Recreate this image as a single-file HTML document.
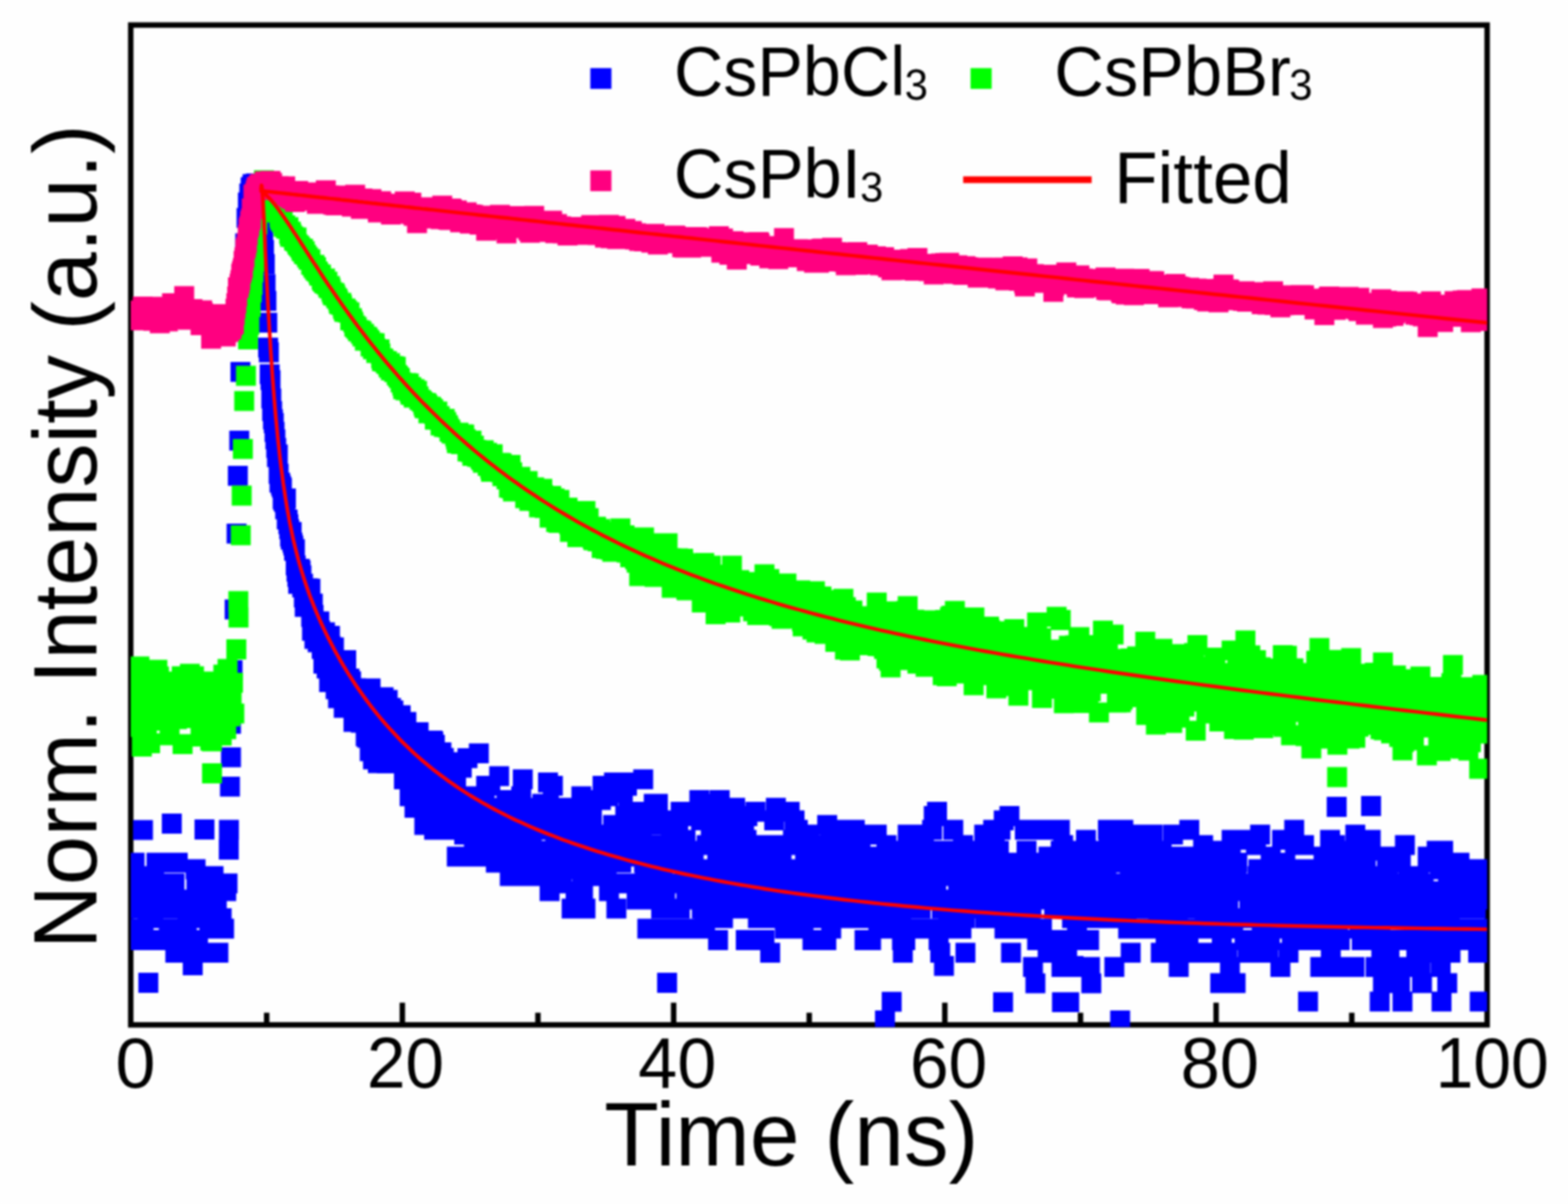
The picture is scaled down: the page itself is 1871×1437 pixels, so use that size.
<!DOCTYPE html>
<html lang="en"><head><meta charset="utf-8"><title>Time-resolved PL decay</title>
<style>html,body{margin:0;padding:0;background:#fefefe}body{width:1871px;height:1437px;overflow:hidden}svg{display:block;filter:blur(1.25px)}</style></head>
<body>
<svg width="1871" height="1437" viewBox="0 0 1871 1437">
<rect width="1871" height="1437" fill="#fefefe"/>
<defs><clipPath id="pc"><rect x="156.0" y="29.9" width="1618.5" height="1195.9"/></clipPath></defs>
<g stroke="#000" stroke-width="6.5" fill="none">
<rect x="156.0" y="29.9" width="1618.5" height="1193.3"/>
<line x1="318.2" y1="1223.2" x2="318.2" y2="1208.7"/>
<line x1="480.1" y1="1223.2" x2="480.1" y2="1196.7"/>
<line x1="641.9" y1="1223.2" x2="641.9" y2="1208.7"/>
<line x1="803.8" y1="1223.2" x2="803.8" y2="1196.7"/>
<line x1="965.6" y1="1223.2" x2="965.6" y2="1208.7"/>
<line x1="1127.4" y1="1223.2" x2="1127.4" y2="1196.7"/>
<line x1="1289.3" y1="1223.2" x2="1289.3" y2="1208.7"/>
<line x1="1451.1" y1="1223.2" x2="1451.1" y2="1196.7"/>
<line x1="1613.0" y1="1223.2" x2="1613.0" y2="1208.7"/>
</g>
<g clip-path="url(#pc)">
<path fill="#0000ff" d="M144.8,1033.8h23.8v23.8h-23.8zM145.8,1042.5h23.8v23.8h-23.8zM146.8,1042.5h23.8v23.8h-23.8zM147.7,1072.4h23.8v23.8h-23.8zM148.7,1017.8h23.8v23.8h-23.8zM149.7,1072.4h23.8v23.8h-23.8zM150.6,1051.8h23.8v23.8h-23.8zM151.6,1096.4h23.8v23.8h-23.8zM152.6,1096.4h23.8v23.8h-23.8zM153.6,1110.1h23.8v23.8h-23.8zM154.5,1096.4h23.8v23.8h-23.8zM155.5,1072.4h23.8v23.8h-23.8zM156.5,1096.4h23.8v23.8h-23.8zM157.4,1110.1h23.8v23.8h-23.8zM158.4,1061.7h23.8v23.8h-23.8zM159.4,1096.4h23.8v23.8h-23.8zM160.4,1072.4h23.8v23.8h-23.8zM161.3,1110.1h23.8v23.8h-23.8zM162.3,1051.8h23.8v23.8h-23.8zM163.3,1072.4h23.8v23.8h-23.8zM164.2,1083.9h23.8v23.8h-23.8zM165.2,1083.9h23.8v23.8h-23.8zM166.2,1033.8h23.8v23.8h-23.8zM167.2,1083.9h23.8v23.8h-23.8zM168.1,1072.4h23.8v23.8h-23.8zM169.1,1072.4h23.8v23.8h-23.8zM170.1,1072.4h23.8v23.8h-23.8zM171.0,1083.9h23.8v23.8h-23.8zM172.0,1033.8h23.8v23.8h-23.8zM173.0,1110.1h23.8v23.8h-23.8zM174.0,1051.8h23.8v23.8h-23.8zM174.9,1017.8h23.8v23.8h-23.8zM175.9,1072.4h23.8v23.8h-23.8zM176.9,1110.1h23.8v23.8h-23.8zM177.8,1061.7h23.8v23.8h-23.8zM178.8,1110.1h23.8v23.8h-23.8zM179.8,1110.1h23.8v23.8h-23.8zM180.8,1051.8h23.8v23.8h-23.8zM181.7,1017.8h23.8v23.8h-23.8zM182.7,1042.5h23.8v23.8h-23.8zM183.7,1110.1h23.8v23.8h-23.8zM184.6,1051.8h23.8v23.8h-23.8zM185.6,1042.5h23.8v23.8h-23.8zM186.6,1042.5h23.8v23.8h-23.8zM187.5,1072.4h23.8v23.8h-23.8zM188.5,1072.4h23.8v23.8h-23.8zM189.5,1096.4h23.8v23.8h-23.8zM190.5,1096.4h23.8v23.8h-23.8zM191.4,1051.8h23.8v23.8h-23.8zM192.4,1072.4h23.8v23.8h-23.8zM193.4,1051.8h23.8v23.8h-23.8zM194.3,1072.4h23.8v23.8h-23.8zM195.3,1051.8h23.8v23.8h-23.8zM196.3,1042.5h23.8v23.8h-23.8zM197.3,1125.2h23.8v23.8h-23.8zM198.2,1072.4h23.8v23.8h-23.8zM199.2,1096.4h23.8v23.8h-23.8zM200.2,1017.8h23.8v23.8h-23.8zM201.1,1096.4h23.8v23.8h-23.8zM202.1,1072.4h23.8v23.8h-23.8zM203.1,1072.4h23.8v23.8h-23.8zM204.1,1061.7h23.8v23.8h-23.8zM205.0,1110.1h23.8v23.8h-23.8zM206.0,1072.4h23.8v23.8h-23.8zM207.0,1125.2h23.8v23.8h-23.8zM207.9,1072.4h23.8v23.8h-23.8zM208.9,1072.4h23.8v23.8h-23.8zM209.9,1061.7h23.8v23.8h-23.8zM210.9,1096.4h23.8v23.8h-23.8zM211.8,1083.9h23.8v23.8h-23.8zM212.8,1110.1h23.8v23.8h-23.8zM213.8,1061.7h23.8v23.8h-23.8zM214.7,1083.9h23.8v23.8h-23.8zM215.7,1125.2h23.8v23.8h-23.8zM216.7,1072.4h23.8v23.8h-23.8zM217.7,1083.9h23.8v23.8h-23.8zM218.6,1110.1h23.8v23.8h-23.8zM219.6,1083.9h23.8v23.8h-23.8zM220.6,1061.7h23.8v23.8h-23.8zM221.5,1025.6h23.8v23.8h-23.8zM222.5,1042.5h23.8v23.8h-23.8zM223.5,1083.9h23.8v23.8h-23.8zM224.4,1110.1h23.8v23.8h-23.8zM225.4,1061.7h23.8v23.8h-23.8zM226.4,1125.2h23.8v23.8h-23.8zM227.4,1083.9h23.8v23.8h-23.8zM228.3,1072.4h23.8v23.8h-23.8zM229.3,1051.8h23.8v23.8h-23.8zM230.3,1083.9h23.8v23.8h-23.8zM231.2,1061.7h23.8v23.8h-23.8zM232.2,1072.4h23.8v23.8h-23.8zM233.2,1033.8h23.8v23.8h-23.8zM234.2,1061.7h23.8v23.8h-23.8zM235.1,1083.9h23.8v23.8h-23.8zM236.1,1042.5h23.8v23.8h-23.8zM237.1,1072.4h23.8v23.8h-23.8zM238.0,1096.4h23.8v23.8h-23.8zM239.0,1072.4h23.8v23.8h-23.8zM240.0,1061.7h23.8v23.8h-23.8zM241.0,1061.7h23.8v23.8h-23.8zM241.9,1096.4h23.8v23.8h-23.8zM242.9,1033.8h23.8v23.8h-23.8zM243.9,1072.4h23.8v23.8h-23.8zM244.8,1061.7h23.8v23.8h-23.8zM245.8,1083.9h23.8v23.8h-23.8zM246.8,1072.4h23.8v23.8h-23.8zM247.8,1051.8h23.8v23.8h-23.8zM248.7,1125.2h23.8v23.8h-23.8zM249.7,1083.9h23.8v23.8h-23.8zM250.7,1042.5h23.8v23.8h-23.8zM251.6,1051.8h23.8v23.8h-23.8zM252.6,1083.9h23.8v23.8h-23.8zM253.6,1096.4h23.8v23.8h-23.8zM254.6,1042.5h23.8v23.8h-23.8zM255.5,1096.4h23.8v23.8h-23.8zM256.4,1042.5h23.8v23.8h-23.8zM258.0,1051.8h23.8v23.8h-23.8zM259.6,1042.5h23.8v23.8h-23.8zM261.3,978.4h23.8v23.8h-23.8zM277.5,361.8h23.8v23.8h-23.8zM279.1,309.0h23.8v23.8h-23.8zM280.7,278.6h23.8v23.8h-23.8zM282.3,248.2h23.8v23.8h-23.8zM283.9,229.8h23.8v23.8h-23.8zM285.6,219.1h23.8v23.8h-23.8zM287.2,211.8h23.8v23.8h-23.8zM288.5,211.0h23.8v23.8h-23.8zM289.5,207.7h23.8v23.8h-23.8zM290.5,210.4h23.8v23.8h-23.8zM291.5,211.1h23.8v23.8h-23.8zM292.4,208.5h23.8v23.8h-23.8zM293.4,207.1h23.8v23.8h-23.8zM294.4,214.3h23.8v23.8h-23.8zM295.3,215.2h23.8v23.8h-23.8zM296.3,211.9h23.8v23.8h-23.8zM297.3,220.1h23.8v23.8h-23.8zM298.2,229.9h23.8v23.8h-23.8zM299.2,233.6h23.8v23.8h-23.8zM300.2,245.5h23.8v23.8h-23.8zM301.2,254.1h23.8v23.8h-23.8zM302.1,272.3h23.8v23.8h-23.8zM303.1,286.5h23.8v23.8h-23.8zM304.1,303.3h23.8v23.8h-23.8zM305.0,327.3h23.8v23.8h-23.8zM306.0,347.3h23.8v23.8h-23.8zM307.0,373.2h23.8v23.8h-23.8zM308.0,403.0h23.8v23.8h-23.8zM308.9,408.6h23.8v23.8h-23.8zM309.9,434.7h23.8v23.8h-23.8zM310.9,441.7h23.8v23.8h-23.8zM311.8,463.8h23.8v23.8h-23.8zM312.8,478.7h23.8v23.8h-23.8zM313.8,488.6h23.8v23.8h-23.8zM314.8,493.1h23.8v23.8h-23.8zM315.7,503.6h23.8v23.8h-23.8zM316.7,512.5h23.8v23.8h-23.8zM317.7,522.8h23.8v23.8h-23.8zM318.6,533.8h23.8v23.8h-23.8zM319.6,530.5h23.8v23.8h-23.8zM320.6,553.6h23.8v23.8h-23.8zM321.6,563.9h23.8v23.8h-23.8zM322.5,564.5h23.8v23.8h-23.8zM323.5,567.7h23.8v23.8h-23.8zM324.5,570.3h23.8v23.8h-23.8zM325.4,583.9h23.8v23.8h-23.8zM326.4,586.0h23.8v23.8h-23.8zM327.4,587.5h23.8v23.8h-23.8zM328.4,596.0h23.8v23.8h-23.8zM329.3,583.1h23.8v23.8h-23.8zM330.3,607.9h23.8v23.8h-23.8zM331.3,608.2h23.8v23.8h-23.8zM332.2,613.8h23.8v23.8h-23.8zM333.2,619.8h23.8v23.8h-23.8zM334.2,628.7h23.8v23.8h-23.8zM335.1,632.2h23.8v23.8h-23.8zM336.1,622.9h23.8v23.8h-23.8zM337.1,635.7h23.8v23.8h-23.8zM338.1,639.3h23.8v23.8h-23.8zM339.0,645.5h23.8v23.8h-23.8zM340.0,643.4h23.8v23.8h-23.8zM341.0,663.0h23.8v23.8h-23.8zM341.9,670.5h23.8v23.8h-23.8zM342.9,676.8h23.8v23.8h-23.8zM343.9,684.9h23.8v23.8h-23.8zM344.9,684.5h23.8v23.8h-23.8zM345.8,667.1h23.8v23.8h-23.8zM346.8,669.0h23.8v23.8h-23.8zM347.8,674.8h23.8v23.8h-23.8zM348.7,689.1h23.8v23.8h-23.8zM349.7,684.7h23.8v23.8h-23.8zM350.7,701.2h23.8v23.8h-23.8zM351.7,712.5h23.8v23.8h-23.8zM352.6,691.1h23.8v23.8h-23.8zM353.6,711.4h23.8v23.8h-23.8zM354.6,697.8h23.8v23.8h-23.8zM355.5,690.3h23.8v23.8h-23.8zM356.5,693.1h23.8v23.8h-23.8zM357.5,707.9h23.8v23.8h-23.8zM358.5,690.8h23.8v23.8h-23.8zM359.4,724.4h23.8v23.8h-23.8zM360.4,740.9h23.8v23.8h-23.8zM361.4,708.4h23.8v23.8h-23.8zM362.3,722.0h23.8v23.8h-23.8zM363.3,750.6h23.8v23.8h-23.8zM364.3,736.8h23.8v23.8h-23.8zM365.2,737.5h23.8v23.8h-23.8zM366.2,733.8h23.8v23.8h-23.8zM367.2,754.7h23.8v23.8h-23.8zM368.2,747.4h23.8v23.8h-23.8zM369.1,729.7h23.8v23.8h-23.8zM370.1,740.8h23.8v23.8h-23.8zM371.1,749.4h23.8v23.8h-23.8zM372.0,762.7h23.8v23.8h-23.8zM373.0,751.2h23.8v23.8h-23.8zM374.0,780.1h23.8v23.8h-23.8zM375.0,767.9h23.8v23.8h-23.8zM375.9,742.7h23.8v23.8h-23.8zM376.9,769.1h23.8v23.8h-23.8zM377.9,786.0h23.8v23.8h-23.8zM378.8,754.7h23.8v23.8h-23.8zM379.8,763.0h23.8v23.8h-23.8zM380.8,802.2h23.8v23.8h-23.8zM381.8,747.1h23.8v23.8h-23.8zM382.7,759.6h23.8v23.8h-23.8zM383.7,797.4h23.8v23.8h-23.8zM384.7,784.8h23.8v23.8h-23.8zM385.6,764.2h23.8v23.8h-23.8zM386.6,760.7h23.8v23.8h-23.8zM387.6,795.3h23.8v23.8h-23.8zM388.6,810.6h23.8v23.8h-23.8zM389.5,805.6h23.8v23.8h-23.8zM390.5,800.0h23.8v23.8h-23.8zM391.5,821.5h23.8v23.8h-23.8zM392.4,801.7h23.8v23.8h-23.8zM393.4,782.7h23.8v23.8h-23.8zM394.4,805.0h23.8v23.8h-23.8zM395.4,778.4h23.8v23.8h-23.8zM396.3,800.2h23.8v23.8h-23.8zM397.3,802.9h23.8v23.8h-23.8zM398.3,832.9h23.8v23.8h-23.8zM399.2,792.9h23.8v23.8h-23.8zM400.2,803.6h23.8v23.8h-23.8zM401.2,776.0h23.8v23.8h-23.8zM402.1,818.5h23.8v23.8h-23.8zM403.1,822.1h23.8v23.8h-23.8zM404.1,827.7h23.8v23.8h-23.8zM405.1,797.9h23.8v23.8h-23.8zM406.0,822.5h23.8v23.8h-23.8zM407.0,801.3h23.8v23.8h-23.8zM408.0,810.9h23.8v23.8h-23.8zM408.9,820.5h23.8v23.8h-23.8zM409.9,849.6h23.8v23.8h-23.8zM410.9,815.7h23.8v23.8h-23.8zM411.9,829.9h23.8v23.8h-23.8zM412.8,809.6h23.8v23.8h-23.8zM413.8,816.7h23.8v23.8h-23.8zM414.8,815.1h23.8v23.8h-23.8zM415.7,828.2h23.8v23.8h-23.8zM416.7,849.0h23.8v23.8h-23.8zM417.7,809.7h23.8v23.8h-23.8zM418.7,850.8h23.8v23.8h-23.8zM419.6,815.4h23.8v23.8h-23.8zM420.6,845.3h23.8v23.8h-23.8zM421.6,826.8h23.8v23.8h-23.8zM422.5,833.7h23.8v23.8h-23.8zM423.5,832.8h23.8v23.8h-23.8zM424.5,866.9h23.8v23.8h-23.8zM425.5,849.8h23.8v23.8h-23.8zM426.4,868.8h23.8v23.8h-23.8zM427.4,837.9h23.8v23.8h-23.8zM428.4,842.0h23.8v23.8h-23.8zM429.3,884.6h23.8v23.8h-23.8zM430.3,809.7h23.8v23.8h-23.8zM431.3,829.6h23.8v23.8h-23.8zM432.3,848.0h23.8v23.8h-23.8zM433.2,894.5h23.8v23.8h-23.8zM434.2,839.4h23.8v23.8h-23.8zM435.2,874.0h23.8v23.8h-23.8zM436.1,893.1h23.8v23.8h-23.8zM437.1,852.2h23.8v23.8h-23.8zM438.1,854.9h23.8v23.8h-23.8zM439.0,899.0h23.8v23.8h-23.8zM440.0,847.1h23.8v23.8h-23.8zM441.0,834.9h23.8v23.8h-23.8zM442.0,883.3h23.8v23.8h-23.8zM442.9,851.2h23.8v23.8h-23.8zM443.9,896.7h23.8v23.8h-23.8zM444.9,880.1h23.8v23.8h-23.8zM445.8,820.2h23.8v23.8h-23.8zM446.8,876.2h23.8v23.8h-23.8zM447.8,870.9h23.8v23.8h-23.8zM448.8,853.1h23.8v23.8h-23.8zM449.7,899.3h23.8v23.8h-23.8zM450.7,823.5h23.8v23.8h-23.8zM451.7,839.0h23.8v23.8h-23.8zM452.6,861.6h23.8v23.8h-23.8zM453.6,896.4h23.8v23.8h-23.8zM454.6,833.0h23.8v23.8h-23.8zM455.6,860.3h23.8v23.8h-23.8zM456.5,858.9h23.8v23.8h-23.8zM457.5,836.1h23.8v23.8h-23.8zM458.5,870.5h23.8v23.8h-23.8zM459.4,848.5h23.8v23.8h-23.8zM460.4,870.5h23.8v23.8h-23.8zM461.4,892.5h23.8v23.8h-23.8zM462.4,858.3h23.8v23.8h-23.8zM463.3,860.5h23.8v23.8h-23.8zM464.3,857.8h23.8v23.8h-23.8zM465.3,863.0h23.8v23.8h-23.8zM466.2,841.8h23.8v23.8h-23.8zM467.2,854.6h23.8v23.8h-23.8zM468.2,895.6h23.8v23.8h-23.8zM469.2,865.9h23.8v23.8h-23.8zM470.1,918.2h23.8v23.8h-23.8zM471.1,869.8h23.8v23.8h-23.8zM472.1,908.6h23.8v23.8h-23.8zM473.0,849.8h23.8v23.8h-23.8zM474.0,890.0h23.8v23.8h-23.8zM475.0,882.1h23.8v23.8h-23.8zM475.9,898.1h23.8v23.8h-23.8zM476.9,938.5h23.8v23.8h-23.8zM477.9,897.3h23.8v23.8h-23.8zM478.9,864.7h23.8v23.8h-23.8zM479.8,908.2h23.8v23.8h-23.8zM480.8,874.4h23.8v23.8h-23.8zM481.8,903.0h23.8v23.8h-23.8zM482.7,952.2h23.8v23.8h-23.8zM483.7,934.2h23.8v23.8h-23.8zM484.7,938.5h23.8v23.8h-23.8zM485.7,926.0h23.8v23.8h-23.8zM486.6,910.8h23.8v23.8h-23.8zM487.6,861.9h23.8v23.8h-23.8zM488.6,898.4h23.8v23.8h-23.8zM489.5,897.4h23.8v23.8h-23.8zM490.5,934.2h23.8v23.8h-23.8zM491.5,942.9h23.8v23.8h-23.8zM492.5,930.0h23.8v23.8h-23.8zM493.4,892.0h23.8v23.8h-23.8zM494.4,972.7h23.8v23.8h-23.8zM495.4,962.1h23.8v23.8h-23.8zM496.3,914.5h23.8v23.8h-23.8zM497.3,930.0h23.8v23.8h-23.8zM498.3,942.9h23.8v23.8h-23.8zM499.3,926.0h23.8v23.8h-23.8zM500.2,922.0h23.8v23.8h-23.8zM501.2,938.5h23.8v23.8h-23.8zM502.2,926.0h23.8v23.8h-23.8zM503.1,934.2h23.8v23.8h-23.8zM504.1,872.1h23.8v23.8h-23.8zM505.1,872.9h23.8v23.8h-23.8zM506.1,978.4h23.8v23.8h-23.8zM507.0,877.1h23.8v23.8h-23.8zM508.0,947.5h23.8v23.8h-23.8zM509.0,942.9h23.8v23.8h-23.8zM509.9,938.5h23.8v23.8h-23.8zM510.9,908.9h23.8v23.8h-23.8zM511.9,962.1h23.8v23.8h-23.8zM512.8,947.5h23.8v23.8h-23.8zM513.8,922.0h23.8v23.8h-23.8zM514.8,885.9h23.8v23.8h-23.8zM515.8,930.0h23.8v23.8h-23.8zM516.7,914.5h23.8v23.8h-23.8zM517.7,892.8h23.8v23.8h-23.8zM518.7,952.2h23.8v23.8h-23.8zM519.6,957.0h23.8v23.8h-23.8zM520.6,967.3h23.8v23.8h-23.8zM521.6,942.9h23.8v23.8h-23.8zM522.6,934.2h23.8v23.8h-23.8zM523.5,978.4h23.8v23.8h-23.8zM524.5,967.3h23.8v23.8h-23.8zM525.5,906.7h23.8v23.8h-23.8zM526.4,962.1h23.8v23.8h-23.8zM527.4,910.4h23.8v23.8h-23.8zM528.4,972.7h23.8v23.8h-23.8zM529.4,914.5h23.8v23.8h-23.8zM530.3,957.0h23.8v23.8h-23.8zM531.3,938.5h23.8v23.8h-23.8zM532.3,926.0h23.8v23.8h-23.8zM533.2,1010.5h23.8v23.8h-23.8zM534.2,942.9h23.8v23.8h-23.8zM535.2,938.5h23.8v23.8h-23.8zM536.2,962.1h23.8v23.8h-23.8zM537.1,897.7h23.8v23.8h-23.8zM538.1,942.9h23.8v23.8h-23.8zM539.1,904.4h23.8v23.8h-23.8zM540.0,947.5h23.8v23.8h-23.8zM541.0,967.3h23.8v23.8h-23.8zM542.0,984.3h23.8v23.8h-23.8zM543.0,938.5h23.8v23.8h-23.8zM543.9,978.4h23.8v23.8h-23.8zM544.9,938.5h23.8v23.8h-23.8zM545.9,893.0h23.8v23.8h-23.8zM546.8,972.7h23.8v23.8h-23.8zM547.8,947.5h23.8v23.8h-23.8zM548.8,962.1h23.8v23.8h-23.8zM549.7,957.0h23.8v23.8h-23.8zM550.7,967.3h23.8v23.8h-23.8zM551.7,967.3h23.8v23.8h-23.8zM552.7,967.3h23.8v23.8h-23.8zM553.6,996.8h23.8v23.8h-23.8zM554.6,947.5h23.8v23.8h-23.8zM555.6,1010.5h23.8v23.8h-23.8zM556.5,984.3h23.8v23.8h-23.8zM557.5,978.4h23.8v23.8h-23.8zM558.5,967.3h23.8v23.8h-23.8zM559.5,887.3h23.8v23.8h-23.8zM560.4,1010.5h23.8v23.8h-23.8zM561.4,978.4h23.8v23.8h-23.8zM562.4,996.8h23.8v23.8h-23.8zM563.3,952.2h23.8v23.8h-23.8zM564.3,962.1h23.8v23.8h-23.8zM565.3,984.3h23.8v23.8h-23.8zM566.3,938.5h23.8v23.8h-23.8zM567.2,1010.5h23.8v23.8h-23.8zM568.2,926.0h23.8v23.8h-23.8zM569.2,978.4h23.8v23.8h-23.8zM570.1,962.1h23.8v23.8h-23.8zM571.1,984.3h23.8v23.8h-23.8zM572.1,1010.5h23.8v23.8h-23.8zM573.1,926.0h23.8v23.8h-23.8zM574.0,984.3h23.8v23.8h-23.8zM575.0,978.4h23.8v23.8h-23.8zM576.0,1003.4h23.8v23.8h-23.8zM576.9,972.7h23.8v23.8h-23.8zM577.9,957.0h23.8v23.8h-23.8zM578.9,990.4h23.8v23.8h-23.8zM579.8,1017.8h23.8v23.8h-23.8zM580.8,1003.4h23.8v23.8h-23.8zM581.8,984.3h23.8v23.8h-23.8zM582.8,990.4h23.8v23.8h-23.8zM583.7,914.5h23.8v23.8h-23.8zM584.7,957.0h23.8v23.8h-23.8zM585.7,967.3h23.8v23.8h-23.8zM586.6,957.0h23.8v23.8h-23.8zM587.6,952.2h23.8v23.8h-23.8zM588.6,978.4h23.8v23.8h-23.8zM589.6,996.8h23.8v23.8h-23.8zM590.5,967.3h23.8v23.8h-23.8zM591.5,952.2h23.8v23.8h-23.8zM592.5,942.9h23.8v23.8h-23.8zM593.4,1017.8h23.8v23.8h-23.8zM594.4,990.4h23.8v23.8h-23.8zM595.4,947.5h23.8v23.8h-23.8zM596.4,1033.8h23.8v23.8h-23.8zM597.3,972.7h23.8v23.8h-23.8zM598.3,972.7h23.8v23.8h-23.8zM599.3,957.0h23.8v23.8h-23.8zM600.2,947.5h23.8v23.8h-23.8zM601.2,990.4h23.8v23.8h-23.8zM602.2,947.5h23.8v23.8h-23.8zM603.2,972.7h23.8v23.8h-23.8zM604.1,996.8h23.8v23.8h-23.8zM605.1,978.4h23.8v23.8h-23.8zM606.1,952.2h23.8v23.8h-23.8zM607.0,996.8h23.8v23.8h-23.8zM608.0,1017.8h23.8v23.8h-23.8zM609.0,996.8h23.8v23.8h-23.8zM610.0,938.5h23.8v23.8h-23.8zM610.9,978.4h23.8v23.8h-23.8zM611.9,918.2h23.8v23.8h-23.8zM612.9,1033.8h23.8v23.8h-23.8zM613.8,1010.5h23.8v23.8h-23.8zM614.8,996.8h23.8v23.8h-23.8zM615.8,996.8h23.8v23.8h-23.8zM616.7,967.3h23.8v23.8h-23.8zM617.7,984.3h23.8v23.8h-23.8zM618.7,1025.6h23.8v23.8h-23.8zM619.7,990.4h23.8v23.8h-23.8zM620.6,1010.5h23.8v23.8h-23.8zM621.6,996.8h23.8v23.8h-23.8zM622.6,996.8h23.8v23.8h-23.8zM623.5,1003.4h23.8v23.8h-23.8zM624.5,1025.6h23.8v23.8h-23.8zM625.5,978.4h23.8v23.8h-23.8zM626.5,1017.8h23.8v23.8h-23.8zM627.4,957.0h23.8v23.8h-23.8zM628.4,967.3h23.8v23.8h-23.8zM629.4,962.1h23.8v23.8h-23.8zM630.3,1025.6h23.8v23.8h-23.8zM631.3,978.4h23.8v23.8h-23.8zM632.3,1033.8h23.8v23.8h-23.8zM633.3,952.2h23.8v23.8h-23.8zM634.2,1010.5h23.8v23.8h-23.8zM635.2,947.5h23.8v23.8h-23.8zM636.2,1033.8h23.8v23.8h-23.8zM637.1,967.3h23.8v23.8h-23.8zM638.1,1010.5h23.8v23.8h-23.8zM639.1,967.3h23.8v23.8h-23.8zM640.1,962.1h23.8v23.8h-23.8zM641.0,1003.4h23.8v23.8h-23.8zM642.0,922.0h23.8v23.8h-23.8zM643.0,947.5h23.8v23.8h-23.8zM643.9,1051.8h23.8v23.8h-23.8zM644.9,962.1h23.8v23.8h-23.8zM645.9,1025.6h23.8v23.8h-23.8zM646.9,962.1h23.8v23.8h-23.8zM647.8,926.0h23.8v23.8h-23.8zM648.8,978.4h23.8v23.8h-23.8zM649.8,1025.6h23.8v23.8h-23.8zM650.7,996.8h23.8v23.8h-23.8zM651.7,984.3h23.8v23.8h-23.8zM652.7,1025.6h23.8v23.8h-23.8zM653.6,967.3h23.8v23.8h-23.8zM654.6,1025.6h23.8v23.8h-23.8zM655.6,1010.5h23.8v23.8h-23.8zM656.6,957.0h23.8v23.8h-23.8zM657.5,1033.8h23.8v23.8h-23.8zM658.5,1042.5h23.8v23.8h-23.8zM659.5,990.4h23.8v23.8h-23.8zM660.4,1003.4h23.8v23.8h-23.8zM661.4,990.4h23.8v23.8h-23.8zM662.4,952.2h23.8v23.8h-23.8zM663.4,1025.6h23.8v23.8h-23.8zM664.3,957.0h23.8v23.8h-23.8zM665.3,1017.8h23.8v23.8h-23.8zM666.3,978.4h23.8v23.8h-23.8zM667.2,957.0h23.8v23.8h-23.8zM668.2,1025.6h23.8v23.8h-23.8zM669.2,1010.5h23.8v23.8h-23.8zM670.2,1072.4h23.8v23.8h-23.8zM671.1,996.8h23.8v23.8h-23.8zM672.1,1010.5h23.8v23.8h-23.8zM673.1,1003.4h23.8v23.8h-23.8zM674.0,990.4h23.8v23.8h-23.8zM675.0,1051.8h23.8v23.8h-23.8zM676.0,1061.7h23.8v23.8h-23.8zM677.0,1025.6h23.8v23.8h-23.8zM677.9,962.1h23.8v23.8h-23.8zM678.9,1017.8h23.8v23.8h-23.8zM679.9,1003.4h23.8v23.8h-23.8zM680.8,984.3h23.8v23.8h-23.8zM681.8,938.5h23.8v23.8h-23.8zM682.8,1033.8h23.8v23.8h-23.8zM683.8,1051.8h23.8v23.8h-23.8zM684.7,1017.8h23.8v23.8h-23.8zM685.7,1025.6h23.8v23.8h-23.8zM686.7,1072.4h23.8v23.8h-23.8zM687.6,990.4h23.8v23.8h-23.8zM688.6,1010.5h23.8v23.8h-23.8zM689.6,972.7h23.8v23.8h-23.8zM690.5,1033.8h23.8v23.8h-23.8zM691.5,1010.5h23.8v23.8h-23.8zM692.5,1033.8h23.8v23.8h-23.8zM693.5,984.3h23.8v23.8h-23.8zM694.4,962.1h23.8v23.8h-23.8zM695.4,1025.6h23.8v23.8h-23.8zM696.4,996.8h23.8v23.8h-23.8zM697.3,1010.5h23.8v23.8h-23.8zM698.3,1025.6h23.8v23.8h-23.8zM699.3,1010.5h23.8v23.8h-23.8zM700.3,942.9h23.8v23.8h-23.8zM701.2,1033.8h23.8v23.8h-23.8zM702.2,984.3h23.8v23.8h-23.8zM703.2,996.8h23.8v23.8h-23.8zM704.1,1025.6h23.8v23.8h-23.8zM705.1,942.9h23.8v23.8h-23.8zM706.1,996.8h23.8v23.8h-23.8zM707.1,926.0h23.8v23.8h-23.8zM708.0,984.3h23.8v23.8h-23.8zM709.0,1017.8h23.8v23.8h-23.8zM710.0,1003.4h23.8v23.8h-23.8zM710.9,996.8h23.8v23.8h-23.8zM711.9,1033.8h23.8v23.8h-23.8zM712.9,990.4h23.8v23.8h-23.8zM713.9,938.5h23.8v23.8h-23.8zM714.8,1051.8h23.8v23.8h-23.8zM715.8,1017.8h23.8v23.8h-23.8zM716.8,1042.5h23.8v23.8h-23.8zM717.7,990.4h23.8v23.8h-23.8zM718.7,990.4h23.8v23.8h-23.8zM719.7,972.7h23.8v23.8h-23.8zM720.7,922.0h23.8v23.8h-23.8zM721.6,990.4h23.8v23.8h-23.8zM722.6,978.4h23.8v23.8h-23.8zM723.6,1072.4h23.8v23.8h-23.8zM724.5,922.0h23.8v23.8h-23.8zM725.5,1010.5h23.8v23.8h-23.8zM726.5,996.8h23.8v23.8h-23.8zM727.4,1003.4h23.8v23.8h-23.8zM728.4,1003.4h23.8v23.8h-23.8zM729.4,1017.8h23.8v23.8h-23.8zM730.4,1042.5h23.8v23.8h-23.8zM731.3,934.2h23.8v23.8h-23.8zM732.3,1042.5h23.8v23.8h-23.8zM733.3,996.8h23.8v23.8h-23.8zM734.2,962.1h23.8v23.8h-23.8zM735.2,922.0h23.8v23.8h-23.8zM736.2,926.0h23.8v23.8h-23.8zM737.2,1003.4h23.8v23.8h-23.8zM738.1,957.0h23.8v23.8h-23.8zM739.1,957.0h23.8v23.8h-23.8zM740.1,984.3h23.8v23.8h-23.8zM741.0,1010.5h23.8v23.8h-23.8zM742.0,984.3h23.8v23.8h-23.8zM743.0,957.0h23.8v23.8h-23.8zM744.0,978.4h23.8v23.8h-23.8zM744.9,1003.4h23.8v23.8h-23.8zM745.9,962.1h23.8v23.8h-23.8zM746.9,1042.5h23.8v23.8h-23.8zM747.8,1061.7h23.8v23.8h-23.8zM748.8,1061.7h23.8v23.8h-23.8zM749.8,996.8h23.8v23.8h-23.8zM750.8,996.8h23.8v23.8h-23.8zM751.7,967.3h23.8v23.8h-23.8zM752.7,1061.7h23.8v23.8h-23.8zM753.7,990.4h23.8v23.8h-23.8zM754.6,1051.8h23.8v23.8h-23.8zM755.6,918.2h23.8v23.8h-23.8zM756.6,1017.8h23.8v23.8h-23.8zM757.5,1033.8h23.8v23.8h-23.8zM758.5,1010.5h23.8v23.8h-23.8zM759.5,1033.8h23.8v23.8h-23.8zM760.5,1096.4h23.8v23.8h-23.8zM761.4,1010.5h23.8v23.8h-23.8zM762.4,1042.5h23.8v23.8h-23.8zM763.4,996.8h23.8v23.8h-23.8zM764.3,957.0h23.8v23.8h-23.8zM765.3,967.3h23.8v23.8h-23.8zM766.3,1051.8h23.8v23.8h-23.8zM767.3,1025.6h23.8v23.8h-23.8zM768.2,947.5h23.8v23.8h-23.8zM769.2,1025.6h23.8v23.8h-23.8zM770.2,1042.5h23.8v23.8h-23.8zM771.1,1033.8h23.8v23.8h-23.8zM772.1,1061.7h23.8v23.8h-23.8zM773.1,947.5h23.8v23.8h-23.8zM774.1,972.7h23.8v23.8h-23.8zM775.0,967.3h23.8v23.8h-23.8zM776.0,1025.6h23.8v23.8h-23.8zM777.0,1072.4h23.8v23.8h-23.8zM777.9,996.8h23.8v23.8h-23.8zM778.9,1033.8h23.8v23.8h-23.8zM779.9,1051.8h23.8v23.8h-23.8zM780.9,996.8h23.8v23.8h-23.8zM781.8,1051.8h23.8v23.8h-23.8zM782.8,1017.8h23.8v23.8h-23.8zM783.8,1096.4h23.8v23.8h-23.8zM784.7,1072.4h23.8v23.8h-23.8zM785.7,996.8h23.8v23.8h-23.8zM786.7,996.8h23.8v23.8h-23.8zM787.7,1096.4h23.8v23.8h-23.8zM788.6,984.3h23.8v23.8h-23.8zM789.6,1072.4h23.8v23.8h-23.8zM790.6,1003.4h23.8v23.8h-23.8zM791.5,967.3h23.8v23.8h-23.8zM792.5,1096.4h23.8v23.8h-23.8zM793.5,1042.5h23.8v23.8h-23.8zM794.4,972.7h23.8v23.8h-23.8zM795.4,1010.5h23.8v23.8h-23.8zM796.4,990.4h23.8v23.8h-23.8zM797.4,978.4h23.8v23.8h-23.8zM798.3,1017.8h23.8v23.8h-23.8zM799.3,1072.4h23.8v23.8h-23.8zM800.3,957.0h23.8v23.8h-23.8zM801.2,1042.5h23.8v23.8h-23.8zM802.2,957.0h23.8v23.8h-23.8zM803.2,1017.8h23.8v23.8h-23.8zM804.2,957.0h23.8v23.8h-23.8zM805.1,962.1h23.8v23.8h-23.8zM806.1,990.4h23.8v23.8h-23.8zM807.1,1061.7h23.8v23.8h-23.8zM808.0,1061.7h23.8v23.8h-23.8zM809.0,1017.8h23.8v23.8h-23.8zM810.0,1010.5h23.8v23.8h-23.8zM811.0,1025.6h23.8v23.8h-23.8zM811.9,1096.4h23.8v23.8h-23.8zM812.9,1042.5h23.8v23.8h-23.8zM813.9,1017.8h23.8v23.8h-23.8zM814.8,1003.4h23.8v23.8h-23.8zM815.8,1010.5h23.8v23.8h-23.8zM816.8,1051.8h23.8v23.8h-23.8zM817.8,1051.8h23.8v23.8h-23.8zM818.7,1042.5h23.8v23.8h-23.8zM819.7,962.1h23.8v23.8h-23.8zM820.7,1042.5h23.8v23.8h-23.8zM821.6,1025.6h23.8v23.8h-23.8zM822.6,942.9h23.8v23.8h-23.8zM823.6,957.0h23.8v23.8h-23.8zM824.6,967.3h23.8v23.8h-23.8zM825.5,1072.4h23.8v23.8h-23.8zM826.5,1025.6h23.8v23.8h-23.8zM827.5,1061.7h23.8v23.8h-23.8zM828.4,1083.9h23.8v23.8h-23.8zM829.4,1096.4h23.8v23.8h-23.8zM830.4,1051.8h23.8v23.8h-23.8zM831.3,996.8h23.8v23.8h-23.8zM832.3,952.2h23.8v23.8h-23.8zM833.3,1033.8h23.8v23.8h-23.8zM834.3,947.5h23.8v23.8h-23.8zM835.2,1033.8h23.8v23.8h-23.8zM836.2,990.4h23.8v23.8h-23.8zM837.2,1042.5h23.8v23.8h-23.8zM838.1,1061.7h23.8v23.8h-23.8zM839.1,1025.6h23.8v23.8h-23.8zM840.1,967.3h23.8v23.8h-23.8zM841.1,1033.8h23.8v23.8h-23.8zM842.0,996.8h23.8v23.8h-23.8zM843.0,1042.5h23.8v23.8h-23.8zM844.0,1010.5h23.8v23.8h-23.8zM844.9,1110.1h23.8v23.8h-23.8zM845.9,1003.4h23.8v23.8h-23.8zM846.9,942.9h23.8v23.8h-23.8zM847.9,990.4h23.8v23.8h-23.8zM848.8,1033.8h23.8v23.8h-23.8zM849.8,952.2h23.8v23.8h-23.8zM850.8,1083.9h23.8v23.8h-23.8zM851.7,1003.4h23.8v23.8h-23.8zM852.7,1033.8h23.8v23.8h-23.8zM853.7,978.4h23.8v23.8h-23.8zM854.7,967.3h23.8v23.8h-23.8zM855.6,1072.4h23.8v23.8h-23.8zM856.6,1051.8h23.8v23.8h-23.8zM857.6,996.8h23.8v23.8h-23.8zM858.5,996.8h23.8v23.8h-23.8zM859.5,1051.8h23.8v23.8h-23.8zM860.5,1061.7h23.8v23.8h-23.8zM861.5,996.8h23.8v23.8h-23.8zM862.4,957.0h23.8v23.8h-23.8zM863.4,1072.4h23.8v23.8h-23.8zM864.4,996.8h23.8v23.8h-23.8zM865.3,952.2h23.8v23.8h-23.8zM866.3,1025.6h23.8v23.8h-23.8zM867.3,1042.5h23.8v23.8h-23.8zM868.2,1072.4h23.8v23.8h-23.8zM869.2,1017.8h23.8v23.8h-23.8zM870.2,1042.5h23.8v23.8h-23.8zM871.2,978.4h23.8v23.8h-23.8zM872.1,1051.8h23.8v23.8h-23.8zM873.1,967.3h23.8v23.8h-23.8zM874.1,1061.7h23.8v23.8h-23.8zM875.0,1042.5h23.8v23.8h-23.8zM876.0,967.3h23.8v23.8h-23.8zM877.0,1003.4h23.8v23.8h-23.8zM878.0,1110.1h23.8v23.8h-23.8zM878.9,990.4h23.8v23.8h-23.8zM879.9,962.1h23.8v23.8h-23.8zM880.9,1025.6h23.8v23.8h-23.8zM881.8,1042.5h23.8v23.8h-23.8zM882.8,1072.4h23.8v23.8h-23.8zM883.8,1025.6h23.8v23.8h-23.8zM884.8,1017.8h23.8v23.8h-23.8zM885.7,1025.6h23.8v23.8h-23.8zM886.7,1072.4h23.8v23.8h-23.8zM887.7,1025.6h23.8v23.8h-23.8zM888.6,1061.7h23.8v23.8h-23.8zM889.6,957.0h23.8v23.8h-23.8zM890.6,1017.8h23.8v23.8h-23.8zM891.6,1033.8h23.8v23.8h-23.8zM892.5,1083.9h23.8v23.8h-23.8zM893.5,1051.8h23.8v23.8h-23.8zM894.5,1042.5h23.8v23.8h-23.8zM895.4,1083.9h23.8v23.8h-23.8zM896.4,1042.5h23.8v23.8h-23.8zM897.4,1042.5h23.8v23.8h-23.8zM898.4,996.8h23.8v23.8h-23.8zM899.3,1042.5h23.8v23.8h-23.8zM900.3,1110.1h23.8v23.8h-23.8zM901.3,1072.4h23.8v23.8h-23.8zM902.2,1051.8h23.8v23.8h-23.8zM903.2,1083.9h23.8v23.8h-23.8zM904.2,1017.8h23.8v23.8h-23.8zM905.1,1042.5h23.8v23.8h-23.8zM906.1,1042.5h23.8v23.8h-23.8zM907.1,1125.2h23.8v23.8h-23.8zM908.1,1051.8h23.8v23.8h-23.8zM909.0,1061.7h23.8v23.8h-23.8zM910.0,1033.8h23.8v23.8h-23.8zM911.0,1051.8h23.8v23.8h-23.8zM911.9,967.3h23.8v23.8h-23.8zM912.9,1061.7h23.8v23.8h-23.8zM913.9,952.2h23.8v23.8h-23.8zM914.9,1072.4h23.8v23.8h-23.8zM915.8,1083.9h23.8v23.8h-23.8zM916.8,1051.8h23.8v23.8h-23.8zM917.8,996.8h23.8v23.8h-23.8zM918.7,1025.6h23.8v23.8h-23.8zM919.7,1033.8h23.8v23.8h-23.8zM920.7,1010.5h23.8v23.8h-23.8zM921.7,1051.8h23.8v23.8h-23.8zM922.6,1042.5h23.8v23.8h-23.8zM923.6,1025.6h23.8v23.8h-23.8zM924.6,1096.4h23.8v23.8h-23.8zM925.5,1051.8h23.8v23.8h-23.8zM926.5,1042.5h23.8v23.8h-23.8zM927.5,1051.8h23.8v23.8h-23.8zM928.5,996.8h23.8v23.8h-23.8zM929.4,1033.8h23.8v23.8h-23.8zM930.4,957.0h23.8v23.8h-23.8zM931.4,1072.4h23.8v23.8h-23.8zM932.3,1025.6h23.8v23.8h-23.8zM933.3,1083.9h23.8v23.8h-23.8zM934.3,990.4h23.8v23.8h-23.8zM935.3,1051.8h23.8v23.8h-23.8zM936.2,967.3h23.8v23.8h-23.8zM937.2,1033.8h23.8v23.8h-23.8zM938.2,1042.5h23.8v23.8h-23.8zM939.1,1042.5h23.8v23.8h-23.8zM940.1,978.4h23.8v23.8h-23.8zM941.1,1061.7h23.8v23.8h-23.8zM942.0,1072.4h23.8v23.8h-23.8zM943.0,1061.7h23.8v23.8h-23.8zM944.0,1042.5h23.8v23.8h-23.8zM945.0,1025.6h23.8v23.8h-23.8zM945.9,1051.8h23.8v23.8h-23.8zM946.9,1096.4h23.8v23.8h-23.8zM947.9,984.3h23.8v23.8h-23.8zM948.8,1003.4h23.8v23.8h-23.8zM949.8,1083.9h23.8v23.8h-23.8zM950.8,1025.6h23.8v23.8h-23.8zM951.8,1010.5h23.8v23.8h-23.8zM952.7,1061.7h23.8v23.8h-23.8zM953.7,984.3h23.8v23.8h-23.8zM954.7,1042.5h23.8v23.8h-23.8zM955.6,996.8h23.8v23.8h-23.8zM956.6,1010.5h23.8v23.8h-23.8zM957.6,1110.1h23.8v23.8h-23.8zM958.6,1051.8h23.8v23.8h-23.8zM959.5,1051.8h23.8v23.8h-23.8zM960.5,1033.8h23.8v23.8h-23.8zM961.5,1010.5h23.8v23.8h-23.8zM962.4,1051.8h23.8v23.8h-23.8zM963.4,1110.1h23.8v23.8h-23.8zM964.4,1083.9h23.8v23.8h-23.8zM965.4,1010.5h23.8v23.8h-23.8zM966.3,1051.8h23.8v23.8h-23.8zM967.3,1033.8h23.8v23.8h-23.8zM968.3,1061.7h23.8v23.8h-23.8zM969.2,1010.5h23.8v23.8h-23.8zM970.2,1110.1h23.8v23.8h-23.8zM971.2,1010.5h23.8v23.8h-23.8zM972.1,1003.4h23.8v23.8h-23.8zM973.1,1061.7h23.8v23.8h-23.8zM974.1,1110.1h23.8v23.8h-23.8zM975.1,972.7h23.8v23.8h-23.8zM976.0,1042.5h23.8v23.8h-23.8zM977.0,1072.4h23.8v23.8h-23.8zM978.0,1025.6h23.8v23.8h-23.8zM978.9,984.3h23.8v23.8h-23.8zM979.9,1096.4h23.8v23.8h-23.8zM980.9,1010.5h23.8v23.8h-23.8zM981.9,1033.8h23.8v23.8h-23.8zM982.8,1083.9h23.8v23.8h-23.8zM983.8,1042.5h23.8v23.8h-23.8zM984.8,990.4h23.8v23.8h-23.8zM985.7,1033.8h23.8v23.8h-23.8zM986.7,1025.6h23.8v23.8h-23.8zM987.7,1051.8h23.8v23.8h-23.8zM988.7,1003.4h23.8v23.8h-23.8zM989.6,1017.8h23.8v23.8h-23.8zM990.6,1033.8h23.8v23.8h-23.8zM991.6,1042.5h23.8v23.8h-23.8zM992.5,1033.8h23.8v23.8h-23.8zM993.5,1061.7h23.8v23.8h-23.8zM994.5,1072.4h23.8v23.8h-23.8zM995.5,1061.7h23.8v23.8h-23.8zM996.4,1017.8h23.8v23.8h-23.8zM997.4,978.4h23.8v23.8h-23.8zM998.4,1010.5h23.8v23.8h-23.8zM999.3,1017.8h23.8v23.8h-23.8zM1000.3,1033.8h23.8v23.8h-23.8zM1001.3,1083.9h23.8v23.8h-23.8zM1002.3,1042.5h23.8v23.8h-23.8zM1003.2,1003.4h23.8v23.8h-23.8zM1004.2,990.4h23.8v23.8h-23.8zM1005.2,1033.8h23.8v23.8h-23.8zM1006.1,1033.8h23.8v23.8h-23.8zM1007.1,996.8h23.8v23.8h-23.8zM1008.1,978.4h23.8v23.8h-23.8zM1009.0,1025.6h23.8v23.8h-23.8zM1010.0,1061.7h23.8v23.8h-23.8zM1011.0,1051.8h23.8v23.8h-23.8zM1012.0,984.3h23.8v23.8h-23.8zM1012.9,1025.6h23.8v23.8h-23.8zM1013.9,1033.8h23.8v23.8h-23.8zM1014.9,1003.4h23.8v23.8h-23.8zM1015.8,1033.8h23.8v23.8h-23.8zM1016.8,1017.8h23.8v23.8h-23.8zM1017.8,1083.9h23.8v23.8h-23.8zM1018.8,1017.8h23.8v23.8h-23.8zM1019.7,1110.1h23.8v23.8h-23.8zM1020.7,1083.9h23.8v23.8h-23.8zM1021.7,1061.7h23.8v23.8h-23.8zM1022.6,1051.8h23.8v23.8h-23.8zM1023.6,1110.1h23.8v23.8h-23.8zM1024.6,1025.6h23.8v23.8h-23.8zM1025.6,1061.7h23.8v23.8h-23.8zM1026.5,1033.8h23.8v23.8h-23.8zM1027.5,1110.1h23.8v23.8h-23.8zM1028.5,1033.8h23.8v23.8h-23.8zM1029.4,1033.8h23.8v23.8h-23.8zM1030.4,1061.7h23.8v23.8h-23.8zM1031.4,1051.8h23.8v23.8h-23.8zM1032.4,1033.8h23.8v23.8h-23.8zM1033.3,1072.4h23.8v23.8h-23.8zM1034.3,984.3h23.8v23.8h-23.8zM1035.3,1010.5h23.8v23.8h-23.8zM1036.2,1096.4h23.8v23.8h-23.8zM1037.2,1010.5h23.8v23.8h-23.8zM1038.2,1051.8h23.8v23.8h-23.8zM1039.2,1083.9h23.8v23.8h-23.8zM1040.1,1051.8h23.8v23.8h-23.8zM1041.1,1042.5h23.8v23.8h-23.8zM1042.1,1096.4h23.8v23.8h-23.8zM1043.0,1025.6h23.8v23.8h-23.8zM1044.0,1072.4h23.8v23.8h-23.8zM1045.0,1033.8h23.8v23.8h-23.8zM1045.9,996.8h23.8v23.8h-23.8zM1046.9,1042.5h23.8v23.8h-23.8zM1047.9,1096.4h23.8v23.8h-23.8zM1048.9,1042.5h23.8v23.8h-23.8zM1049.8,1017.8h23.8v23.8h-23.8zM1050.8,1033.8h23.8v23.8h-23.8zM1051.8,1025.6h23.8v23.8h-23.8zM1052.7,1072.4h23.8v23.8h-23.8zM1053.7,1003.4h23.8v23.8h-23.8zM1054.7,1083.9h23.8v23.8h-23.8zM1055.7,1061.7h23.8v23.8h-23.8zM1056.6,1096.4h23.8v23.8h-23.8zM1057.6,1025.6h23.8v23.8h-23.8zM1058.6,1083.9h23.8v23.8h-23.8zM1059.5,1003.4h23.8v23.8h-23.8zM1060.5,1072.4h23.8v23.8h-23.8zM1061.5,1033.8h23.8v23.8h-23.8zM1062.5,1003.4h23.8v23.8h-23.8zM1063.4,1083.9h23.8v23.8h-23.8zM1064.4,1110.1h23.8v23.8h-23.8zM1065.4,1125.2h23.8v23.8h-23.8zM1066.3,1061.7h23.8v23.8h-23.8zM1067.3,1033.8h23.8v23.8h-23.8zM1068.3,1110.1h23.8v23.8h-23.8zM1069.3,1010.5h23.8v23.8h-23.8zM1070.2,1051.8h23.8v23.8h-23.8zM1071.2,984.3h23.8v23.8h-23.8zM1072.2,1051.8h23.8v23.8h-23.8zM1073.1,1061.7h23.8v23.8h-23.8zM1074.1,1033.8h23.8v23.8h-23.8zM1075.1,1096.4h23.8v23.8h-23.8zM1076.1,1042.5h23.8v23.8h-23.8zM1077.0,1061.7h23.8v23.8h-23.8zM1078.0,1072.4h23.8v23.8h-23.8zM1079.0,1042.5h23.8v23.8h-23.8zM1079.9,1025.6h23.8v23.8h-23.8zM1080.9,1033.8h23.8v23.8h-23.8zM1081.9,1051.8h23.8v23.8h-23.8zM1082.8,1003.4h23.8v23.8h-23.8zM1083.8,1051.8h23.8v23.8h-23.8zM1084.8,984.3h23.8v23.8h-23.8zM1085.8,1072.4h23.8v23.8h-23.8zM1086.7,1072.4h23.8v23.8h-23.8zM1087.7,1061.7h23.8v23.8h-23.8zM1088.7,1025.6h23.8v23.8h-23.8zM1089.6,1061.7h23.8v23.8h-23.8zM1090.6,996.8h23.8v23.8h-23.8zM1091.6,1017.8h23.8v23.8h-23.8zM1092.6,1061.7h23.8v23.8h-23.8zM1093.5,1017.8h23.8v23.8h-23.8zM1094.5,1033.8h23.8v23.8h-23.8zM1095.5,1042.5h23.8v23.8h-23.8zM1096.4,1096.4h23.8v23.8h-23.8zM1097.4,1017.8h23.8v23.8h-23.8zM1098.4,1025.6h23.8v23.8h-23.8zM1099.4,1017.8h23.8v23.8h-23.8zM1100.3,978.4h23.8v23.8h-23.8zM1101.3,1051.8h23.8v23.8h-23.8zM1102.3,962.1h23.8v23.8h-23.8zM1103.2,1010.5h23.8v23.8h-23.8zM1104.2,1096.4h23.8v23.8h-23.8zM1105.2,1042.5h23.8v23.8h-23.8zM1106.2,957.0h23.8v23.8h-23.8zM1107.1,1003.4h23.8v23.8h-23.8zM1108.1,1110.1h23.8v23.8h-23.8zM1109.1,1033.8h23.8v23.8h-23.8zM1110.0,1125.2h23.8v23.8h-23.8zM1111.0,1025.6h23.8v23.8h-23.8zM1112.0,1072.4h23.8v23.8h-23.8zM1113.0,1061.7h23.8v23.8h-23.8zM1113.9,1033.8h23.8v23.8h-23.8zM1114.9,1061.7h23.8v23.8h-23.8zM1115.9,1003.4h23.8v23.8h-23.8zM1116.8,1003.4h23.8v23.8h-23.8zM1117.8,1025.6h23.8v23.8h-23.8zM1118.8,1003.4h23.8v23.8h-23.8zM1119.7,1083.9h23.8v23.8h-23.8zM1120.7,1096.4h23.8v23.8h-23.8zM1121.7,1033.8h23.8v23.8h-23.8zM1122.7,1083.9h23.8v23.8h-23.8zM1123.6,1017.8h23.8v23.8h-23.8zM1124.6,1033.8h23.8v23.8h-23.8zM1125.6,978.4h23.8v23.8h-23.8zM1126.5,1096.4h23.8v23.8h-23.8zM1127.5,1025.6h23.8v23.8h-23.8zM1128.5,1096.4h23.8v23.8h-23.8zM1129.5,1096.4h23.8v23.8h-23.8zM1130.4,1072.4h23.8v23.8h-23.8zM1131.4,1051.8h23.8v23.8h-23.8zM1132.4,1003.4h23.8v23.8h-23.8zM1133.3,1083.9h23.8v23.8h-23.8zM1134.3,1072.4h23.8v23.8h-23.8zM1135.3,1096.4h23.8v23.8h-23.8zM1136.3,1061.7h23.8v23.8h-23.8zM1137.2,996.8h23.8v23.8h-23.8zM1138.2,1003.4h23.8v23.8h-23.8zM1139.2,1083.9h23.8v23.8h-23.8zM1140.1,1125.2h23.8v23.8h-23.8zM1141.1,1033.8h23.8v23.8h-23.8zM1142.1,1042.5h23.8v23.8h-23.8zM1143.1,1061.7h23.8v23.8h-23.8zM1144.0,1061.7h23.8v23.8h-23.8zM1145.0,1061.7h23.8v23.8h-23.8zM1146.0,1033.8h23.8v23.8h-23.8zM1146.9,1051.8h23.8v23.8h-23.8zM1147.9,1025.6h23.8v23.8h-23.8zM1148.9,1042.5h23.8v23.8h-23.8zM1149.9,1072.4h23.8v23.8h-23.8zM1150.8,1051.8h23.8v23.8h-23.8zM1151.8,1025.6h23.8v23.8h-23.8zM1152.8,1061.7h23.8v23.8h-23.8zM1153.7,1003.4h23.8v23.8h-23.8zM1154.7,1017.8h23.8v23.8h-23.8zM1155.7,1003.4h23.8v23.8h-23.8zM1156.6,1061.7h23.8v23.8h-23.8zM1157.6,1072.4h23.8v23.8h-23.8zM1158.6,1033.8h23.8v23.8h-23.8zM1159.6,1010.5h23.8v23.8h-23.8zM1160.5,1072.4h23.8v23.8h-23.8zM1161.5,1061.7h23.8v23.8h-23.8zM1162.5,984.3h23.8v23.8h-23.8zM1163.4,1083.9h23.8v23.8h-23.8zM1164.4,1083.9h23.8v23.8h-23.8zM1165.4,1033.8h23.8v23.8h-23.8zM1166.4,1042.5h23.8v23.8h-23.8zM1167.3,1042.5h23.8v23.8h-23.8zM1168.3,1025.6h23.8v23.8h-23.8zM1169.3,1061.7h23.8v23.8h-23.8zM1170.2,1017.8h23.8v23.8h-23.8zM1171.2,1033.8h23.8v23.8h-23.8zM1172.2,1051.8h23.8v23.8h-23.8zM1173.2,978.4h23.8v23.8h-23.8zM1174.1,1025.6h23.8v23.8h-23.8zM1175.1,996.8h23.8v23.8h-23.8zM1176.1,1025.6h23.8v23.8h-23.8zM1177.0,1025.6h23.8v23.8h-23.8zM1178.0,1033.8h23.8v23.8h-23.8zM1179.0,1051.8h23.8v23.8h-23.8zM1180.0,1003.4h23.8v23.8h-23.8zM1180.9,1051.8h23.8v23.8h-23.8zM1181.9,978.4h23.8v23.8h-23.8zM1182.9,1083.9h23.8v23.8h-23.8zM1183.8,1042.5h23.8v23.8h-23.8zM1184.8,1072.4h23.8v23.8h-23.8zM1185.8,967.3h23.8v23.8h-23.8zM1186.7,1096.4h23.8v23.8h-23.8zM1187.7,1033.8h23.8v23.8h-23.8zM1188.7,1061.7h23.8v23.8h-23.8zM1189.7,1051.8h23.8v23.8h-23.8zM1190.6,1042.5h23.8v23.8h-23.8zM1191.6,1025.6h23.8v23.8h-23.8zM1192.6,962.1h23.8v23.8h-23.8zM1193.5,1096.4h23.8v23.8h-23.8zM1194.5,1125.2h23.8v23.8h-23.8zM1195.5,1017.8h23.8v23.8h-23.8zM1196.5,1096.4h23.8v23.8h-23.8zM1197.4,1083.9h23.8v23.8h-23.8zM1198.4,1061.7h23.8v23.8h-23.8zM1199.4,1042.5h23.8v23.8h-23.8zM1200.3,1072.4h23.8v23.8h-23.8zM1201.3,1017.8h23.8v23.8h-23.8zM1202.3,1033.8h23.8v23.8h-23.8zM1203.3,1025.6h23.8v23.8h-23.8zM1204.2,1017.8h23.8v23.8h-23.8zM1205.2,1025.6h23.8v23.8h-23.8zM1206.2,1072.4h23.8v23.8h-23.8zM1207.1,1072.4h23.8v23.8h-23.8zM1208.1,1017.8h23.8v23.8h-23.8zM1209.1,1042.5h23.8v23.8h-23.8zM1210.1,1042.5h23.8v23.8h-23.8zM1211.0,978.4h23.8v23.8h-23.8zM1212.0,1096.4h23.8v23.8h-23.8zM1213.0,1003.4h23.8v23.8h-23.8zM1213.9,1096.4h23.8v23.8h-23.8zM1214.9,1083.9h23.8v23.8h-23.8zM1215.9,1017.8h23.8v23.8h-23.8zM1216.9,1083.9h23.8v23.8h-23.8zM1217.8,1061.7h23.8v23.8h-23.8zM1218.8,1072.4h23.8v23.8h-23.8zM1219.8,1042.5h23.8v23.8h-23.8zM1220.7,1142.2h23.8v23.8h-23.8zM1221.7,1051.8h23.8v23.8h-23.8zM1222.7,1061.7h23.8v23.8h-23.8zM1223.6,1017.8h23.8v23.8h-23.8zM1224.6,1017.8h23.8v23.8h-23.8zM1225.6,1110.1h23.8v23.8h-23.8zM1226.6,1110.1h23.8v23.8h-23.8zM1227.5,978.4h23.8v23.8h-23.8zM1228.5,1025.6h23.8v23.8h-23.8zM1229.5,1096.4h23.8v23.8h-23.8zM1230.4,1051.8h23.8v23.8h-23.8zM1231.4,1096.4h23.8v23.8h-23.8zM1232.4,978.4h23.8v23.8h-23.8zM1233.4,1061.7h23.8v23.8h-23.8zM1234.3,1051.8h23.8v23.8h-23.8zM1235.3,1051.8h23.8v23.8h-23.8zM1236.3,1025.6h23.8v23.8h-23.8zM1237.2,1051.8h23.8v23.8h-23.8zM1238.2,1125.2h23.8v23.8h-23.8zM1239.2,1010.5h23.8v23.8h-23.8zM1240.2,1051.8h23.8v23.8h-23.8zM1241.1,1042.5h23.8v23.8h-23.8zM1242.1,1042.5h23.8v23.8h-23.8zM1243.1,1125.2h23.8v23.8h-23.8zM1244.0,1125.2h23.8v23.8h-23.8zM1245.0,1033.8h23.8v23.8h-23.8zM1246.0,1072.4h23.8v23.8h-23.8zM1247.0,1017.8h23.8v23.8h-23.8zM1247.9,1061.7h23.8v23.8h-23.8zM1248.9,1033.8h23.8v23.8h-23.8zM1249.9,1110.1h23.8v23.8h-23.8zM1250.8,1072.4h23.8v23.8h-23.8zM1251.8,1010.5h23.8v23.8h-23.8zM1252.8,978.4h23.8v23.8h-23.8zM1253.8,1003.4h23.8v23.8h-23.8zM1254.7,1142.2h23.8v23.8h-23.8zM1255.7,1010.5h23.8v23.8h-23.8zM1256.7,996.8h23.8v23.8h-23.8zM1257.6,1025.6h23.8v23.8h-23.8zM1258.6,1033.8h23.8v23.8h-23.8zM1259.6,1072.4h23.8v23.8h-23.8zM1260.5,1017.8h23.8v23.8h-23.8zM1261.5,1125.2h23.8v23.8h-23.8zM1262.5,1051.8h23.8v23.8h-23.8zM1263.5,1061.7h23.8v23.8h-23.8zM1264.4,1110.1h23.8v23.8h-23.8zM1265.4,1061.7h23.8v23.8h-23.8zM1266.4,1061.7h23.8v23.8h-23.8zM1267.3,1083.9h23.8v23.8h-23.8zM1268.3,1025.6h23.8v23.8h-23.8zM1269.3,1033.8h23.8v23.8h-23.8zM1270.3,1083.9h23.8v23.8h-23.8zM1271.2,1017.8h23.8v23.8h-23.8zM1272.2,1025.6h23.8v23.8h-23.8zM1273.2,1096.4h23.8v23.8h-23.8zM1274.1,1072.4h23.8v23.8h-23.8zM1275.1,1061.7h23.8v23.8h-23.8zM1276.1,1003.4h23.8v23.8h-23.8zM1277.1,1142.2h23.8v23.8h-23.8zM1278.0,1042.5h23.8v23.8h-23.8zM1279.0,1042.5h23.8v23.8h-23.8zM1280.0,1042.5h23.8v23.8h-23.8zM1280.9,1017.8h23.8v23.8h-23.8zM1281.9,1042.5h23.8v23.8h-23.8zM1282.9,1142.2h23.8v23.8h-23.8zM1283.9,990.4h23.8v23.8h-23.8zM1284.8,1142.2h23.8v23.8h-23.8zM1285.8,1010.5h23.8v23.8h-23.8zM1286.8,1010.5h23.8v23.8h-23.8zM1287.7,1110.1h23.8v23.8h-23.8zM1288.7,1142.2h23.8v23.8h-23.8zM1289.7,1033.8h23.8v23.8h-23.8zM1290.7,1083.9h23.8v23.8h-23.8zM1291.6,1017.8h23.8v23.8h-23.8zM1292.6,1033.8h23.8v23.8h-23.8zM1293.6,1017.8h23.8v23.8h-23.8zM1294.5,1061.7h23.8v23.8h-23.8zM1295.5,1025.6h23.8v23.8h-23.8zM1296.5,1051.8h23.8v23.8h-23.8zM1297.4,1033.8h23.8v23.8h-23.8zM1298.4,1051.8h23.8v23.8h-23.8zM1299.4,1051.8h23.8v23.8h-23.8zM1300.4,1025.6h23.8v23.8h-23.8zM1301.3,1033.8h23.8v23.8h-23.8zM1302.3,1003.4h23.8v23.8h-23.8zM1303.3,1072.4h23.8v23.8h-23.8zM1304.2,1083.9h23.8v23.8h-23.8zM1305.2,1033.8h23.8v23.8h-23.8zM1306.2,1033.8h23.8v23.8h-23.8zM1307.2,1025.6h23.8v23.8h-23.8zM1308.1,1033.8h23.8v23.8h-23.8zM1309.1,1051.8h23.8v23.8h-23.8zM1310.1,978.4h23.8v23.8h-23.8zM1311.0,990.4h23.8v23.8h-23.8zM1312.0,1051.8h23.8v23.8h-23.8zM1313.0,1083.9h23.8v23.8h-23.8zM1314.0,1017.8h23.8v23.8h-23.8zM1314.9,1083.9h23.8v23.8h-23.8zM1315.9,1083.9h23.8v23.8h-23.8zM1316.9,1051.8h23.8v23.8h-23.8zM1317.8,1142.2h23.8v23.8h-23.8zM1318.8,1042.5h23.8v23.8h-23.8zM1319.8,1051.8h23.8v23.8h-23.8zM1320.8,1003.4h23.8v23.8h-23.8zM1321.7,1010.5h23.8v23.8h-23.8zM1322.7,1051.8h23.8v23.8h-23.8zM1323.7,1072.4h23.8v23.8h-23.8zM1324.6,1042.5h23.8v23.8h-23.8zM1325.6,1042.5h23.8v23.8h-23.8zM1326.6,1051.8h23.8v23.8h-23.8zM1327.6,1083.9h23.8v23.8h-23.8zM1328.5,978.4h23.8v23.8h-23.8zM1329.5,1083.9h23.8v23.8h-23.8zM1330.5,1017.8h23.8v23.8h-23.8zM1331.4,1072.4h23.8v23.8h-23.8zM1332.4,1083.9h23.8v23.8h-23.8zM1333.4,990.4h23.8v23.8h-23.8zM1334.3,1096.4h23.8v23.8h-23.8zM1335.3,1051.8h23.8v23.8h-23.8zM1336.3,1025.6h23.8v23.8h-23.8zM1337.3,1125.2h23.8v23.8h-23.8zM1338.2,996.8h23.8v23.8h-23.8zM1339.2,984.3h23.8v23.8h-23.8zM1340.2,1051.8h23.8v23.8h-23.8zM1341.1,1061.7h23.8v23.8h-23.8zM1342.1,1042.5h23.8v23.8h-23.8zM1343.1,1072.4h23.8v23.8h-23.8zM1344.1,1003.4h23.8v23.8h-23.8zM1345.0,1096.4h23.8v23.8h-23.8zM1346.0,1051.8h23.8v23.8h-23.8zM1347.0,1003.4h23.8v23.8h-23.8zM1347.9,996.8h23.8v23.8h-23.8zM1348.9,1072.4h23.8v23.8h-23.8zM1349.9,1061.7h23.8v23.8h-23.8zM1350.9,1025.6h23.8v23.8h-23.8zM1351.8,1051.8h23.8v23.8h-23.8zM1352.8,1051.8h23.8v23.8h-23.8zM1353.8,1096.4h23.8v23.8h-23.8zM1354.7,1010.5h23.8v23.8h-23.8zM1355.7,1096.4h23.8v23.8h-23.8zM1356.7,1051.8h23.8v23.8h-23.8zM1357.7,1051.8h23.8v23.8h-23.8zM1358.6,1072.4h23.8v23.8h-23.8zM1359.6,1033.8h23.8v23.8h-23.8zM1360.6,996.8h23.8v23.8h-23.8zM1361.5,984.3h23.8v23.8h-23.8zM1362.5,1096.4h23.8v23.8h-23.8zM1363.5,984.3h23.8v23.8h-23.8zM1364.4,1096.4h23.8v23.8h-23.8zM1365.4,1025.6h23.8v23.8h-23.8zM1366.4,1096.4h23.8v23.8h-23.8zM1367.4,1017.8h23.8v23.8h-23.8zM1368.3,1061.7h23.8v23.8h-23.8zM1369.3,1061.7h23.8v23.8h-23.8zM1370.3,1083.9h23.8v23.8h-23.8zM1371.2,1033.8h23.8v23.8h-23.8zM1372.2,1072.4h23.8v23.8h-23.8zM1373.2,1125.2h23.8v23.8h-23.8zM1374.2,1003.4h23.8v23.8h-23.8zM1375.1,1096.4h23.8v23.8h-23.8zM1376.1,1010.5h23.8v23.8h-23.8zM1377.1,1096.4h23.8v23.8h-23.8zM1378.0,1042.5h23.8v23.8h-23.8zM1379.0,1110.1h23.8v23.8h-23.8zM1380.0,1042.5h23.8v23.8h-23.8zM1381.0,1033.8h23.8v23.8h-23.8zM1381.9,1096.4h23.8v23.8h-23.8zM1382.9,1042.5h23.8v23.8h-23.8zM1383.9,1051.8h23.8v23.8h-23.8zM1384.8,1096.4h23.8v23.8h-23.8zM1385.8,1125.2h23.8v23.8h-23.8zM1386.8,1096.4h23.8v23.8h-23.8zM1387.8,984.3h23.8v23.8h-23.8zM1388.7,1072.4h23.8v23.8h-23.8zM1389.7,1072.4h23.8v23.8h-23.8zM1390.7,1096.4h23.8v23.8h-23.8zM1391.6,1110.1h23.8v23.8h-23.8zM1392.6,1096.4h23.8v23.8h-23.8zM1393.6,1083.9h23.8v23.8h-23.8zM1394.6,1142.2h23.8v23.8h-23.8zM1395.5,1051.8h23.8v23.8h-23.8zM1396.5,1033.8h23.8v23.8h-23.8zM1397.5,1010.5h23.8v23.8h-23.8zM1398.4,1042.5h23.8v23.8h-23.8zM1399.4,1096.4h23.8v23.8h-23.8zM1400.4,1061.7h23.8v23.8h-23.8zM1401.3,1125.2h23.8v23.8h-23.8zM1402.3,1061.7h23.8v23.8h-23.8zM1403.3,1042.5h23.8v23.8h-23.8zM1404.3,1125.2h23.8v23.8h-23.8zM1405.2,1051.8h23.8v23.8h-23.8zM1406.2,1110.1h23.8v23.8h-23.8zM1407.2,978.4h23.8v23.8h-23.8zM1408.1,1010.5h23.8v23.8h-23.8zM1409.1,1042.5h23.8v23.8h-23.8zM1410.1,1025.6h23.8v23.8h-23.8zM1411.1,1072.4h23.8v23.8h-23.8zM1412.0,1061.7h23.8v23.8h-23.8zM1413.0,1072.4h23.8v23.8h-23.8zM1414.0,1025.6h23.8v23.8h-23.8zM1414.9,1033.8h23.8v23.8h-23.8zM1415.9,1033.8h23.8v23.8h-23.8zM1416.9,1125.2h23.8v23.8h-23.8zM1417.9,1051.8h23.8v23.8h-23.8zM1418.8,1096.4h23.8v23.8h-23.8zM1419.8,1033.8h23.8v23.8h-23.8zM1420.8,1010.5h23.8v23.8h-23.8zM1421.7,1061.7h23.8v23.8h-23.8zM1422.7,1096.4h23.8v23.8h-23.8zM1423.7,996.8h23.8v23.8h-23.8zM1424.7,1042.5h23.8v23.8h-23.8zM1425.6,1083.9h23.8v23.8h-23.8zM1426.6,1051.8h23.8v23.8h-23.8zM1427.6,1051.8h23.8v23.8h-23.8zM1428.5,1096.4h23.8v23.8h-23.8zM1429.5,1061.7h23.8v23.8h-23.8zM1430.5,1072.4h23.8v23.8h-23.8zM1431.5,1042.5h23.8v23.8h-23.8zM1432.4,1072.4h23.8v23.8h-23.8zM1433.4,1042.5h23.8v23.8h-23.8zM1434.4,1125.2h23.8v23.8h-23.8zM1435.3,1003.4h23.8v23.8h-23.8zM1436.3,1061.7h23.8v23.8h-23.8zM1437.3,1096.4h23.8v23.8h-23.8zM1438.2,1025.6h23.8v23.8h-23.8zM1439.2,1083.9h23.8v23.8h-23.8zM1440.2,1033.8h23.8v23.8h-23.8zM1441.2,1096.4h23.8v23.8h-23.8zM1442.1,1125.2h23.8v23.8h-23.8zM1443.1,1051.8h23.8v23.8h-23.8zM1444.1,1161.4h23.8v23.8h-23.8zM1445.0,1061.7h23.8v23.8h-23.8zM1446.0,1110.1h23.8v23.8h-23.8zM1447.0,1042.5h23.8v23.8h-23.8zM1448.0,1061.7h23.8v23.8h-23.8zM1448.9,1072.4h23.8v23.8h-23.8zM1449.9,1061.7h23.8v23.8h-23.8zM1450.9,1072.4h23.8v23.8h-23.8zM1451.8,1051.8h23.8v23.8h-23.8zM1452.8,1125.2h23.8v23.8h-23.8zM1453.8,1072.4h23.8v23.8h-23.8zM1454.8,1051.8h23.8v23.8h-23.8zM1455.7,1142.2h23.8v23.8h-23.8zM1456.7,1010.5h23.8v23.8h-23.8zM1457.7,990.4h23.8v23.8h-23.8zM1458.6,1033.8h23.8v23.8h-23.8zM1459.6,1096.4h23.8v23.8h-23.8zM1460.6,1083.9h23.8v23.8h-23.8zM1461.6,1051.8h23.8v23.8h-23.8zM1462.5,1161.4h23.8v23.8h-23.8zM1463.5,1025.6h23.8v23.8h-23.8zM1464.5,1017.8h23.8v23.8h-23.8zM1465.4,1083.9h23.8v23.8h-23.8zM1466.4,1083.9h23.8v23.8h-23.8zM1467.4,1083.9h23.8v23.8h-23.8zM1468.4,1042.5h23.8v23.8h-23.8zM1469.3,1042.5h23.8v23.8h-23.8zM1470.3,1083.9h23.8v23.8h-23.8zM1471.3,1051.8h23.8v23.8h-23.8zM1472.2,1083.9h23.8v23.8h-23.8zM1473.2,1110.1h23.8v23.8h-23.8zM1474.2,1051.8h23.8v23.8h-23.8zM1475.1,1083.9h23.8v23.8h-23.8zM1476.1,990.4h23.8v23.8h-23.8zM1477.1,1125.2h23.8v23.8h-23.8zM1478.1,1125.2h23.8v23.8h-23.8zM1479.0,1072.4h23.8v23.8h-23.8zM1480.0,1051.8h23.8v23.8h-23.8zM1481.0,1072.4h23.8v23.8h-23.8zM1481.9,1072.4h23.8v23.8h-23.8zM1482.9,1061.7h23.8v23.8h-23.8zM1483.9,1042.5h23.8v23.8h-23.8zM1484.9,1072.4h23.8v23.8h-23.8zM1485.8,1110.1h23.8v23.8h-23.8zM1486.8,996.8h23.8v23.8h-23.8zM1487.8,1042.5h23.8v23.8h-23.8zM1488.7,1033.8h23.8v23.8h-23.8zM1489.7,1025.6h23.8v23.8h-23.8zM1490.7,1061.7h23.8v23.8h-23.8zM1491.7,984.3h23.8v23.8h-23.8zM1492.6,1051.8h23.8v23.8h-23.8zM1493.6,1096.4h23.8v23.8h-23.8zM1494.6,1096.4h23.8v23.8h-23.8zM1495.5,1096.4h23.8v23.8h-23.8zM1496.5,1083.9h23.8v23.8h-23.8zM1497.5,1096.4h23.8v23.8h-23.8zM1498.5,1072.4h23.8v23.8h-23.8zM1499.4,1083.9h23.8v23.8h-23.8zM1500.4,1096.4h23.8v23.8h-23.8zM1501.4,1125.2h23.8v23.8h-23.8zM1502.3,1110.1h23.8v23.8h-23.8zM1503.3,1110.1h23.8v23.8h-23.8zM1504.3,1010.5h23.8v23.8h-23.8zM1505.3,1072.4h23.8v23.8h-23.8zM1506.2,1072.4h23.8v23.8h-23.8zM1507.2,1042.5h23.8v23.8h-23.8zM1508.2,1025.6h23.8v23.8h-23.8zM1509.1,1096.4h23.8v23.8h-23.8zM1510.1,1072.4h23.8v23.8h-23.8zM1511.1,1051.8h23.8v23.8h-23.8zM1512.0,1025.6h23.8v23.8h-23.8zM1513.0,1033.8h23.8v23.8h-23.8zM1514.0,1042.5h23.8v23.8h-23.8zM1515.0,1083.9h23.8v23.8h-23.8zM1515.9,1142.2h23.8v23.8h-23.8zM1516.9,1072.4h23.8v23.8h-23.8zM1517.9,990.4h23.8v23.8h-23.8zM1518.8,1083.9h23.8v23.8h-23.8zM1519.8,1083.9h23.8v23.8h-23.8zM1520.8,1025.6h23.8v23.8h-23.8zM1521.8,1017.8h23.8v23.8h-23.8zM1522.7,1061.7h23.8v23.8h-23.8zM1523.7,1096.4h23.8v23.8h-23.8zM1524.7,1083.9h23.8v23.8h-23.8zM1525.6,1125.2h23.8v23.8h-23.8zM1526.6,1061.7h23.8v23.8h-23.8zM1527.6,1061.7h23.8v23.8h-23.8zM1528.6,1033.8h23.8v23.8h-23.8zM1529.5,1110.1h23.8v23.8h-23.8zM1530.5,1072.4h23.8v23.8h-23.8zM1531.5,1083.9h23.8v23.8h-23.8zM1532.4,978.4h23.8v23.8h-23.8zM1533.4,996.8h23.8v23.8h-23.8zM1534.4,1072.4h23.8v23.8h-23.8zM1535.4,1083.9h23.8v23.8h-23.8zM1536.3,1042.5h23.8v23.8h-23.8zM1537.3,1051.8h23.8v23.8h-23.8zM1538.3,1096.4h23.8v23.8h-23.8zM1539.2,1033.8h23.8v23.8h-23.8zM1540.2,1061.7h23.8v23.8h-23.8zM1541.2,1025.6h23.8v23.8h-23.8zM1542.2,1042.5h23.8v23.8h-23.8zM1543.1,1096.4h23.8v23.8h-23.8zM1544.1,996.8h23.8v23.8h-23.8zM1545.1,1033.8h23.8v23.8h-23.8zM1546.0,1083.9h23.8v23.8h-23.8zM1547.0,1072.4h23.8v23.8h-23.8zM1548.0,1072.4h23.8v23.8h-23.8zM1548.9,1183.5h23.8v23.8h-23.8zM1549.9,1051.8h23.8v23.8h-23.8zM1550.9,1072.4h23.8v23.8h-23.8zM1551.9,1110.1h23.8v23.8h-23.8zM1552.8,1096.4h23.8v23.8h-23.8zM1553.8,1051.8h23.8v23.8h-23.8zM1554.8,1110.1h23.8v23.8h-23.8zM1555.7,1042.5h23.8v23.8h-23.8zM1556.7,1083.9h23.8v23.8h-23.8zM1557.7,1033.8h23.8v23.8h-23.8zM1558.7,1033.8h23.8v23.8h-23.8zM1559.6,1025.6h23.8v23.8h-23.8zM1560.6,1072.4h23.8v23.8h-23.8zM1561.6,1025.6h23.8v23.8h-23.8zM1562.5,1072.4h23.8v23.8h-23.8zM1563.5,1142.2h23.8v23.8h-23.8zM1564.5,1033.8h23.8v23.8h-23.8zM1565.5,1061.7h23.8v23.8h-23.8zM1566.4,1042.5h23.8v23.8h-23.8zM1567.4,1010.5h23.8v23.8h-23.8zM1568.4,1083.9h23.8v23.8h-23.8zM1569.3,1110.1h23.8v23.8h-23.8zM1570.3,1033.8h23.8v23.8h-23.8zM1571.3,1061.7h23.8v23.8h-23.8zM1572.3,1051.8h23.8v23.8h-23.8zM1573.2,1033.8h23.8v23.8h-23.8zM1574.2,1096.4h23.8v23.8h-23.8zM1575.2,990.4h23.8v23.8h-23.8zM1576.1,1125.2h23.8v23.8h-23.8zM1577.1,1042.5h23.8v23.8h-23.8zM1578.1,1142.2h23.8v23.8h-23.8zM1579.0,1083.9h23.8v23.8h-23.8zM1580.0,1061.7h23.8v23.8h-23.8zM1581.0,996.8h23.8v23.8h-23.8zM1582.0,1010.5h23.8v23.8h-23.8zM1582.9,1096.4h23.8v23.8h-23.8zM1583.9,1033.8h23.8v23.8h-23.8zM1584.9,1096.4h23.8v23.8h-23.8zM1585.8,1010.5h23.8v23.8h-23.8zM1586.8,1110.1h23.8v23.8h-23.8zM1587.8,1061.7h23.8v23.8h-23.8zM1588.8,1072.4h23.8v23.8h-23.8zM1589.7,1025.6h23.8v23.8h-23.8zM1590.7,1042.5h23.8v23.8h-23.8zM1591.7,1083.9h23.8v23.8h-23.8zM1592.6,1061.7h23.8v23.8h-23.8zM1593.6,1025.6h23.8v23.8h-23.8zM1594.6,1072.4h23.8v23.8h-23.8zM1595.6,1003.4h23.8v23.8h-23.8zM1596.5,1142.2h23.8v23.8h-23.8zM1597.5,1083.9h23.8v23.8h-23.8zM1598.5,1042.5h23.8v23.8h-23.8zM1599.4,1051.8h23.8v23.8h-23.8zM1600.4,1025.6h23.8v23.8h-23.8zM1601.4,1061.7h23.8v23.8h-23.8zM1602.4,1025.6h23.8v23.8h-23.8zM1603.3,1061.7h23.8v23.8h-23.8zM1604.3,1142.2h23.8v23.8h-23.8zM1605.3,984.3h23.8v23.8h-23.8zM1606.2,1061.7h23.8v23.8h-23.8zM1607.2,1042.5h23.8v23.8h-23.8zM1608.2,1051.8h23.8v23.8h-23.8zM1609.2,1017.8h23.8v23.8h-23.8zM1610.1,1096.4h23.8v23.8h-23.8zM1611.1,1010.5h23.8v23.8h-23.8zM1612.1,1096.4h23.8v23.8h-23.8zM1613.0,1110.1h23.8v23.8h-23.8zM1614.0,1072.4h23.8v23.8h-23.8zM1615.0,1083.9h23.8v23.8h-23.8zM1615.9,990.4h23.8v23.8h-23.8zM1616.9,1033.8h23.8v23.8h-23.8zM1617.9,1025.6h23.8v23.8h-23.8zM1618.9,1083.9h23.8v23.8h-23.8zM1619.8,1110.1h23.8v23.8h-23.8zM1620.8,1003.4h23.8v23.8h-23.8zM1621.8,1072.4h23.8v23.8h-23.8zM1622.7,1051.8h23.8v23.8h-23.8zM1623.7,990.4h23.8v23.8h-23.8zM1624.7,1051.8h23.8v23.8h-23.8zM1625.7,1061.7h23.8v23.8h-23.8zM1626.6,1110.1h23.8v23.8h-23.8zM1627.6,1061.7h23.8v23.8h-23.8zM1628.6,1096.4h23.8v23.8h-23.8zM1629.5,1142.2h23.8v23.8h-23.8zM1630.5,1110.1h23.8v23.8h-23.8zM1631.5,1033.8h23.8v23.8h-23.8zM1632.5,1083.9h23.8v23.8h-23.8zM1633.4,1142.2h23.8v23.8h-23.8zM1634.4,1183.5h23.8v23.8h-23.8zM1635.4,1096.4h23.8v23.8h-23.8zM1636.3,1125.2h23.8v23.8h-23.8zM1637.3,1110.1h23.8v23.8h-23.8zM1638.3,1161.4h23.8v23.8h-23.8zM1639.3,1110.1h23.8v23.8h-23.8zM1640.2,1110.1h23.8v23.8h-23.8zM1641.2,1033.8h23.8v23.8h-23.8zM1642.2,1051.8h23.8v23.8h-23.8zM1643.1,1010.5h23.8v23.8h-23.8zM1644.1,1033.8h23.8v23.8h-23.8zM1645.1,1083.9h23.8v23.8h-23.8zM1646.1,1125.2h23.8v23.8h-23.8zM1647.0,1110.1h23.8v23.8h-23.8zM1648.0,1083.9h23.8v23.8h-23.8zM1649.0,1161.4h23.8v23.8h-23.8zM1649.9,1017.8h23.8v23.8h-23.8zM1650.9,1072.4h23.8v23.8h-23.8zM1651.9,1142.2h23.8v23.8h-23.8zM1652.8,1083.9h23.8v23.8h-23.8zM1653.8,1072.4h23.8v23.8h-23.8zM1654.8,1110.1h23.8v23.8h-23.8zM1655.8,1042.5h23.8v23.8h-23.8zM1656.7,1042.5h23.8v23.8h-23.8zM1657.7,1051.8h23.8v23.8h-23.8zM1658.7,1161.4h23.8v23.8h-23.8zM1659.6,1017.8h23.8v23.8h-23.8zM1660.6,1042.5h23.8v23.8h-23.8zM1661.6,1183.5h23.8v23.8h-23.8zM1662.6,1083.9h23.8v23.8h-23.8zM1663.5,1061.7h23.8v23.8h-23.8zM1664.5,996.8h23.8v23.8h-23.8zM1665.5,1072.4h23.8v23.8h-23.8zM1666.4,1072.4h23.8v23.8h-23.8zM1667.4,1110.1h23.8v23.8h-23.8zM1668.4,1033.8h23.8v23.8h-23.8zM1669.4,1042.5h23.8v23.8h-23.8zM1670.3,1110.1h23.8v23.8h-23.8zM1671.3,1033.8h23.8v23.8h-23.8zM1672.3,1142.2h23.8v23.8h-23.8zM1673.2,1061.7h23.8v23.8h-23.8zM1674.2,1083.9h23.8v23.8h-23.8zM1675.2,1042.5h23.8v23.8h-23.8zM1676.2,1142.2h23.8v23.8h-23.8zM1677.1,1042.5h23.8v23.8h-23.8zM1678.1,1125.2h23.8v23.8h-23.8zM1679.1,1051.8h23.8v23.8h-23.8zM1680.0,1083.9h23.8v23.8h-23.8zM1681.0,1033.8h23.8v23.8h-23.8zM1682.0,1110.1h23.8v23.8h-23.8zM1683.0,1142.2h23.8v23.8h-23.8zM1683.9,1051.8h23.8v23.8h-23.8zM1684.9,1161.4h23.8v23.8h-23.8zM1685.9,1072.4h23.8v23.8h-23.8zM1686.8,1042.5h23.8v23.8h-23.8zM1687.8,1083.9h23.8v23.8h-23.8zM1688.8,1051.8h23.8v23.8h-23.8zM1689.7,1083.9h23.8v23.8h-23.8zM1690.7,1051.8h23.8v23.8h-23.8zM1691.7,1010.5h23.8v23.8h-23.8zM1692.7,1125.2h23.8v23.8h-23.8zM1693.6,1083.9h23.8v23.8h-23.8zM1694.6,1051.8h23.8v23.8h-23.8zM1695.6,1096.4h23.8v23.8h-23.8zM1696.5,1017.8h23.8v23.8h-23.8zM1697.5,1061.7h23.8v23.8h-23.8zM1698.5,1096.4h23.8v23.8h-23.8zM1699.5,1125.2h23.8v23.8h-23.8zM1700.4,1083.9h23.8v23.8h-23.8zM1701.4,1110.1h23.8v23.8h-23.8zM1702.4,1003.4h23.8v23.8h-23.8zM1703.3,1072.4h23.8v23.8h-23.8zM1704.3,1110.1h23.8v23.8h-23.8zM1705.3,1125.2h23.8v23.8h-23.8zM1706.3,1025.6h23.8v23.8h-23.8zM1707.2,1142.2h23.8v23.8h-23.8zM1708.2,1183.5h23.8v23.8h-23.8zM1709.2,1083.9h23.8v23.8h-23.8zM1710.1,1003.4h23.8v23.8h-23.8zM1711.1,1096.4h23.8v23.8h-23.8zM1712.1,1096.4h23.8v23.8h-23.8zM1713.1,1051.8h23.8v23.8h-23.8zM1714.0,1125.2h23.8v23.8h-23.8zM1715.0,1161.4h23.8v23.8h-23.8zM1716.0,1033.8h23.8v23.8h-23.8zM1716.9,1033.8h23.8v23.8h-23.8zM1717.9,1083.9h23.8v23.8h-23.8zM1718.9,1125.2h23.8v23.8h-23.8zM1719.9,1017.8h23.8v23.8h-23.8zM1720.8,1042.5h23.8v23.8h-23.8zM1721.8,1061.7h23.8v23.8h-23.8zM1722.8,1033.8h23.8v23.8h-23.8zM1723.7,1061.7h23.8v23.8h-23.8zM1724.7,1110.1h23.8v23.8h-23.8zM1725.7,1033.8h23.8v23.8h-23.8zM1726.6,1096.4h23.8v23.8h-23.8zM1727.6,1061.7h23.8v23.8h-23.8zM1728.6,1051.8h23.8v23.8h-23.8zM1729.6,1017.8h23.8v23.8h-23.8zM1730.5,1072.4h23.8v23.8h-23.8zM1731.5,1096.4h23.8v23.8h-23.8zM1732.5,1033.8h23.8v23.8h-23.8zM1733.4,1110.1h23.8v23.8h-23.8zM1734.4,1110.1h23.8v23.8h-23.8zM1735.4,1072.4h23.8v23.8h-23.8zM1736.4,1033.8h23.8v23.8h-23.8zM1737.3,1061.7h23.8v23.8h-23.8zM1738.3,1110.1h23.8v23.8h-23.8zM1739.3,1110.1h23.8v23.8h-23.8zM1740.2,1061.7h23.8v23.8h-23.8zM1741.2,1061.7h23.8v23.8h-23.8zM1742.2,1096.4h23.8v23.8h-23.8zM1743.2,1096.4h23.8v23.8h-23.8zM1744.1,1110.1h23.8v23.8h-23.8zM1745.1,1025.6h23.8v23.8h-23.8zM1746.1,1061.7h23.8v23.8h-23.8zM1747.0,1110.1h23.8v23.8h-23.8zM1748.0,1042.5h23.8v23.8h-23.8zM1749.0,1072.4h23.8v23.8h-23.8zM1750.0,1042.5h23.8v23.8h-23.8zM1750.9,1110.1h23.8v23.8h-23.8zM1751.9,1125.2h23.8v23.8h-23.8zM1752.9,1051.8h23.8v23.8h-23.8zM1753.8,1183.5h23.8v23.8h-23.8zM1754.8,1110.1h23.8v23.8h-23.8zM1755.8,1061.7h23.8v23.8h-23.8zM1756.8,1096.4h23.8v23.8h-23.8zM1757.7,1051.8h23.8v23.8h-23.8zM1758.7,1125.2h23.8v23.8h-23.8zM1759.7,1061.7h23.8v23.8h-23.8zM1760.6,1033.8h23.8v23.8h-23.8zM1761.6,1061.7h23.8v23.8h-23.8zM1762.6,1025.6h23.8v23.8h-23.8zM275.0,432.0h23.8v23.8h-23.8zM273.6,513.9h23.8v23.8h-23.8zM271.9,555.9h23.8v23.8h-23.8zM270.4,624.9h23.8v23.8h-23.8zM268.1,715.4h23.8v23.8h-23.8zM265.6,788.1h23.8v23.8h-23.8zM263.7,851.9h23.8v23.8h-23.8zM263.7,891.9h23.8v23.8h-23.8zM262.5,926.9h23.8v23.8h-23.8zM158.7,978.7h23.8v23.8h-23.8zM193.1,971.1h23.8v23.8h-23.8zM232.1,978.1h23.8v23.8h-23.8zM261.1,1002.1h23.8v23.8h-23.8zM218.1,1140.1h23.8v23.8h-23.8zM165.1,1161.1h23.8v23.8h-23.8zM784.1,1161.1h23.8v23.8h-23.8zM1052.1,1183.7h23.8v23.8h-23.8zM1044.1,1206.1h23.8v23.8h-23.8zM1324.7,1206.1h23.8v23.8h-23.8zM1583.1,951.1h23.8v23.8h-23.8zM1624.1,950.1h23.8v23.8h-23.8zM1114.5,1140.9h23.8v23.8h-23.8zM1185.0,1184.2h23.8v23.8h-23.8zM1223.6,1161.7h23.8v23.8h-23.8zM1255.3,1184.2h23.8v23.8h-23.8zM1263.9,1184.2h23.8v23.8h-23.8zM1269.1,1140.9h23.8v23.8h-23.8zM1290.3,1161.7h23.8v23.8h-23.8z"/>
<path fill="#00ff00" d="M144.8,809.2h23.8v23.8h-23.8zM145.8,831.2h23.8v23.8h-23.8zM146.8,791.3h23.8v23.8h-23.8zM147.7,839.9h23.8v23.8h-23.8zM148.7,850.1h23.8v23.8h-23.8zM149.7,816.6h23.8v23.8h-23.8zM150.6,835.1h23.8v23.8h-23.8zM151.6,831.4h23.8v23.8h-23.8zM152.6,817.8h23.8v23.8h-23.8zM153.6,808.0h23.8v23.8h-23.8zM154.5,783.4h23.8v23.8h-23.8zM155.5,855.7h23.8v23.8h-23.8zM156.5,825.1h23.8v23.8h-23.8zM157.4,879.1h23.8v23.8h-23.8zM158.4,843.5h23.8v23.8h-23.8zM159.4,831.9h23.8v23.8h-23.8zM160.4,812.3h23.8v23.8h-23.8zM161.3,855.3h23.8v23.8h-23.8zM162.3,815.5h23.8v23.8h-23.8zM163.3,859.1h23.8v23.8h-23.8zM164.2,817.7h23.8v23.8h-23.8zM165.2,830.0h23.8v23.8h-23.8zM166.2,794.1h23.8v23.8h-23.8zM167.2,875.3h23.8v23.8h-23.8zM168.1,824.1h23.8v23.8h-23.8zM169.1,818.0h23.8v23.8h-23.8zM170.1,843.1h23.8v23.8h-23.8zM171.0,807.4h23.8v23.8h-23.8zM172.0,842.2h23.8v23.8h-23.8zM173.0,801.5h23.8v23.8h-23.8zM174.0,837.6h23.8v23.8h-23.8zM174.9,804.2h23.8v23.8h-23.8zM175.9,787.5h23.8v23.8h-23.8zM176.9,813.6h23.8v23.8h-23.8zM177.8,795.4h23.8v23.8h-23.8zM178.8,837.7h23.8v23.8h-23.8zM179.8,826.6h23.8v23.8h-23.8zM180.8,836.8h23.8v23.8h-23.8zM181.7,828.0h23.8v23.8h-23.8zM182.7,818.7h23.8v23.8h-23.8zM183.7,826.7h23.8v23.8h-23.8zM184.6,848.2h23.8v23.8h-23.8zM185.6,822.3h23.8v23.8h-23.8zM186.6,810.1h23.8v23.8h-23.8zM187.5,805.7h23.8v23.8h-23.8zM188.5,821.4h23.8v23.8h-23.8zM189.5,810.4h23.8v23.8h-23.8zM190.5,865.6h23.8v23.8h-23.8zM191.4,801.4h23.8v23.8h-23.8zM192.4,803.4h23.8v23.8h-23.8zM193.4,819.7h23.8v23.8h-23.8zM194.3,839.8h23.8v23.8h-23.8zM195.3,820.5h23.8v23.8h-23.8zM196.3,806.0h23.8v23.8h-23.8zM197.3,809.2h23.8v23.8h-23.8zM198.2,818.7h23.8v23.8h-23.8zM199.2,846.5h23.8v23.8h-23.8zM200.2,805.6h23.8v23.8h-23.8zM201.1,824.2h23.8v23.8h-23.8zM202.1,813.2h23.8v23.8h-23.8zM203.1,832.9h23.8v23.8h-23.8zM204.1,834.4h23.8v23.8h-23.8zM205.0,795.3h23.8v23.8h-23.8zM206.0,876.2h23.8v23.8h-23.8zM207.0,830.1h23.8v23.8h-23.8zM207.9,815.4h23.8v23.8h-23.8zM208.9,807.3h23.8v23.8h-23.8zM209.9,820.7h23.8v23.8h-23.8zM210.9,826.8h23.8v23.8h-23.8zM211.8,838.6h23.8v23.8h-23.8zM212.8,826.2h23.8v23.8h-23.8zM213.8,836.3h23.8v23.8h-23.8zM214.7,792.3h23.8v23.8h-23.8zM215.7,810.3h23.8v23.8h-23.8zM216.7,805.0h23.8v23.8h-23.8zM217.7,829.6h23.8v23.8h-23.8zM218.6,835.7h23.8v23.8h-23.8zM219.6,795.3h23.8v23.8h-23.8zM220.6,822.6h23.8v23.8h-23.8zM221.5,841.3h23.8v23.8h-23.8zM222.5,845.3h23.8v23.8h-23.8zM223.5,802.7h23.8v23.8h-23.8zM224.4,837.9h23.8v23.8h-23.8zM225.4,833.2h23.8v23.8h-23.8zM226.4,816.9h23.8v23.8h-23.8zM227.4,867.3h23.8v23.8h-23.8zM228.3,802.6h23.8v23.8h-23.8zM229.3,820.3h23.8v23.8h-23.8zM230.3,835.7h23.8v23.8h-23.8zM231.2,831.2h23.8v23.8h-23.8zM232.2,822.5h23.8v23.8h-23.8zM233.2,855.0h23.8v23.8h-23.8zM234.2,856.5h23.8v23.8h-23.8zM235.1,845.3h23.8v23.8h-23.8zM236.1,847.1h23.8v23.8h-23.8zM237.1,824.9h23.8v23.8h-23.8zM238.0,801.6h23.8v23.8h-23.8zM239.0,872.0h23.8v23.8h-23.8zM240.0,806.0h23.8v23.8h-23.8zM241.0,872.9h23.8v23.8h-23.8zM241.9,823.4h23.8v23.8h-23.8zM242.9,831.0h23.8v23.8h-23.8zM243.9,822.5h23.8v23.8h-23.8zM244.8,846.2h23.8v23.8h-23.8zM245.8,815.4h23.8v23.8h-23.8zM246.8,864.8h23.8v23.8h-23.8zM247.8,837.3h23.8v23.8h-23.8zM248.7,829.8h23.8v23.8h-23.8zM249.7,814.1h23.8v23.8h-23.8zM250.7,832.0h23.8v23.8h-23.8zM251.6,826.0h23.8v23.8h-23.8zM252.6,866.0h23.8v23.8h-23.8zM253.6,845.8h23.8v23.8h-23.8zM254.6,793.3h23.8v23.8h-23.8zM255.5,858.2h23.8v23.8h-23.8zM258.0,858.5h23.8v23.8h-23.8zM259.6,786.5h23.8v23.8h-23.8zM261.3,826.1h23.8v23.8h-23.8zM262.9,843.2h23.8v23.8h-23.8zM264.5,825.9h23.8v23.8h-23.8zM266.1,803.0h23.8v23.8h-23.8zM267.7,839.7h23.8v23.8h-23.8zM285.6,375.6h23.8v23.8h-23.8zM287.2,354.5h23.8v23.8h-23.8zM288.5,337.2h23.8v23.8h-23.8zM289.5,327.9h23.8v23.8h-23.8zM290.5,313.2h23.8v23.8h-23.8zM291.5,300.9h23.8v23.8h-23.8zM292.4,288.3h23.8v23.8h-23.8zM293.4,280.5h23.8v23.8h-23.8zM294.4,270.8h23.8v23.8h-23.8zM295.3,255.9h23.8v23.8h-23.8zM296.3,240.1h23.8v23.8h-23.8zM297.3,233.0h23.8v23.8h-23.8zM298.2,224.5h23.8v23.8h-23.8zM299.2,216.0h23.8v23.8h-23.8zM300.2,210.0h23.8v23.8h-23.8zM301.2,209.2h23.8v23.8h-23.8zM302.1,208.6h23.8v23.8h-23.8zM303.1,203.3h23.8v23.8h-23.8zM304.1,207.1h23.8v23.8h-23.8zM305.0,205.4h23.8v23.8h-23.8zM306.0,208.9h23.8v23.8h-23.8zM307.0,212.8h23.8v23.8h-23.8zM308.0,215.9h23.8v23.8h-23.8zM308.9,215.4h23.8v23.8h-23.8zM309.9,214.8h23.8v23.8h-23.8zM310.9,217.3h23.8v23.8h-23.8zM311.8,221.6h23.8v23.8h-23.8zM312.8,220.5h23.8v23.8h-23.8zM313.8,225.0h23.8v23.8h-23.8zM314.8,229.1h23.8v23.8h-23.8zM315.7,232.4h23.8v23.8h-23.8zM316.7,232.3h23.8v23.8h-23.8zM317.7,236.5h23.8v23.8h-23.8zM318.6,241.5h23.8v23.8h-23.8zM319.6,242.0h23.8v23.8h-23.8zM320.6,240.2h23.8v23.8h-23.8zM321.6,247.6h23.8v23.8h-23.8zM322.5,250.7h23.8v23.8h-23.8zM323.5,251.4h23.8v23.8h-23.8zM324.5,253.6h23.8v23.8h-23.8zM325.4,251.3h23.8v23.8h-23.8zM326.4,258.7h23.8v23.8h-23.8zM327.4,258.0h23.8v23.8h-23.8zM328.4,257.0h23.8v23.8h-23.8zM329.3,260.1h23.8v23.8h-23.8zM330.3,261.1h23.8v23.8h-23.8zM331.3,260.0h23.8v23.8h-23.8zM332.2,259.2h23.8v23.8h-23.8zM333.2,267.5h23.8v23.8h-23.8zM334.2,270.6h23.8v23.8h-23.8zM335.1,264.5h23.8v23.8h-23.8zM336.1,267.7h23.8v23.8h-23.8zM337.1,271.1h23.8v23.8h-23.8zM338.1,270.2h23.8v23.8h-23.8zM339.0,275.2h23.8v23.8h-23.8zM340.0,271.5h23.8v23.8h-23.8zM341.0,276.4h23.8v23.8h-23.8zM341.9,271.5h23.8v23.8h-23.8zM342.9,279.5h23.8v23.8h-23.8zM343.9,280.8h23.8v23.8h-23.8zM344.9,281.4h23.8v23.8h-23.8zM345.8,282.6h23.8v23.8h-23.8zM346.8,283.9h23.8v23.8h-23.8zM347.8,286.7h23.8v23.8h-23.8zM348.7,288.3h23.8v23.8h-23.8zM349.7,285.1h23.8v23.8h-23.8zM350.7,291.3h23.8v23.8h-23.8zM351.7,287.9h23.8v23.8h-23.8zM352.6,292.0h23.8v23.8h-23.8zM353.6,292.4h23.8v23.8h-23.8zM354.6,295.5h23.8v23.8h-23.8zM355.5,294.9h23.8v23.8h-23.8zM356.5,298.1h23.8v23.8h-23.8zM357.5,297.4h23.8v23.8h-23.8zM358.5,297.6h23.8v23.8h-23.8zM359.4,304.0h23.8v23.8h-23.8zM360.4,304.2h23.8v23.8h-23.8zM361.4,305.4h23.8v23.8h-23.8zM362.3,307.9h23.8v23.8h-23.8zM363.3,304.3h23.8v23.8h-23.8zM364.3,310.6h23.8v23.8h-23.8zM365.2,307.1h23.8v23.8h-23.8zM366.2,312.1h23.8v23.8h-23.8zM367.2,312.1h23.8v23.8h-23.8zM368.2,314.6h23.8v23.8h-23.8zM369.1,317.1h23.8v23.8h-23.8zM370.1,316.8h23.8v23.8h-23.8zM371.1,315.8h23.8v23.8h-23.8zM372.0,321.9h23.8v23.8h-23.8zM373.0,323.9h23.8v23.8h-23.8zM374.0,324.1h23.8v23.8h-23.8zM375.0,326.3h23.8v23.8h-23.8zM375.9,320.6h23.8v23.8h-23.8zM376.9,326.7h23.8v23.8h-23.8zM377.9,327.6h23.8v23.8h-23.8zM378.8,324.3h23.8v23.8h-23.8zM379.8,330.9h23.8v23.8h-23.8zM380.8,332.0h23.8v23.8h-23.8zM381.8,329.5h23.8v23.8h-23.8zM382.7,332.6h23.8v23.8h-23.8zM383.7,336.3h23.8v23.8h-23.8zM384.7,339.0h23.8v23.8h-23.8zM385.6,340.7h23.8v23.8h-23.8zM386.6,337.4h23.8v23.8h-23.8zM387.6,338.8h23.8v23.8h-23.8zM388.6,341.6h23.8v23.8h-23.8zM389.5,344.2h23.8v23.8h-23.8zM390.5,344.1h23.8v23.8h-23.8zM391.5,346.5h23.8v23.8h-23.8zM392.4,350.2h23.8v23.8h-23.8zM393.4,351.5h23.8v23.8h-23.8zM394.4,351.4h23.8v23.8h-23.8zM395.4,349.4h23.8v23.8h-23.8zM396.3,352.4h23.8v23.8h-23.8zM397.3,356.5h23.8v23.8h-23.8zM398.3,358.6h23.8v23.8h-23.8zM399.2,360.5h23.8v23.8h-23.8zM400.2,356.2h23.8v23.8h-23.8zM401.2,359.1h23.8v23.8h-23.8zM402.1,358.4h23.8v23.8h-23.8zM403.1,360.9h23.8v23.8h-23.8zM404.1,361.3h23.8v23.8h-23.8zM405.1,360.8h23.8v23.8h-23.8zM406.0,370.5h23.8v23.8h-23.8zM407.0,369.4h23.8v23.8h-23.8zM408.0,367.7h23.8v23.8h-23.8zM408.9,370.9h23.8v23.8h-23.8zM409.9,373.1h23.8v23.8h-23.8zM410.9,378.0h23.8v23.8h-23.8zM411.9,376.7h23.8v23.8h-23.8zM412.8,380.0h23.8v23.8h-23.8zM413.8,378.4h23.8v23.8h-23.8zM414.8,381.9h23.8v23.8h-23.8zM415.7,383.6h23.8v23.8h-23.8zM416.7,383.5h23.8v23.8h-23.8zM417.7,382.3h23.8v23.8h-23.8zM418.7,386.4h23.8v23.8h-23.8zM419.6,383.6h23.8v23.8h-23.8zM420.6,389.8h23.8v23.8h-23.8zM421.6,386.5h23.8v23.8h-23.8zM422.5,386.6h23.8v23.8h-23.8zM423.5,394.8h23.8v23.8h-23.8zM424.5,389.8h23.8v23.8h-23.8zM425.5,392.6h23.8v23.8h-23.8zM426.4,390.5h23.8v23.8h-23.8zM427.4,392.7h23.8v23.8h-23.8zM428.4,394.9h23.8v23.8h-23.8zM429.3,394.3h23.8v23.8h-23.8zM430.3,401.6h23.8v23.8h-23.8zM431.3,397.5h23.8v23.8h-23.8zM432.3,397.2h23.8v23.8h-23.8zM433.2,405.0h23.8v23.8h-23.8zM434.2,405.0h23.8v23.8h-23.8zM435.2,397.8h23.8v23.8h-23.8zM436.1,403.9h23.8v23.8h-23.8zM437.1,409.4h23.8v23.8h-23.8zM438.1,405.7h23.8v23.8h-23.8zM439.0,408.2h23.8v23.8h-23.8zM440.0,409.5h23.8v23.8h-23.8zM441.0,404.9h23.8v23.8h-23.8zM442.0,410.0h23.8v23.8h-23.8zM442.9,415.9h23.8v23.8h-23.8zM443.9,419.1h23.8v23.8h-23.8zM444.9,415.8h23.8v23.8h-23.8zM445.8,416.9h23.8v23.8h-23.8zM446.8,420.0h23.8v23.8h-23.8zM447.8,420.0h23.8v23.8h-23.8zM448.8,422.2h23.8v23.8h-23.8zM449.7,419.1h23.8v23.8h-23.8zM450.7,423.0h23.8v23.8h-23.8zM451.7,425.6h23.8v23.8h-23.8zM452.6,427.1h23.8v23.8h-23.8zM453.6,421.4h23.8v23.8h-23.8zM454.6,430.1h23.8v23.8h-23.8zM455.6,429.0h23.8v23.8h-23.8zM456.5,430.2h23.8v23.8h-23.8zM457.5,425.1h23.8v23.8h-23.8zM458.5,432.1h23.8v23.8h-23.8zM459.4,427.9h23.8v23.8h-23.8zM460.4,425.8h23.8v23.8h-23.8zM461.4,435.6h23.8v23.8h-23.8zM462.4,436.3h23.8v23.8h-23.8zM463.3,437.6h23.8v23.8h-23.8zM464.3,439.1h23.8v23.8h-23.8zM465.3,439.6h23.8v23.8h-23.8zM466.2,444.5h23.8v23.8h-23.8zM467.2,444.6h23.8v23.8h-23.8zM468.2,448.5h23.8v23.8h-23.8zM469.2,452.8h23.8v23.8h-23.8zM470.1,447.8h23.8v23.8h-23.8zM471.1,449.0h23.8v23.8h-23.8zM472.1,453.9h23.8v23.8h-23.8zM473.0,445.2h23.8v23.8h-23.8zM474.0,448.2h23.8v23.8h-23.8zM475.0,451.3h23.8v23.8h-23.8zM475.9,445.8h23.8v23.8h-23.8zM476.9,456.0h23.8v23.8h-23.8zM477.9,459.3h23.8v23.8h-23.8zM478.9,449.9h23.8v23.8h-23.8zM479.8,452.6h23.8v23.8h-23.8zM480.8,460.0h23.8v23.8h-23.8zM481.8,462.8h23.8v23.8h-23.8zM482.7,452.4h23.8v23.8h-23.8zM483.7,461.8h23.8v23.8h-23.8zM484.7,459.9h23.8v23.8h-23.8zM485.7,454.6h23.8v23.8h-23.8zM486.6,461.1h23.8v23.8h-23.8zM487.6,461.5h23.8v23.8h-23.8zM488.6,465.1h23.8v23.8h-23.8zM489.5,465.8h23.8v23.8h-23.8zM490.5,465.6h23.8v23.8h-23.8zM491.5,467.1h23.8v23.8h-23.8zM492.5,468.0h23.8v23.8h-23.8zM493.4,471.7h23.8v23.8h-23.8zM494.4,474.5h23.8v23.8h-23.8zM495.4,475.5h23.8v23.8h-23.8zM496.3,468.9h23.8v23.8h-23.8zM497.3,470.3h23.8v23.8h-23.8zM498.3,471.8h23.8v23.8h-23.8zM499.3,481.4h23.8v23.8h-23.8zM500.2,478.5h23.8v23.8h-23.8zM501.2,474.2h23.8v23.8h-23.8zM502.2,473.5h23.8v23.8h-23.8zM503.1,475.1h23.8v23.8h-23.8zM504.1,480.4h23.8v23.8h-23.8zM505.1,476.6h23.8v23.8h-23.8zM506.1,482.2h23.8v23.8h-23.8zM507.0,489.0h23.8v23.8h-23.8zM508.0,483.0h23.8v23.8h-23.8zM509.0,488.8h23.8v23.8h-23.8zM509.9,479.3h23.8v23.8h-23.8zM510.9,488.5h23.8v23.8h-23.8zM511.9,489.2h23.8v23.8h-23.8zM512.8,484.7h23.8v23.8h-23.8zM513.8,495.9h23.8v23.8h-23.8zM514.8,490.6h23.8v23.8h-23.8zM515.8,488.5h23.8v23.8h-23.8zM516.7,491.2h23.8v23.8h-23.8zM517.7,497.7h23.8v23.8h-23.8zM518.7,488.0h23.8v23.8h-23.8zM519.6,495.9h23.8v23.8h-23.8zM520.6,491.7h23.8v23.8h-23.8zM521.6,498.1h23.8v23.8h-23.8zM522.6,495.5h23.8v23.8h-23.8zM523.5,498.5h23.8v23.8h-23.8zM524.5,503.3h23.8v23.8h-23.8zM525.5,500.8h23.8v23.8h-23.8zM526.4,504.1h23.8v23.8h-23.8zM527.4,505.7h23.8v23.8h-23.8zM528.4,505.2h23.8v23.8h-23.8zM529.4,505.3h23.8v23.8h-23.8zM530.3,505.3h23.8v23.8h-23.8zM531.3,509.0h23.8v23.8h-23.8zM532.3,512.7h23.8v23.8h-23.8zM533.2,516.7h23.8v23.8h-23.8zM534.2,517.2h23.8v23.8h-23.8zM535.2,504.5h23.8v23.8h-23.8zM536.2,511.7h23.8v23.8h-23.8zM537.1,513.6h23.8v23.8h-23.8zM538.1,518.1h23.8v23.8h-23.8zM539.1,518.2h23.8v23.8h-23.8zM540.0,506.5h23.8v23.8h-23.8zM541.0,515.9h23.8v23.8h-23.8zM542.0,506.7h23.8v23.8h-23.8zM543.0,513.8h23.8v23.8h-23.8zM543.9,512.3h23.8v23.8h-23.8zM544.9,514.7h23.8v23.8h-23.8zM545.9,526.9h23.8v23.8h-23.8zM546.8,516.7h23.8v23.8h-23.8zM547.8,517.8h23.8v23.8h-23.8zM548.8,521.9h23.8v23.8h-23.8zM549.7,527.7h23.8v23.8h-23.8zM550.7,513.9h23.8v23.8h-23.8zM551.7,532.3h23.8v23.8h-23.8zM552.7,520.4h23.8v23.8h-23.8zM553.6,520.0h23.8v23.8h-23.8zM554.6,526.8h23.8v23.8h-23.8zM555.6,530.6h23.8v23.8h-23.8zM556.5,525.1h23.8v23.8h-23.8zM557.5,533.4h23.8v23.8h-23.8zM558.5,526.1h23.8v23.8h-23.8zM559.5,529.0h23.8v23.8h-23.8zM560.4,525.7h23.8v23.8h-23.8zM561.4,535.3h23.8v23.8h-23.8zM562.4,537.1h23.8v23.8h-23.8zM563.3,531.4h23.8v23.8h-23.8zM564.3,540.4h23.8v23.8h-23.8zM565.3,525.4h23.8v23.8h-23.8zM566.3,532.9h23.8v23.8h-23.8zM567.2,531.2h23.8v23.8h-23.8zM568.2,533.8h23.8v23.8h-23.8zM569.2,528.6h23.8v23.8h-23.8zM570.1,544.2h23.8v23.8h-23.8zM571.1,534.0h23.8v23.8h-23.8zM572.1,539.5h23.8v23.8h-23.8zM573.1,547.8h23.8v23.8h-23.8zM574.0,551.1h23.8v23.8h-23.8zM575.0,549.4h23.8v23.8h-23.8zM576.0,530.2h23.8v23.8h-23.8zM576.9,542.2h23.8v23.8h-23.8zM577.9,542.7h23.8v23.8h-23.8zM578.9,541.5h23.8v23.8h-23.8zM579.8,541.6h23.8v23.8h-23.8zM580.8,543.7h23.8v23.8h-23.8zM581.8,551.3h23.8v23.8h-23.8zM582.8,545.7h23.8v23.8h-23.8zM583.7,541.1h23.8v23.8h-23.8zM584.7,540.4h23.8v23.8h-23.8zM585.7,551.6h23.8v23.8h-23.8zM586.6,541.0h23.8v23.8h-23.8zM587.6,556.5h23.8v23.8h-23.8zM588.6,549.9h23.8v23.8h-23.8zM589.6,550.5h23.8v23.8h-23.8zM590.5,555.8h23.8v23.8h-23.8zM591.5,552.9h23.8v23.8h-23.8zM592.5,560.2h23.8v23.8h-23.8zM593.4,548.5h23.8v23.8h-23.8zM594.4,545.9h23.8v23.8h-23.8zM595.4,570.3h23.8v23.8h-23.8zM596.4,559.7h23.8v23.8h-23.8zM597.3,543.1h23.8v23.8h-23.8zM598.3,570.9h23.8v23.8h-23.8zM599.3,551.8h23.8v23.8h-23.8zM600.2,574.6h23.8v23.8h-23.8zM601.2,573.8h23.8v23.8h-23.8zM602.2,568.6h23.8v23.8h-23.8zM603.2,563.6h23.8v23.8h-23.8zM604.1,558.6h23.8v23.8h-23.8zM605.1,571.2h23.8v23.8h-23.8zM606.1,563.1h23.8v23.8h-23.8zM607.0,573.5h23.8v23.8h-23.8zM608.0,565.2h23.8v23.8h-23.8zM609.0,557.3h23.8v23.8h-23.8zM610.0,563.8h23.8v23.8h-23.8zM610.9,569.5h23.8v23.8h-23.8zM611.9,566.5h23.8v23.8h-23.8zM612.9,571.4h23.8v23.8h-23.8zM613.8,564.9h23.8v23.8h-23.8zM614.8,582.8h23.8v23.8h-23.8zM615.8,568.9h23.8v23.8h-23.8zM616.7,576.7h23.8v23.8h-23.8zM617.7,562.3h23.8v23.8h-23.8zM618.7,580.2h23.8v23.8h-23.8zM619.7,585.9h23.8v23.8h-23.8zM620.6,580.0h23.8v23.8h-23.8zM621.6,574.8h23.8v23.8h-23.8zM622.6,570.6h23.8v23.8h-23.8zM623.5,582.1h23.8v23.8h-23.8zM624.5,582.6h23.8v23.8h-23.8zM625.5,569.8h23.8v23.8h-23.8zM626.5,579.9h23.8v23.8h-23.8zM627.4,584.3h23.8v23.8h-23.8zM628.4,575.4h23.8v23.8h-23.8zM629.4,586.1h23.8v23.8h-23.8zM630.3,580.3h23.8v23.8h-23.8zM631.3,593.6h23.8v23.8h-23.8zM632.3,574.2h23.8v23.8h-23.8zM633.3,588.1h23.8v23.8h-23.8zM634.2,585.7h23.8v23.8h-23.8zM635.2,571.5h23.8v23.8h-23.8zM636.2,579.1h23.8v23.8h-23.8zM637.1,580.3h23.8v23.8h-23.8zM638.1,594.4h23.8v23.8h-23.8zM639.1,585.2h23.8v23.8h-23.8zM640.1,588.5h23.8v23.8h-23.8zM641.0,590.3h23.8v23.8h-23.8zM642.0,593.8h23.8v23.8h-23.8zM643.0,588.6h23.8v23.8h-23.8zM643.9,606.0h23.8v23.8h-23.8zM644.9,590.2h23.8v23.8h-23.8zM645.9,579.9h23.8v23.8h-23.8zM646.9,586.4h23.8v23.8h-23.8zM647.8,583.6h23.8v23.8h-23.8zM648.8,591.1h23.8v23.8h-23.8zM649.8,583.0h23.8v23.8h-23.8zM650.7,587.9h23.8v23.8h-23.8zM651.7,611.1h23.8v23.8h-23.8zM652.7,598.3h23.8v23.8h-23.8zM653.6,599.7h23.8v23.8h-23.8zM654.6,612.3h23.8v23.8h-23.8zM655.6,584.8h23.8v23.8h-23.8zM656.6,603.3h23.8v23.8h-23.8zM657.5,595.5h23.8v23.8h-23.8zM658.5,599.6h23.8v23.8h-23.8zM659.5,594.9h23.8v23.8h-23.8zM660.4,602.0h23.8v23.8h-23.8zM661.4,611.9h23.8v23.8h-23.8zM662.4,612.2h23.8v23.8h-23.8zM663.4,604.9h23.8v23.8h-23.8zM664.3,610.3h23.8v23.8h-23.8zM665.3,593.9h23.8v23.8h-23.8zM666.3,607.3h23.8v23.8h-23.8zM667.2,613.9h23.8v23.8h-23.8zM668.2,622.9h23.8v23.8h-23.8zM669.2,610.2h23.8v23.8h-23.8zM670.2,601.5h23.8v23.8h-23.8zM671.1,607.7h23.8v23.8h-23.8zM672.1,618.4h23.8v23.8h-23.8zM673.1,598.3h23.8v23.8h-23.8zM674.0,609.6h23.8v23.8h-23.8zM675.0,614.9h23.8v23.8h-23.8zM676.0,601.1h23.8v23.8h-23.8zM677.0,629.1h23.8v23.8h-23.8zM677.9,618.4h23.8v23.8h-23.8zM678.9,626.5h23.8v23.8h-23.8zM679.9,602.7h23.8v23.8h-23.8zM680.8,614.8h23.8v23.8h-23.8zM681.8,627.1h23.8v23.8h-23.8zM682.8,618.0h23.8v23.8h-23.8zM683.8,625.8h23.8v23.8h-23.8zM684.7,598.3h23.8v23.8h-23.8zM685.7,614.7h23.8v23.8h-23.8zM686.7,597.9h23.8v23.8h-23.8zM687.6,612.0h23.8v23.8h-23.8zM688.6,619.8h23.8v23.8h-23.8zM689.6,616.6h23.8v23.8h-23.8zM690.5,606.6h23.8v23.8h-23.8zM691.5,621.5h23.8v23.8h-23.8zM692.5,625.3h23.8v23.8h-23.8zM693.5,618.8h23.8v23.8h-23.8zM694.4,627.9h23.8v23.8h-23.8zM695.4,631.5h23.8v23.8h-23.8zM696.4,633.0h23.8v23.8h-23.8zM697.3,618.6h23.8v23.8h-23.8zM698.3,627.2h23.8v23.8h-23.8zM699.3,616.8h23.8v23.8h-23.8zM700.3,622.5h23.8v23.8h-23.8zM701.2,634.1h23.8v23.8h-23.8zM702.2,623.4h23.8v23.8h-23.8zM703.2,620.5h23.8v23.8h-23.8zM704.1,619.6h23.8v23.8h-23.8zM705.1,630.9h23.8v23.8h-23.8zM706.1,642.1h23.8v23.8h-23.8zM707.1,635.9h23.8v23.8h-23.8zM708.0,625.2h23.8v23.8h-23.8zM709.0,635.8h23.8v23.8h-23.8zM710.0,637.7h23.8v23.8h-23.8zM710.9,643.3h23.8v23.8h-23.8zM711.9,622.7h23.8v23.8h-23.8zM712.9,636.2h23.8v23.8h-23.8zM713.9,626.4h23.8v23.8h-23.8zM714.8,625.4h23.8v23.8h-23.8zM715.8,643.9h23.8v23.8h-23.8zM716.8,637.3h23.8v23.8h-23.8zM717.7,633.1h23.8v23.8h-23.8zM718.7,646.6h23.8v23.8h-23.8zM719.7,635.0h23.8v23.8h-23.8zM720.7,624.8h23.8v23.8h-23.8zM721.6,643.5h23.8v23.8h-23.8zM722.6,625.3h23.8v23.8h-23.8zM723.6,626.3h23.8v23.8h-23.8zM724.5,631.4h23.8v23.8h-23.8zM725.5,634.6h23.8v23.8h-23.8zM726.5,646.0h23.8v23.8h-23.8zM727.4,633.4h23.8v23.8h-23.8zM728.4,618.7h23.8v23.8h-23.8zM729.4,632.1h23.8v23.8h-23.8zM730.4,641.8h23.8v23.8h-23.8zM731.3,637.7h23.8v23.8h-23.8zM732.3,638.2h23.8v23.8h-23.8zM733.3,627.1h23.8v23.8h-23.8zM734.2,636.3h23.8v23.8h-23.8zM735.2,647.0h23.8v23.8h-23.8zM736.2,647.7h23.8v23.8h-23.8zM737.2,632.9h23.8v23.8h-23.8zM738.1,634.5h23.8v23.8h-23.8zM739.1,632.3h23.8v23.8h-23.8zM740.1,653.2h23.8v23.8h-23.8zM741.0,635.5h23.8v23.8h-23.8zM742.0,641.1h23.8v23.8h-23.8zM743.0,635.6h23.8v23.8h-23.8zM744.0,635.0h23.8v23.8h-23.8zM744.9,644.0h23.8v23.8h-23.8zM745.9,655.7h23.8v23.8h-23.8zM746.9,640.0h23.8v23.8h-23.8zM747.8,659.7h23.8v23.8h-23.8zM748.8,646.6h23.8v23.8h-23.8zM749.8,655.7h23.8v23.8h-23.8zM750.8,675.7h23.8v23.8h-23.8zM751.7,673.9h23.8v23.8h-23.8zM752.7,652.2h23.8v23.8h-23.8zM753.7,650.3h23.8v23.8h-23.8zM754.6,648.2h23.8v23.8h-23.8zM755.6,658.3h23.8v23.8h-23.8zM756.6,629.6h23.8v23.8h-23.8zM757.5,643.2h23.8v23.8h-23.8zM758.5,650.1h23.8v23.8h-23.8zM759.5,643.3h23.8v23.8h-23.8zM760.5,641.1h23.8v23.8h-23.8zM761.4,667.8h23.8v23.8h-23.8zM762.4,636.5h23.8v23.8h-23.8zM763.4,648.8h23.8v23.8h-23.8zM764.3,647.5h23.8v23.8h-23.8zM765.3,649.2h23.8v23.8h-23.8zM766.3,642.8h23.8v23.8h-23.8zM767.3,664.3h23.8v23.8h-23.8zM768.2,654.5h23.8v23.8h-23.8zM769.2,676.7h23.8v23.8h-23.8zM770.2,640.7h23.8v23.8h-23.8zM771.1,658.6h23.8v23.8h-23.8zM772.1,642.4h23.8v23.8h-23.8zM773.1,660.7h23.8v23.8h-23.8zM774.1,672.2h23.8v23.8h-23.8zM775.0,645.2h23.8v23.8h-23.8zM776.0,671.0h23.8v23.8h-23.8zM777.0,649.8h23.8v23.8h-23.8zM777.9,646.3h23.8v23.8h-23.8zM778.9,664.3h23.8v23.8h-23.8zM779.9,669.8h23.8v23.8h-23.8zM780.9,662.8h23.8v23.8h-23.8zM781.8,665.4h23.8v23.8h-23.8zM782.8,661.6h23.8v23.8h-23.8zM783.8,656.2h23.8v23.8h-23.8zM784.7,636.6h23.8v23.8h-23.8zM785.7,658.7h23.8v23.8h-23.8zM786.7,655.0h23.8v23.8h-23.8zM787.7,670.8h23.8v23.8h-23.8zM788.6,654.2h23.8v23.8h-23.8zM789.6,689.7h23.8v23.8h-23.8zM790.6,672.9h23.8v23.8h-23.8zM791.5,660.4h23.8v23.8h-23.8zM792.5,674.2h23.8v23.8h-23.8zM793.5,663.3h23.8v23.8h-23.8zM794.4,682.9h23.8v23.8h-23.8zM795.4,661.9h23.8v23.8h-23.8zM796.4,685.7h23.8v23.8h-23.8zM797.4,654.5h23.8v23.8h-23.8zM798.3,669.7h23.8v23.8h-23.8zM799.3,668.0h23.8v23.8h-23.8zM800.3,657.8h23.8v23.8h-23.8zM801.2,665.5h23.8v23.8h-23.8zM802.2,670.1h23.8v23.8h-23.8zM803.2,655.1h23.8v23.8h-23.8zM804.2,659.8h23.8v23.8h-23.8zM805.1,677.4h23.8v23.8h-23.8zM806.1,661.6h23.8v23.8h-23.8zM807.1,692.3h23.8v23.8h-23.8zM808.0,692.7h23.8v23.8h-23.8zM809.0,666.5h23.8v23.8h-23.8zM810.0,677.6h23.8v23.8h-23.8zM811.0,680.3h23.8v23.8h-23.8zM811.9,683.2h23.8v23.8h-23.8zM812.9,667.1h23.8v23.8h-23.8zM813.9,684.3h23.8v23.8h-23.8zM814.8,667.8h23.8v23.8h-23.8zM815.8,673.9h23.8v23.8h-23.8zM816.8,692.1h23.8v23.8h-23.8zM817.8,674.8h23.8v23.8h-23.8zM818.7,663.5h23.8v23.8h-23.8zM819.7,669.0h23.8v23.8h-23.8zM820.7,681.3h23.8v23.8h-23.8zM821.6,667.2h23.8v23.8h-23.8zM822.6,664.7h23.8v23.8h-23.8zM823.6,680.1h23.8v23.8h-23.8zM824.6,665.7h23.8v23.8h-23.8zM825.5,707.2h23.8v23.8h-23.8zM826.5,670.1h23.8v23.8h-23.8zM827.5,688.9h23.8v23.8h-23.8zM828.4,660.0h23.8v23.8h-23.8zM829.4,675.7h23.8v23.8h-23.8zM830.4,691.8h23.8v23.8h-23.8zM831.3,688.3h23.8v23.8h-23.8zM832.3,690.1h23.8v23.8h-23.8zM833.3,673.7h23.8v23.8h-23.8zM834.3,684.7h23.8v23.8h-23.8zM835.2,679.6h23.8v23.8h-23.8zM836.2,663.2h23.8v23.8h-23.8zM837.2,698.9h23.8v23.8h-23.8zM838.1,673.9h23.8v23.8h-23.8zM839.1,680.5h23.8v23.8h-23.8zM840.1,696.1h23.8v23.8h-23.8zM841.1,693.7h23.8v23.8h-23.8zM842.0,721.3h23.8v23.8h-23.8zM843.0,684.1h23.8v23.8h-23.8zM844.0,705.8h23.8v23.8h-23.8zM844.9,684.3h23.8v23.8h-23.8zM845.9,686.6h23.8v23.8h-23.8zM846.9,701.9h23.8v23.8h-23.8zM847.9,696.4h23.8v23.8h-23.8zM848.8,680.1h23.8v23.8h-23.8zM849.8,686.4h23.8v23.8h-23.8zM850.8,690.5h23.8v23.8h-23.8zM851.7,712.5h23.8v23.8h-23.8zM852.7,677.6h23.8v23.8h-23.8zM853.7,692.3h23.8v23.8h-23.8zM854.7,698.1h23.8v23.8h-23.8zM855.6,691.6h23.8v23.8h-23.8zM856.6,682.6h23.8v23.8h-23.8zM857.6,702.4h23.8v23.8h-23.8zM858.5,677.1h23.8v23.8h-23.8zM859.5,719.2h23.8v23.8h-23.8zM860.5,682.8h23.8v23.8h-23.8zM861.5,663.3h23.8v23.8h-23.8zM862.4,694.3h23.8v23.8h-23.8zM863.4,701.7h23.8v23.8h-23.8zM864.4,699.4h23.8v23.8h-23.8zM865.3,684.3h23.8v23.8h-23.8zM866.3,691.1h23.8v23.8h-23.8zM867.3,693.9h23.8v23.8h-23.8zM868.2,681.0h23.8v23.8h-23.8zM869.2,688.7h23.8v23.8h-23.8zM870.2,680.6h23.8v23.8h-23.8zM871.2,711.9h23.8v23.8h-23.8zM872.1,701.4h23.8v23.8h-23.8zM873.1,689.2h23.8v23.8h-23.8zM874.1,690.3h23.8v23.8h-23.8zM875.0,689.5h23.8v23.8h-23.8zM876.0,691.8h23.8v23.8h-23.8zM877.0,700.8h23.8v23.8h-23.8zM878.0,691.9h23.8v23.8h-23.8zM878.9,689.9h23.8v23.8h-23.8zM879.9,703.4h23.8v23.8h-23.8zM880.9,695.6h23.8v23.8h-23.8zM881.8,698.4h23.8v23.8h-23.8zM882.8,699.8h23.8v23.8h-23.8zM883.8,696.3h23.8v23.8h-23.8zM884.8,682.7h23.8v23.8h-23.8zM885.7,696.0h23.8v23.8h-23.8zM886.7,717.8h23.8v23.8h-23.8zM887.7,687.5h23.8v23.8h-23.8zM888.6,688.3h23.8v23.8h-23.8zM889.6,694.5h23.8v23.8h-23.8zM890.6,695.4h23.8v23.8h-23.8zM891.6,722.1h23.8v23.8h-23.8zM892.5,697.2h23.8v23.8h-23.8zM893.5,719.3h23.8v23.8h-23.8zM894.5,714.2h23.8v23.8h-23.8zM895.4,713.5h23.8v23.8h-23.8zM896.4,712.4h23.8v23.8h-23.8zM897.4,708.5h23.8v23.8h-23.8zM898.4,711.4h23.8v23.8h-23.8zM899.3,722.1h23.8v23.8h-23.8zM900.3,673.5h23.8v23.8h-23.8zM901.3,709.8h23.8v23.8h-23.8zM902.2,722.2h23.8v23.8h-23.8zM903.2,695.2h23.8v23.8h-23.8zM904.2,704.6h23.8v23.8h-23.8zM905.1,718.5h23.8v23.8h-23.8zM906.1,679.3h23.8v23.8h-23.8zM907.1,710.6h23.8v23.8h-23.8zM908.1,689.9h23.8v23.8h-23.8zM909.0,710.2h23.8v23.8h-23.8zM910.0,712.6h23.8v23.8h-23.8zM911.0,710.9h23.8v23.8h-23.8zM911.9,692.2h23.8v23.8h-23.8zM912.9,707.9h23.8v23.8h-23.8zM913.9,698.4h23.8v23.8h-23.8zM914.9,713.0h23.8v23.8h-23.8zM915.8,702.9h23.8v23.8h-23.8zM916.8,696.1h23.8v23.8h-23.8zM917.8,723.5h23.8v23.8h-23.8zM918.7,690.9h23.8v23.8h-23.8zM919.7,702.0h23.8v23.8h-23.8zM920.7,726.6h23.8v23.8h-23.8zM921.7,715.9h23.8v23.8h-23.8zM922.6,723.9h23.8v23.8h-23.8zM923.6,695.6h23.8v23.8h-23.8zM924.6,713.8h23.8v23.8h-23.8zM925.5,697.9h23.8v23.8h-23.8zM926.5,684.6h23.8v23.8h-23.8zM927.5,720.9h23.8v23.8h-23.8zM928.5,696.4h23.8v23.8h-23.8zM929.4,714.2h23.8v23.8h-23.8zM930.4,698.1h23.8v23.8h-23.8zM931.4,721.5h23.8v23.8h-23.8zM932.3,722.1h23.8v23.8h-23.8zM933.3,697.9h23.8v23.8h-23.8zM934.3,698.1h23.8v23.8h-23.8zM935.3,711.0h23.8v23.8h-23.8zM936.2,707.1h23.8v23.8h-23.8zM937.2,710.9h23.8v23.8h-23.8zM938.2,703.4h23.8v23.8h-23.8zM939.1,725.9h23.8v23.8h-23.8zM940.1,714.1h23.8v23.8h-23.8zM941.1,715.7h23.8v23.8h-23.8zM942.0,706.2h23.8v23.8h-23.8zM943.0,692.7h23.8v23.8h-23.8zM944.0,717.3h23.8v23.8h-23.8zM945.0,729.8h23.8v23.8h-23.8zM945.9,735.8h23.8v23.8h-23.8zM946.9,720.0h23.8v23.8h-23.8zM947.9,697.9h23.8v23.8h-23.8zM948.8,712.5h23.8v23.8h-23.8zM949.8,720.4h23.8v23.8h-23.8zM950.8,701.0h23.8v23.8h-23.8zM951.8,712.7h23.8v23.8h-23.8zM952.7,708.7h23.8v23.8h-23.8zM953.7,706.4h23.8v23.8h-23.8zM954.7,703.2h23.8v23.8h-23.8zM955.6,724.4h23.8v23.8h-23.8zM956.6,728.3h23.8v23.8h-23.8zM957.6,739.4h23.8v23.8h-23.8zM958.6,716.2h23.8v23.8h-23.8zM959.5,721.6h23.8v23.8h-23.8zM960.5,693.7h23.8v23.8h-23.8zM961.5,725.6h23.8v23.8h-23.8zM962.4,742.9h23.8v23.8h-23.8zM963.4,709.4h23.8v23.8h-23.8zM964.4,729.7h23.8v23.8h-23.8zM965.4,713.9h23.8v23.8h-23.8zM966.3,730.6h23.8v23.8h-23.8zM967.3,734.2h23.8v23.8h-23.8zM968.3,700.0h23.8v23.8h-23.8zM969.2,709.0h23.8v23.8h-23.8zM970.2,711.6h23.8v23.8h-23.8zM971.2,720.5h23.8v23.8h-23.8zM972.1,744.7h23.8v23.8h-23.8zM973.1,724.9h23.8v23.8h-23.8zM974.1,726.6h23.8v23.8h-23.8zM975.1,727.7h23.8v23.8h-23.8zM976.0,714.6h23.8v23.8h-23.8zM977.0,742.4h23.8v23.8h-23.8zM978.0,733.7h23.8v23.8h-23.8zM978.9,738.2h23.8v23.8h-23.8zM979.9,730.1h23.8v23.8h-23.8zM980.9,704.3h23.8v23.8h-23.8zM981.9,735.0h23.8v23.8h-23.8zM982.8,716.6h23.8v23.8h-23.8zM983.8,712.4h23.8v23.8h-23.8zM984.8,754.2h23.8v23.8h-23.8zM985.7,742.2h23.8v23.8h-23.8zM986.7,721.1h23.8v23.8h-23.8zM987.7,741.3h23.8v23.8h-23.8zM988.7,746.0h23.8v23.8h-23.8zM989.6,732.1h23.8v23.8h-23.8zM990.6,722.3h23.8v23.8h-23.8zM991.6,744.8h23.8v23.8h-23.8zM992.5,741.5h23.8v23.8h-23.8zM993.5,740.6h23.8v23.8h-23.8zM994.5,702.7h23.8v23.8h-23.8zM995.5,737.0h23.8v23.8h-23.8zM996.4,763.5h23.8v23.8h-23.8zM997.4,712.8h23.8v23.8h-23.8zM998.4,724.0h23.8v23.8h-23.8zM999.3,718.0h23.8v23.8h-23.8zM1000.3,722.9h23.8v23.8h-23.8zM1001.3,728.9h23.8v23.8h-23.8zM1002.3,764.4h23.8v23.8h-23.8zM1003.2,726.8h23.8v23.8h-23.8zM1004.2,758.2h23.8v23.8h-23.8zM1005.2,716.8h23.8v23.8h-23.8zM1006.1,742.9h23.8v23.8h-23.8zM1007.1,731.9h23.8v23.8h-23.8zM1008.1,726.1h23.8v23.8h-23.8zM1009.0,737.9h23.8v23.8h-23.8zM1010.0,755.5h23.8v23.8h-23.8zM1011.0,740.3h23.8v23.8h-23.8zM1012.0,744.9h23.8v23.8h-23.8zM1012.9,735.6h23.8v23.8h-23.8zM1013.9,742.5h23.8v23.8h-23.8zM1014.9,741.5h23.8v23.8h-23.8zM1015.8,748.7h23.8v23.8h-23.8zM1016.8,733.3h23.8v23.8h-23.8zM1017.8,725.8h23.8v23.8h-23.8zM1018.8,728.1h23.8v23.8h-23.8zM1019.7,728.0h23.8v23.8h-23.8zM1020.7,745.3h23.8v23.8h-23.8zM1021.7,723.4h23.8v23.8h-23.8zM1022.6,748.8h23.8v23.8h-23.8zM1023.6,741.1h23.8v23.8h-23.8zM1024.6,758.3h23.8v23.8h-23.8zM1025.6,741.1h23.8v23.8h-23.8zM1026.5,755.7h23.8v23.8h-23.8zM1027.5,745.3h23.8v23.8h-23.8zM1028.5,741.4h23.8v23.8h-23.8zM1029.4,733.5h23.8v23.8h-23.8zM1030.4,746.6h23.8v23.8h-23.8zM1031.4,740.5h23.8v23.8h-23.8zM1032.4,728.8h23.8v23.8h-23.8zM1033.3,731.2h23.8v23.8h-23.8zM1034.3,707.3h23.8v23.8h-23.8zM1035.3,759.2h23.8v23.8h-23.8zM1036.2,759.1h23.8v23.8h-23.8zM1037.2,732.3h23.8v23.8h-23.8zM1038.2,719.2h23.8v23.8h-23.8zM1039.2,751.9h23.8v23.8h-23.8zM1040.1,759.5h23.8v23.8h-23.8zM1041.1,740.5h23.8v23.8h-23.8zM1042.1,730.1h23.8v23.8h-23.8zM1043.0,762.7h23.8v23.8h-23.8zM1044.0,756.5h23.8v23.8h-23.8zM1045.0,759.1h23.8v23.8h-23.8zM1045.9,773.9h23.8v23.8h-23.8zM1046.9,741.7h23.8v23.8h-23.8zM1047.9,745.3h23.8v23.8h-23.8zM1048.9,776.6h23.8v23.8h-23.8zM1049.8,757.2h23.8v23.8h-23.8zM1050.8,784.8h23.8v23.8h-23.8zM1051.8,727.1h23.8v23.8h-23.8zM1052.7,717.7h23.8v23.8h-23.8zM1053.7,753.5h23.8v23.8h-23.8zM1054.7,751.6h23.8v23.8h-23.8zM1055.7,724.5h23.8v23.8h-23.8zM1056.6,728.1h23.8v23.8h-23.8zM1057.6,729.2h23.8v23.8h-23.8zM1058.6,754.8h23.8v23.8h-23.8zM1059.5,720.1h23.8v23.8h-23.8zM1060.5,741.7h23.8v23.8h-23.8zM1061.5,731.3h23.8v23.8h-23.8zM1062.5,771.3h23.8v23.8h-23.8zM1063.4,749.2h23.8v23.8h-23.8zM1064.4,776.0h23.8v23.8h-23.8zM1065.4,741.4h23.8v23.8h-23.8zM1066.3,757.9h23.8v23.8h-23.8zM1067.3,746.0h23.8v23.8h-23.8zM1068.3,742.1h23.8v23.8h-23.8zM1069.3,717.2h23.8v23.8h-23.8zM1070.2,742.7h23.8v23.8h-23.8zM1071.2,711.4h23.8v23.8h-23.8zM1072.2,735.4h23.8v23.8h-23.8zM1073.1,748.5h23.8v23.8h-23.8zM1074.1,749.3h23.8v23.8h-23.8zM1075.1,732.7h23.8v23.8h-23.8zM1076.1,744.1h23.8v23.8h-23.8zM1077.0,729.1h23.8v23.8h-23.8zM1078.0,760.4h23.8v23.8h-23.8zM1079.0,727.7h23.8v23.8h-23.8zM1079.9,739.8h23.8v23.8h-23.8zM1080.9,762.7h23.8v23.8h-23.8zM1081.9,747.3h23.8v23.8h-23.8zM1082.8,780.3h23.8v23.8h-23.8zM1083.8,733.3h23.8v23.8h-23.8zM1084.8,771.2h23.8v23.8h-23.8zM1085.8,738.8h23.8v23.8h-23.8zM1086.7,751.0h23.8v23.8h-23.8zM1087.7,740.7h23.8v23.8h-23.8zM1088.7,737.1h23.8v23.8h-23.8zM1089.6,740.5h23.8v23.8h-23.8zM1090.6,754.3h23.8v23.8h-23.8zM1091.6,745.8h23.8v23.8h-23.8zM1092.6,783.9h23.8v23.8h-23.8zM1093.5,753.0h23.8v23.8h-23.8zM1094.5,730.9h23.8v23.8h-23.8zM1095.5,738.4h23.8v23.8h-23.8zM1096.4,746.6h23.8v23.8h-23.8zM1097.4,757.1h23.8v23.8h-23.8zM1098.4,762.5h23.8v23.8h-23.8zM1099.4,728.5h23.8v23.8h-23.8zM1100.3,755.5h23.8v23.8h-23.8zM1101.3,736.5h23.8v23.8h-23.8zM1102.3,753.5h23.8v23.8h-23.8zM1103.2,747.0h23.8v23.8h-23.8zM1104.2,774.7h23.8v23.8h-23.8zM1105.2,770.7h23.8v23.8h-23.8zM1106.2,780.3h23.8v23.8h-23.8zM1107.1,738.5h23.8v23.8h-23.8zM1108.1,743.4h23.8v23.8h-23.8zM1109.1,753.6h23.8v23.8h-23.8zM1110.0,742.8h23.8v23.8h-23.8zM1111.0,741.7h23.8v23.8h-23.8zM1112.0,762.8h23.8v23.8h-23.8zM1113.0,794.0h23.8v23.8h-23.8zM1113.9,759.9h23.8v23.8h-23.8zM1114.9,782.8h23.8v23.8h-23.8zM1115.9,728.0h23.8v23.8h-23.8zM1116.8,791.6h23.8v23.8h-23.8zM1117.8,795.2h23.8v23.8h-23.8zM1118.8,758.2h23.8v23.8h-23.8zM1119.7,745.8h23.8v23.8h-23.8zM1120.7,766.7h23.8v23.8h-23.8zM1121.7,724.5h23.8v23.8h-23.8zM1122.7,761.2h23.8v23.8h-23.8zM1123.6,723.1h23.8v23.8h-23.8zM1124.6,785.7h23.8v23.8h-23.8zM1125.6,755.5h23.8v23.8h-23.8zM1126.5,742.4h23.8v23.8h-23.8zM1127.5,717.2h23.8v23.8h-23.8zM1128.5,784.1h23.8v23.8h-23.8zM1129.5,759.1h23.8v23.8h-23.8zM1130.4,747.2h23.8v23.8h-23.8zM1131.4,780.3h23.8v23.8h-23.8zM1132.4,732.5h23.8v23.8h-23.8zM1133.3,778.9h23.8v23.8h-23.8zM1134.3,783.5h23.8v23.8h-23.8zM1135.3,753.9h23.8v23.8h-23.8zM1136.3,782.1h23.8v23.8h-23.8zM1137.2,791.9h23.8v23.8h-23.8zM1138.2,745.8h23.8v23.8h-23.8zM1139.2,746.9h23.8v23.8h-23.8zM1140.1,776.3h23.8v23.8h-23.8zM1141.1,775.4h23.8v23.8h-23.8zM1142.1,746.2h23.8v23.8h-23.8zM1143.1,786.3h23.8v23.8h-23.8zM1144.0,731.7h23.8v23.8h-23.8zM1145.0,785.4h23.8v23.8h-23.8zM1146.0,752.2h23.8v23.8h-23.8zM1146.9,743.8h23.8v23.8h-23.8zM1147.9,769.5h23.8v23.8h-23.8zM1148.9,728.2h23.8v23.8h-23.8zM1149.9,805.9h23.8v23.8h-23.8zM1150.8,724.9h23.8v23.8h-23.8zM1151.8,759.1h23.8v23.8h-23.8zM1152.8,770.5h23.8v23.8h-23.8zM1153.7,775.3h23.8v23.8h-23.8zM1154.7,741.6h23.8v23.8h-23.8zM1155.7,756.9h23.8v23.8h-23.8zM1156.6,784.1h23.8v23.8h-23.8zM1157.6,766.6h23.8v23.8h-23.8zM1158.6,777.6h23.8v23.8h-23.8zM1159.6,767.5h23.8v23.8h-23.8zM1160.5,768.5h23.8v23.8h-23.8zM1161.5,747.7h23.8v23.8h-23.8zM1162.5,741.5h23.8v23.8h-23.8zM1163.4,759.6h23.8v23.8h-23.8zM1164.4,742.9h23.8v23.8h-23.8zM1165.4,794.0h23.8v23.8h-23.8zM1166.4,780.0h23.8v23.8h-23.8zM1167.3,790.6h23.8v23.8h-23.8zM1168.3,736.1h23.8v23.8h-23.8zM1169.3,739.9h23.8v23.8h-23.8zM1170.2,779.4h23.8v23.8h-23.8zM1171.2,769.8h23.8v23.8h-23.8zM1172.2,771.3h23.8v23.8h-23.8zM1173.2,786.4h23.8v23.8h-23.8zM1174.1,746.6h23.8v23.8h-23.8zM1175.1,741.4h23.8v23.8h-23.8zM1176.1,749.9h23.8v23.8h-23.8zM1177.0,809.8h23.8v23.8h-23.8zM1178.0,766.4h23.8v23.8h-23.8zM1179.0,751.7h23.8v23.8h-23.8zM1180.0,797.3h23.8v23.8h-23.8zM1180.9,786.2h23.8v23.8h-23.8zM1181.9,785.9h23.8v23.8h-23.8zM1182.9,781.0h23.8v23.8h-23.8zM1183.8,764.0h23.8v23.8h-23.8zM1184.8,804.9h23.8v23.8h-23.8zM1185.8,785.9h23.8v23.8h-23.8zM1186.7,744.4h23.8v23.8h-23.8zM1187.7,745.7h23.8v23.8h-23.8zM1188.7,755.9h23.8v23.8h-23.8zM1189.7,787.2h23.8v23.8h-23.8zM1190.6,756.8h23.8v23.8h-23.8zM1191.6,764.2h23.8v23.8h-23.8zM1192.6,760.4h23.8v23.8h-23.8zM1193.5,771.7h23.8v23.8h-23.8zM1194.5,796.0h23.8v23.8h-23.8zM1195.5,761.5h23.8v23.8h-23.8zM1196.5,771.1h23.8v23.8h-23.8zM1197.4,806.9h23.8v23.8h-23.8zM1198.4,739.0h23.8v23.8h-23.8zM1199.4,778.2h23.8v23.8h-23.8zM1200.3,775.8h23.8v23.8h-23.8zM1201.3,770.4h23.8v23.8h-23.8zM1202.3,793.5h23.8v23.8h-23.8zM1203.3,818.4h23.8v23.8h-23.8zM1204.2,772.7h23.8v23.8h-23.8zM1205.2,771.8h23.8v23.8h-23.8zM1206.2,786.5h23.8v23.8h-23.8zM1207.1,748.2h23.8v23.8h-23.8zM1208.1,765.7h23.8v23.8h-23.8zM1209.1,780.0h23.8v23.8h-23.8zM1210.1,778.3h23.8v23.8h-23.8zM1211.0,758.2h23.8v23.8h-23.8zM1212.0,797.4h23.8v23.8h-23.8zM1213.0,749.8h23.8v23.8h-23.8zM1213.9,759.4h23.8v23.8h-23.8zM1214.9,752.9h23.8v23.8h-23.8zM1215.9,782.9h23.8v23.8h-23.8zM1216.9,792.2h23.8v23.8h-23.8zM1217.8,772.7h23.8v23.8h-23.8zM1218.8,800.0h23.8v23.8h-23.8zM1219.8,766.4h23.8v23.8h-23.8zM1220.7,777.5h23.8v23.8h-23.8zM1221.7,780.4h23.8v23.8h-23.8zM1222.7,775.1h23.8v23.8h-23.8zM1223.6,779.8h23.8v23.8h-23.8zM1224.6,754.1h23.8v23.8h-23.8zM1225.6,731.0h23.8v23.8h-23.8zM1226.6,764.6h23.8v23.8h-23.8zM1227.5,768.4h23.8v23.8h-23.8zM1228.5,771.6h23.8v23.8h-23.8zM1229.5,754.2h23.8v23.8h-23.8zM1230.4,749.7h23.8v23.8h-23.8zM1231.4,821.1h23.8v23.8h-23.8zM1232.4,793.8h23.8v23.8h-23.8zM1233.4,784.9h23.8v23.8h-23.8zM1234.3,781.4h23.8v23.8h-23.8zM1235.3,763.9h23.8v23.8h-23.8zM1236.3,775.0h23.8v23.8h-23.8zM1237.2,803.3h23.8v23.8h-23.8zM1238.2,800.5h23.8v23.8h-23.8zM1239.2,766.0h23.8v23.8h-23.8zM1240.2,767.9h23.8v23.8h-23.8zM1241.1,767.2h23.8v23.8h-23.8zM1242.1,763.4h23.8v23.8h-23.8zM1243.1,799.5h23.8v23.8h-23.8zM1244.0,793.7h23.8v23.8h-23.8zM1245.0,786.5h23.8v23.8h-23.8zM1246.0,766.3h23.8v23.8h-23.8zM1247.0,807.8h23.8v23.8h-23.8zM1247.9,780.5h23.8v23.8h-23.8zM1248.9,724.2h23.8v23.8h-23.8zM1249.9,808.6h23.8v23.8h-23.8zM1250.8,785.5h23.8v23.8h-23.8zM1251.8,767.3h23.8v23.8h-23.8zM1252.8,810.1h23.8v23.8h-23.8zM1253.8,728.1h23.8v23.8h-23.8zM1254.7,766.2h23.8v23.8h-23.8zM1255.7,796.4h23.8v23.8h-23.8zM1256.7,765.0h23.8v23.8h-23.8zM1257.6,827.4h23.8v23.8h-23.8zM1258.6,826.4h23.8v23.8h-23.8zM1259.6,788.2h23.8v23.8h-23.8zM1260.5,787.1h23.8v23.8h-23.8zM1261.5,821.3h23.8v23.8h-23.8zM1262.5,796.7h23.8v23.8h-23.8zM1263.5,758.8h23.8v23.8h-23.8zM1264.4,777.0h23.8v23.8h-23.8zM1265.4,763.0h23.8v23.8h-23.8zM1266.4,797.1h23.8v23.8h-23.8zM1267.3,787.4h23.8v23.8h-23.8zM1268.3,815.7h23.8v23.8h-23.8zM1269.3,789.7h23.8v23.8h-23.8zM1270.3,766.3h23.8v23.8h-23.8zM1271.2,758.3h23.8v23.8h-23.8zM1272.2,819.0h23.8v23.8h-23.8zM1273.2,813.8h23.8v23.8h-23.8zM1274.1,765.2h23.8v23.8h-23.8zM1275.1,750.5h23.8v23.8h-23.8zM1276.1,748.4h23.8v23.8h-23.8zM1277.1,808.0h23.8v23.8h-23.8zM1278.0,776.5h23.8v23.8h-23.8zM1279.0,827.3h23.8v23.8h-23.8zM1280.0,775.9h23.8v23.8h-23.8zM1280.9,778.8h23.8v23.8h-23.8zM1281.9,780.0h23.8v23.8h-23.8zM1282.9,800.4h23.8v23.8h-23.8zM1283.9,827.0h23.8v23.8h-23.8zM1284.8,764.4h23.8v23.8h-23.8zM1285.8,805.1h23.8v23.8h-23.8zM1286.8,819.7h23.8v23.8h-23.8zM1287.7,783.5h23.8v23.8h-23.8zM1288.7,778.2h23.8v23.8h-23.8zM1289.7,813.3h23.8v23.8h-23.8zM1290.7,773.5h23.8v23.8h-23.8zM1291.6,781.3h23.8v23.8h-23.8zM1292.6,765.8h23.8v23.8h-23.8zM1293.6,776.0h23.8v23.8h-23.8zM1294.5,794.9h23.8v23.8h-23.8zM1295.5,797.4h23.8v23.8h-23.8zM1296.5,783.5h23.8v23.8h-23.8zM1297.4,791.0h23.8v23.8h-23.8zM1298.4,758.0h23.8v23.8h-23.8zM1299.4,838.5h23.8v23.8h-23.8zM1300.4,763.3h23.8v23.8h-23.8zM1301.3,801.5h23.8v23.8h-23.8zM1302.3,770.3h23.8v23.8h-23.8zM1303.3,789.3h23.8v23.8h-23.8zM1304.2,740.8h23.8v23.8h-23.8zM1305.2,772.7h23.8v23.8h-23.8zM1306.2,759.7h23.8v23.8h-23.8zM1307.2,797.2h23.8v23.8h-23.8zM1308.1,791.8h23.8v23.8h-23.8zM1309.1,767.3h23.8v23.8h-23.8zM1310.1,765.9h23.8v23.8h-23.8zM1311.0,799.6h23.8v23.8h-23.8zM1312.0,777.9h23.8v23.8h-23.8zM1313.0,804.1h23.8v23.8h-23.8zM1314.0,797.0h23.8v23.8h-23.8zM1314.9,778.8h23.8v23.8h-23.8zM1315.9,783.6h23.8v23.8h-23.8zM1316.9,745.4h23.8v23.8h-23.8zM1317.8,790.0h23.8v23.8h-23.8zM1318.8,785.0h23.8v23.8h-23.8zM1319.8,790.2h23.8v23.8h-23.8zM1320.8,826.7h23.8v23.8h-23.8zM1321.7,794.5h23.8v23.8h-23.8zM1322.7,791.7h23.8v23.8h-23.8zM1323.7,791.3h23.8v23.8h-23.8zM1324.6,781.2h23.8v23.8h-23.8zM1325.6,826.5h23.8v23.8h-23.8zM1326.6,791.1h23.8v23.8h-23.8zM1327.6,823.2h23.8v23.8h-23.8zM1328.5,809.6h23.8v23.8h-23.8zM1329.5,774.4h23.8v23.8h-23.8zM1330.5,798.0h23.8v23.8h-23.8zM1331.4,820.2h23.8v23.8h-23.8zM1332.4,784.2h23.8v23.8h-23.8zM1333.4,795.3h23.8v23.8h-23.8zM1334.3,788.0h23.8v23.8h-23.8zM1335.3,788.7h23.8v23.8h-23.8zM1336.3,812.7h23.8v23.8h-23.8zM1337.3,773.9h23.8v23.8h-23.8zM1338.2,786.1h23.8v23.8h-23.8zM1339.2,798.0h23.8v23.8h-23.8zM1340.2,809.9h23.8v23.8h-23.8zM1341.1,786.6h23.8v23.8h-23.8zM1342.1,796.8h23.8v23.8h-23.8zM1343.1,804.0h23.8v23.8h-23.8zM1344.1,778.8h23.8v23.8h-23.8zM1345.0,771.6h23.8v23.8h-23.8zM1346.0,816.1h23.8v23.8h-23.8zM1347.0,778.1h23.8v23.8h-23.8zM1347.9,805.9h23.8v23.8h-23.8zM1348.9,797.2h23.8v23.8h-23.8zM1349.9,777.0h23.8v23.8h-23.8zM1350.9,783.9h23.8v23.8h-23.8zM1351.8,776.4h23.8v23.8h-23.8zM1352.8,819.9h23.8v23.8h-23.8zM1353.8,800.5h23.8v23.8h-23.8zM1354.7,754.0h23.8v23.8h-23.8zM1355.7,841.5h23.8v23.8h-23.8zM1356.7,830.5h23.8v23.8h-23.8zM1357.7,827.6h23.8v23.8h-23.8zM1358.6,774.4h23.8v23.8h-23.8zM1359.6,784.7h23.8v23.8h-23.8zM1360.6,782.8h23.8v23.8h-23.8zM1361.5,833.0h23.8v23.8h-23.8zM1362.5,799.5h23.8v23.8h-23.8zM1363.5,804.6h23.8v23.8h-23.8zM1364.4,791.9h23.8v23.8h-23.8zM1365.4,764.0h23.8v23.8h-23.8zM1366.4,819.9h23.8v23.8h-23.8zM1367.4,853.0h23.8v23.8h-23.8zM1368.3,791.7h23.8v23.8h-23.8zM1369.3,776.7h23.8v23.8h-23.8zM1370.3,782.3h23.8v23.8h-23.8zM1371.2,783.4h23.8v23.8h-23.8zM1372.2,762.9h23.8v23.8h-23.8zM1373.2,786.4h23.8v23.8h-23.8zM1374.2,790.9h23.8v23.8h-23.8zM1375.1,762.4h23.8v23.8h-23.8zM1376.1,809.8h23.8v23.8h-23.8zM1377.1,788.6h23.8v23.8h-23.8zM1378.0,771.5h23.8v23.8h-23.8zM1379.0,800.7h23.8v23.8h-23.8zM1380.0,839.0h23.8v23.8h-23.8zM1381.0,834.4h23.8v23.8h-23.8zM1381.9,828.1h23.8v23.8h-23.8zM1382.9,828.2h23.8v23.8h-23.8zM1383.9,824.8h23.8v23.8h-23.8zM1384.8,819.0h23.8v23.8h-23.8zM1385.8,822.8h23.8v23.8h-23.8zM1386.8,851.0h23.8v23.8h-23.8zM1387.8,792.4h23.8v23.8h-23.8zM1388.7,822.1h23.8v23.8h-23.8zM1389.7,768.7h23.8v23.8h-23.8zM1390.7,818.5h23.8v23.8h-23.8zM1391.6,836.5h23.8v23.8h-23.8zM1392.6,794.3h23.8v23.8h-23.8zM1393.6,844.8h23.8v23.8h-23.8zM1394.6,779.9h23.8v23.8h-23.8zM1395.5,841.1h23.8v23.8h-23.8zM1396.5,797.2h23.8v23.8h-23.8zM1397.5,812.7h23.8v23.8h-23.8zM1398.4,794.3h23.8v23.8h-23.8zM1399.4,819.2h23.8v23.8h-23.8zM1400.4,799.8h23.8v23.8h-23.8zM1401.3,831.4h23.8v23.8h-23.8zM1402.3,804.6h23.8v23.8h-23.8zM1403.3,810.5h23.8v23.8h-23.8zM1404.3,798.2h23.8v23.8h-23.8zM1405.2,814.9h23.8v23.8h-23.8zM1406.2,793.2h23.8v23.8h-23.8zM1407.2,798.9h23.8v23.8h-23.8zM1408.1,771.1h23.8v23.8h-23.8zM1409.1,793.5h23.8v23.8h-23.8zM1410.1,795.4h23.8v23.8h-23.8zM1411.1,801.5h23.8v23.8h-23.8zM1412.0,806.5h23.8v23.8h-23.8zM1413.0,767.6h23.8v23.8h-23.8zM1414.0,825.0h23.8v23.8h-23.8zM1414.9,860.2h23.8v23.8h-23.8zM1415.9,806.5h23.8v23.8h-23.8zM1416.9,758.1h23.8v23.8h-23.8zM1417.9,825.4h23.8v23.8h-23.8zM1418.8,806.3h23.8v23.8h-23.8zM1419.8,801.3h23.8v23.8h-23.8zM1420.8,810.3h23.8v23.8h-23.8zM1421.7,807.0h23.8v23.8h-23.8zM1422.7,801.7h23.8v23.8h-23.8zM1423.7,820.7h23.8v23.8h-23.8zM1424.7,813.5h23.8v23.8h-23.8zM1425.6,799.7h23.8v23.8h-23.8zM1426.6,824.9h23.8v23.8h-23.8zM1427.6,838.7h23.8v23.8h-23.8zM1428.5,839.6h23.8v23.8h-23.8zM1429.5,784.1h23.8v23.8h-23.8zM1430.5,809.9h23.8v23.8h-23.8zM1431.5,823.8h23.8v23.8h-23.8zM1432.4,812.8h23.8v23.8h-23.8zM1433.4,806.1h23.8v23.8h-23.8zM1434.4,837.5h23.8v23.8h-23.8zM1435.3,817.8h23.8v23.8h-23.8zM1436.3,820.9h23.8v23.8h-23.8zM1437.3,773.1h23.8v23.8h-23.8zM1438.2,775.1h23.8v23.8h-23.8zM1439.2,797.8h23.8v23.8h-23.8zM1440.2,814.5h23.8v23.8h-23.8zM1441.2,832.8h23.8v23.8h-23.8zM1442.1,791.3h23.8v23.8h-23.8zM1443.1,849.2h23.8v23.8h-23.8zM1444.1,815.1h23.8v23.8h-23.8zM1445.0,799.4h23.8v23.8h-23.8zM1446.0,830.5h23.8v23.8h-23.8zM1447.0,846.2h23.8v23.8h-23.8zM1448.0,813.0h23.8v23.8h-23.8zM1448.9,812.5h23.8v23.8h-23.8zM1449.9,818.4h23.8v23.8h-23.8zM1450.9,830.6h23.8v23.8h-23.8zM1451.8,806.4h23.8v23.8h-23.8zM1452.8,811.0h23.8v23.8h-23.8zM1453.8,816.1h23.8v23.8h-23.8zM1454.8,808.5h23.8v23.8h-23.8zM1455.7,820.9h23.8v23.8h-23.8zM1456.7,795.1h23.8v23.8h-23.8zM1457.7,764.5h23.8v23.8h-23.8zM1458.6,799.5h23.8v23.8h-23.8zM1459.6,803.1h23.8v23.8h-23.8zM1460.6,858.2h23.8v23.8h-23.8zM1461.6,838.2h23.8v23.8h-23.8zM1462.5,821.9h23.8v23.8h-23.8zM1463.5,800.5h23.8v23.8h-23.8zM1464.5,783.8h23.8v23.8h-23.8zM1465.4,796.4h23.8v23.8h-23.8zM1466.4,824.6h23.8v23.8h-23.8zM1467.4,809.1h23.8v23.8h-23.8zM1468.4,787.3h23.8v23.8h-23.8zM1469.3,817.2h23.8v23.8h-23.8zM1470.3,796.2h23.8v23.8h-23.8zM1471.3,823.5h23.8v23.8h-23.8zM1472.2,859.0h23.8v23.8h-23.8zM1473.2,834.3h23.8v23.8h-23.8zM1474.2,752.5h23.8v23.8h-23.8zM1475.1,840.5h23.8v23.8h-23.8zM1476.1,800.4h23.8v23.8h-23.8zM1477.1,820.1h23.8v23.8h-23.8zM1478.1,821.8h23.8v23.8h-23.8zM1479.0,819.5h23.8v23.8h-23.8zM1480.0,770.3h23.8v23.8h-23.8zM1481.0,844.7h23.8v23.8h-23.8zM1481.9,790.8h23.8v23.8h-23.8zM1482.9,792.1h23.8v23.8h-23.8zM1483.9,820.1h23.8v23.8h-23.8zM1484.9,831.7h23.8v23.8h-23.8zM1485.8,800.7h23.8v23.8h-23.8zM1486.8,776.0h23.8v23.8h-23.8zM1487.8,825.2h23.8v23.8h-23.8zM1488.7,808.0h23.8v23.8h-23.8zM1489.7,835.9h23.8v23.8h-23.8zM1490.7,845.4h23.8v23.8h-23.8zM1491.7,785.2h23.8v23.8h-23.8zM1492.6,784.6h23.8v23.8h-23.8zM1493.6,811.7h23.8v23.8h-23.8zM1494.6,794.8h23.8v23.8h-23.8zM1495.5,857.3h23.8v23.8h-23.8zM1496.5,819.0h23.8v23.8h-23.8zM1497.5,819.4h23.8v23.8h-23.8zM1498.5,822.7h23.8v23.8h-23.8zM1499.4,853.2h23.8v23.8h-23.8zM1500.4,827.6h23.8v23.8h-23.8zM1501.4,837.5h23.8v23.8h-23.8zM1502.3,800.8h23.8v23.8h-23.8zM1503.3,836.1h23.8v23.8h-23.8zM1504.3,808.4h23.8v23.8h-23.8zM1505.3,804.5h23.8v23.8h-23.8zM1506.2,804.0h23.8v23.8h-23.8zM1507.2,847.2h23.8v23.8h-23.8zM1508.2,810.2h23.8v23.8h-23.8zM1509.1,828.0h23.8v23.8h-23.8zM1510.1,820.8h23.8v23.8h-23.8zM1511.1,830.9h23.8v23.8h-23.8zM1512.0,804.2h23.8v23.8h-23.8zM1513.0,786.1h23.8v23.8h-23.8zM1514.0,810.6h23.8v23.8h-23.8zM1515.0,821.1h23.8v23.8h-23.8zM1515.9,797.9h23.8v23.8h-23.8zM1516.9,818.0h23.8v23.8h-23.8zM1517.9,835.2h23.8v23.8h-23.8zM1518.8,769.9h23.8v23.8h-23.8zM1519.8,855.6h23.8v23.8h-23.8zM1520.8,843.7h23.8v23.8h-23.8zM1521.8,826.9h23.8v23.8h-23.8zM1522.7,848.5h23.8v23.8h-23.8zM1523.7,770.7h23.8v23.8h-23.8zM1524.7,824.3h23.8v23.8h-23.8zM1525.6,829.9h23.8v23.8h-23.8zM1526.6,832.5h23.8v23.8h-23.8zM1527.6,831.6h23.8v23.8h-23.8zM1528.6,865.6h23.8v23.8h-23.8zM1529.5,838.0h23.8v23.8h-23.8zM1530.5,806.1h23.8v23.8h-23.8zM1531.5,785.7h23.8v23.8h-23.8zM1532.4,797.7h23.8v23.8h-23.8zM1533.4,812.1h23.8v23.8h-23.8zM1534.4,826.7h23.8v23.8h-23.8zM1535.4,821.2h23.8v23.8h-23.8zM1536.3,827.7h23.8v23.8h-23.8zM1537.3,807.6h23.8v23.8h-23.8zM1538.3,811.9h23.8v23.8h-23.8zM1539.2,831.3h23.8v23.8h-23.8zM1540.2,816.1h23.8v23.8h-23.8zM1541.2,805.5h23.8v23.8h-23.8zM1542.2,810.6h23.8v23.8h-23.8zM1543.1,833.3h23.8v23.8h-23.8zM1544.1,809.1h23.8v23.8h-23.8zM1545.1,814.4h23.8v23.8h-23.8zM1546.0,866.6h23.8v23.8h-23.8zM1547.0,819.2h23.8v23.8h-23.8zM1548.0,827.2h23.8v23.8h-23.8zM1548.9,849.7h23.8v23.8h-23.8zM1549.9,865.0h23.8v23.8h-23.8zM1550.9,839.5h23.8v23.8h-23.8zM1551.9,791.2h23.8v23.8h-23.8zM1552.8,881.4h23.8v23.8h-23.8zM1553.8,800.7h23.8v23.8h-23.8zM1554.8,794.5h23.8v23.8h-23.8zM1555.7,803.1h23.8v23.8h-23.8zM1556.7,858.9h23.8v23.8h-23.8zM1557.7,822.1h23.8v23.8h-23.8zM1558.7,776.7h23.8v23.8h-23.8zM1559.6,869.4h23.8v23.8h-23.8zM1560.6,785.2h23.8v23.8h-23.8zM1561.6,869.6h23.8v23.8h-23.8zM1562.5,761.5h23.8v23.8h-23.8zM1563.5,820.7h23.8v23.8h-23.8zM1564.5,824.6h23.8v23.8h-23.8zM1565.5,809.5h23.8v23.8h-23.8zM1566.4,822.4h23.8v23.8h-23.8zM1567.4,850.7h23.8v23.8h-23.8zM1568.4,829.3h23.8v23.8h-23.8zM1569.3,842.3h23.8v23.8h-23.8zM1570.3,827.8h23.8v23.8h-23.8zM1571.3,829.6h23.8v23.8h-23.8zM1572.3,810.9h23.8v23.8h-23.8zM1573.2,823.7h23.8v23.8h-23.8zM1574.2,847.5h23.8v23.8h-23.8zM1575.2,852.6h23.8v23.8h-23.8zM1576.1,797.0h23.8v23.8h-23.8zM1577.1,810.4h23.8v23.8h-23.8zM1578.1,830.1h23.8v23.8h-23.8zM1579.0,822.8h23.8v23.8h-23.8zM1580.0,806.2h23.8v23.8h-23.8zM1581.0,775.7h23.8v23.8h-23.8zM1582.0,833.2h23.8v23.8h-23.8zM1582.9,809.3h23.8v23.8h-23.8zM1583.9,877.0h23.8v23.8h-23.8zM1584.9,855.5h23.8v23.8h-23.8zM1585.8,837.4h23.8v23.8h-23.8zM1586.8,794.8h23.8v23.8h-23.8zM1587.8,809.3h23.8v23.8h-23.8zM1588.8,854.6h23.8v23.8h-23.8zM1589.7,808.1h23.8v23.8h-23.8zM1590.7,821.4h23.8v23.8h-23.8zM1591.7,838.4h23.8v23.8h-23.8zM1592.6,842.7h23.8v23.8h-23.8zM1593.6,819.1h23.8v23.8h-23.8zM1594.6,840.6h23.8v23.8h-23.8zM1595.6,787.1h23.8v23.8h-23.8zM1596.5,828.1h23.8v23.8h-23.8zM1597.5,825.3h23.8v23.8h-23.8zM1598.5,869.7h23.8v23.8h-23.8zM1599.4,839.0h23.8v23.8h-23.8zM1600.4,773.6h23.8v23.8h-23.8zM1601.4,866.7h23.8v23.8h-23.8zM1602.4,831.6h23.8v23.8h-23.8zM1603.3,843.0h23.8v23.8h-23.8zM1604.3,846.4h23.8v23.8h-23.8zM1605.3,868.6h23.8v23.8h-23.8zM1606.2,829.2h23.8v23.8h-23.8zM1607.2,828.4h23.8v23.8h-23.8zM1608.2,835.8h23.8v23.8h-23.8zM1609.2,855.4h23.8v23.8h-23.8zM1610.1,815.9h23.8v23.8h-23.8zM1611.1,846.4h23.8v23.8h-23.8zM1612.1,844.8h23.8v23.8h-23.8zM1613.0,792.3h23.8v23.8h-23.8zM1614.0,824.0h23.8v23.8h-23.8zM1615.0,816.3h23.8v23.8h-23.8zM1615.9,812.4h23.8v23.8h-23.8zM1616.9,853.3h23.8v23.8h-23.8zM1617.9,808.5h23.8v23.8h-23.8zM1618.9,824.9h23.8v23.8h-23.8zM1619.8,846.3h23.8v23.8h-23.8zM1620.8,807.7h23.8v23.8h-23.8zM1621.8,829.9h23.8v23.8h-23.8zM1622.7,805.9h23.8v23.8h-23.8zM1623.7,829.8h23.8v23.8h-23.8zM1624.7,827.6h23.8v23.8h-23.8zM1625.7,846.1h23.8v23.8h-23.8zM1626.6,819.2h23.8v23.8h-23.8zM1627.6,823.5h23.8v23.8h-23.8zM1628.6,791.0h23.8v23.8h-23.8zM1629.5,814.9h23.8v23.8h-23.8zM1630.5,805.1h23.8v23.8h-23.8zM1631.5,798.7h23.8v23.8h-23.8zM1632.5,821.8h23.8v23.8h-23.8zM1633.4,830.7h23.8v23.8h-23.8zM1634.4,829.4h23.8v23.8h-23.8zM1635.4,858.5h23.8v23.8h-23.8zM1636.3,817.8h23.8v23.8h-23.8zM1637.3,813.3h23.8v23.8h-23.8zM1638.3,778.8h23.8v23.8h-23.8zM1639.3,859.7h23.8v23.8h-23.8zM1640.2,849.5h23.8v23.8h-23.8zM1641.2,848.1h23.8v23.8h-23.8zM1642.2,813.5h23.8v23.8h-23.8zM1643.1,817.6h23.8v23.8h-23.8zM1644.1,818.7h23.8v23.8h-23.8zM1645.1,800.7h23.8v23.8h-23.8zM1646.1,842.2h23.8v23.8h-23.8zM1647.0,830.6h23.8v23.8h-23.8zM1648.0,863.4h23.8v23.8h-23.8zM1649.0,838.0h23.8v23.8h-23.8zM1649.9,828.4h23.8v23.8h-23.8zM1650.9,850.0h23.8v23.8h-23.8zM1651.9,851.4h23.8v23.8h-23.8zM1652.8,807.2h23.8v23.8h-23.8zM1653.8,794.2h23.8v23.8h-23.8zM1654.8,805.3h23.8v23.8h-23.8zM1655.8,857.0h23.8v23.8h-23.8zM1656.7,850.1h23.8v23.8h-23.8zM1657.7,867.8h23.8v23.8h-23.8zM1658.7,836.5h23.8v23.8h-23.8zM1659.6,844.4h23.8v23.8h-23.8zM1660.6,825.4h23.8v23.8h-23.8zM1661.6,883.7h23.8v23.8h-23.8zM1662.6,852.5h23.8v23.8h-23.8zM1663.5,873.8h23.8v23.8h-23.8zM1664.5,847.8h23.8v23.8h-23.8zM1665.5,817.1h23.8v23.8h-23.8zM1666.4,860.6h23.8v23.8h-23.8zM1667.4,798.7h23.8v23.8h-23.8zM1668.4,856.1h23.8v23.8h-23.8zM1669.4,833.4h23.8v23.8h-23.8zM1670.3,846.4h23.8v23.8h-23.8zM1671.3,807.1h23.8v23.8h-23.8zM1672.3,838.6h23.8v23.8h-23.8zM1673.2,821.3h23.8v23.8h-23.8zM1674.2,816.0h23.8v23.8h-23.8zM1675.2,871.6h23.8v23.8h-23.8zM1676.2,849.9h23.8v23.8h-23.8zM1677.1,828.1h23.8v23.8h-23.8zM1678.1,821.2h23.8v23.8h-23.8zM1679.1,828.2h23.8v23.8h-23.8zM1680.0,841.7h23.8v23.8h-23.8zM1681.0,845.8h23.8v23.8h-23.8zM1682.0,840.1h23.8v23.8h-23.8zM1683.0,795.6h23.8v23.8h-23.8zM1683.9,838.5h23.8v23.8h-23.8zM1684.9,844.1h23.8v23.8h-23.8zM1685.9,856.5h23.8v23.8h-23.8zM1686.8,837.6h23.8v23.8h-23.8zM1687.8,834.6h23.8v23.8h-23.8zM1688.8,840.3h23.8v23.8h-23.8zM1689.7,825.5h23.8v23.8h-23.8zM1690.7,889.7h23.8v23.8h-23.8zM1691.7,820.3h23.8v23.8h-23.8zM1692.7,815.2h23.8v23.8h-23.8zM1693.6,845.9h23.8v23.8h-23.8zM1694.6,845.6h23.8v23.8h-23.8zM1695.6,855.0h23.8v23.8h-23.8zM1696.5,835.1h23.8v23.8h-23.8zM1697.5,825.7h23.8v23.8h-23.8zM1698.5,818.1h23.8v23.8h-23.8zM1699.5,839.8h23.8v23.8h-23.8zM1700.4,846.4h23.8v23.8h-23.8zM1701.4,838.8h23.8v23.8h-23.8zM1702.4,810.0h23.8v23.8h-23.8zM1703.3,808.1h23.8v23.8h-23.8zM1704.3,867.2h23.8v23.8h-23.8zM1705.3,841.0h23.8v23.8h-23.8zM1706.3,836.1h23.8v23.8h-23.8zM1707.2,884.4h23.8v23.8h-23.8zM1708.2,863.2h23.8v23.8h-23.8zM1709.2,808.4h23.8v23.8h-23.8zM1710.1,833.5h23.8v23.8h-23.8zM1711.1,864.6h23.8v23.8h-23.8zM1712.1,856.6h23.8v23.8h-23.8zM1713.1,848.9h23.8v23.8h-23.8zM1714.0,880.4h23.8v23.8h-23.8zM1715.0,809.1h23.8v23.8h-23.8zM1716.0,862.1h23.8v23.8h-23.8zM1716.9,829.6h23.8v23.8h-23.8zM1717.9,872.2h23.8v23.8h-23.8zM1718.9,841.4h23.8v23.8h-23.8zM1719.9,803.5h23.8v23.8h-23.8zM1720.8,849.2h23.8v23.8h-23.8zM1721.8,781.7h23.8v23.8h-23.8zM1722.8,870.4h23.8v23.8h-23.8zM1723.7,851.7h23.8v23.8h-23.8zM1724.7,872.9h23.8v23.8h-23.8zM1725.7,851.4h23.8v23.8h-23.8zM1726.6,848.9h23.8v23.8h-23.8zM1727.6,880.2h23.8v23.8h-23.8zM1728.6,864.5h23.8v23.8h-23.8zM1729.6,809.3h23.8v23.8h-23.8zM1730.5,832.2h23.8v23.8h-23.8zM1731.5,881.6h23.8v23.8h-23.8zM1732.5,816.0h23.8v23.8h-23.8zM1733.4,814.0h23.8v23.8h-23.8zM1734.4,824.5h23.8v23.8h-23.8zM1735.4,808.2h23.8v23.8h-23.8zM1736.4,847.8h23.8v23.8h-23.8zM1737.3,839.5h23.8v23.8h-23.8zM1738.3,869.1h23.8v23.8h-23.8zM1739.3,837.5h23.8v23.8h-23.8zM1740.2,883.9h23.8v23.8h-23.8zM1741.2,837.6h23.8v23.8h-23.8zM1742.2,867.0h23.8v23.8h-23.8zM1743.2,873.9h23.8v23.8h-23.8zM1744.1,854.3h23.8v23.8h-23.8zM1745.1,840.3h23.8v23.8h-23.8zM1746.1,812.3h23.8v23.8h-23.8zM1747.0,818.3h23.8v23.8h-23.8zM1748.0,858.7h23.8v23.8h-23.8zM1749.0,835.7h23.8v23.8h-23.8zM1750.0,860.2h23.8v23.8h-23.8zM1750.9,828.4h23.8v23.8h-23.8zM1751.9,845.6h23.8v23.8h-23.8zM1752.9,847.3h23.8v23.8h-23.8zM1753.8,863.7h23.8v23.8h-23.8zM1754.8,837.2h23.8v23.8h-23.8zM1755.8,863.6h23.8v23.8h-23.8zM1756.8,805.6h23.8v23.8h-23.8zM1757.7,814.6h23.8v23.8h-23.8zM1758.7,848.6h23.8v23.8h-23.8zM1759.7,842.5h23.8v23.8h-23.8zM1760.6,858.0h23.8v23.8h-23.8zM1761.6,806.8h23.8v23.8h-23.8zM1762.6,853.7h23.8v23.8h-23.8zM284.1,393.1h23.8v23.8h-23.8zM281.6,436.6h23.8v23.8h-23.8zM279.5,466.8h23.8v23.8h-23.8zM277.9,523.9h23.8v23.8h-23.8zM276.5,579.6h23.8v23.8h-23.8zM275.4,627.0h23.8v23.8h-23.8zM272.5,705.6h23.8v23.8h-23.8zM272.7,725.1h23.8v23.8h-23.8zM270.1,763.1h23.8v23.8h-23.8zM241.1,911.1h23.8v23.8h-23.8zM1583.6,915.6h23.8v23.8h-23.8zM1753.1,905.6h23.8v23.8h-23.8z"/>
<path fill="#ff0080" d="M144.8,358.7h23.8v23.8h-23.8zM145.8,360.9h23.8v23.8h-23.8zM146.8,360.6h23.8v23.8h-23.8zM147.7,366.6h23.8v23.8h-23.8zM148.7,363.7h23.8v23.8h-23.8zM149.7,365.8h23.8v23.8h-23.8zM150.6,370.0h23.8v23.8h-23.8zM151.6,370.1h23.8v23.8h-23.8zM152.6,370.5h23.8v23.8h-23.8zM153.6,360.0h23.8v23.8h-23.8zM154.5,360.7h23.8v23.8h-23.8zM155.5,360.4h23.8v23.8h-23.8zM156.5,363.1h23.8v23.8h-23.8zM157.4,364.8h23.8v23.8h-23.8zM158.4,354.1h23.8v23.8h-23.8zM159.4,358.5h23.8v23.8h-23.8zM160.4,366.9h23.8v23.8h-23.8zM161.3,354.4h23.8v23.8h-23.8zM162.3,364.1h23.8v23.8h-23.8zM163.3,367.6h23.8v23.8h-23.8zM164.2,359.4h23.8v23.8h-23.8zM165.2,358.6h23.8v23.8h-23.8zM166.2,360.7h23.8v23.8h-23.8zM167.2,368.9h23.8v23.8h-23.8zM168.1,364.3h23.8v23.8h-23.8zM169.1,354.3h23.8v23.8h-23.8zM170.1,362.6h23.8v23.8h-23.8zM171.0,371.0h23.8v23.8h-23.8zM172.0,370.8h23.8v23.8h-23.8zM173.0,368.8h23.8v23.8h-23.8zM174.0,363.7h23.8v23.8h-23.8zM174.9,354.4h23.8v23.8h-23.8zM175.9,366.1h23.8v23.8h-23.8zM176.9,363.1h23.8v23.8h-23.8zM177.8,365.5h23.8v23.8h-23.8zM178.8,374.0h23.8v23.8h-23.8zM179.8,366.2h23.8v23.8h-23.8zM180.8,366.7h23.8v23.8h-23.8zM181.7,368.6h23.8v23.8h-23.8zM182.7,363.6h23.8v23.8h-23.8zM183.7,361.2h23.8v23.8h-23.8zM184.6,360.8h23.8v23.8h-23.8zM185.6,369.5h23.8v23.8h-23.8zM186.6,368.0h23.8v23.8h-23.8zM187.5,362.3h23.8v23.8h-23.8zM188.5,371.8h23.8v23.8h-23.8zM189.5,366.2h23.8v23.8h-23.8zM190.5,357.3h23.8v23.8h-23.8zM191.4,368.6h23.8v23.8h-23.8zM192.4,364.3h23.8v23.8h-23.8zM193.4,350.0h23.8v23.8h-23.8zM194.3,368.1h23.8v23.8h-23.8zM195.3,363.1h23.8v23.8h-23.8zM196.3,362.8h23.8v23.8h-23.8zM197.3,368.5h23.8v23.8h-23.8zM198.2,352.4h23.8v23.8h-23.8zM199.2,357.7h23.8v23.8h-23.8zM200.2,362.6h23.8v23.8h-23.8zM201.1,366.5h23.8v23.8h-23.8zM202.1,357.6h23.8v23.8h-23.8zM203.1,353.8h23.8v23.8h-23.8zM204.1,359.0h23.8v23.8h-23.8zM205.0,364.4h23.8v23.8h-23.8zM206.0,369.0h23.8v23.8h-23.8zM207.0,356.7h23.8v23.8h-23.8zM207.9,341.5h23.8v23.8h-23.8zM208.9,363.4h23.8v23.8h-23.8zM209.9,362.9h23.8v23.8h-23.8zM210.9,359.8h23.8v23.8h-23.8zM211.8,368.6h23.8v23.8h-23.8zM212.8,369.8h23.8v23.8h-23.8zM213.8,361.8h23.8v23.8h-23.8zM214.7,363.1h23.8v23.8h-23.8zM215.7,368.4h23.8v23.8h-23.8zM216.7,362.6h23.8v23.8h-23.8zM217.7,357.0h23.8v23.8h-23.8zM218.6,364.7h23.8v23.8h-23.8zM219.6,359.9h23.8v23.8h-23.8zM220.6,367.0h23.8v23.8h-23.8zM221.5,362.2h23.8v23.8h-23.8zM222.5,364.0h23.8v23.8h-23.8zM223.5,368.1h23.8v23.8h-23.8zM224.4,364.5h23.8v23.8h-23.8zM225.4,361.8h23.8v23.8h-23.8zM226.4,359.9h23.8v23.8h-23.8zM227.4,376.1h23.8v23.8h-23.8zM228.3,373.1h23.8v23.8h-23.8zM229.3,358.5h23.8v23.8h-23.8zM230.3,361.6h23.8v23.8h-23.8zM231.2,371.7h23.8v23.8h-23.8zM232.2,365.5h23.8v23.8h-23.8zM233.2,369.6h23.8v23.8h-23.8zM234.2,374.9h23.8v23.8h-23.8zM235.1,371.5h23.8v23.8h-23.8zM236.1,370.5h23.8v23.8h-23.8zM237.1,368.9h23.8v23.8h-23.8zM238.0,371.6h23.8v23.8h-23.8zM239.0,374.7h23.8v23.8h-23.8zM240.0,392.5h23.8v23.8h-23.8zM241.0,379.3h23.8v23.8h-23.8zM241.9,371.3h23.8v23.8h-23.8zM242.9,379.2h23.8v23.8h-23.8zM243.9,374.9h23.8v23.8h-23.8zM244.8,366.0h23.8v23.8h-23.8zM245.8,374.3h23.8v23.8h-23.8zM246.8,381.0h23.8v23.8h-23.8zM247.8,372.1h23.8v23.8h-23.8zM248.7,381.3h23.8v23.8h-23.8zM249.7,374.4h23.8v23.8h-23.8zM250.7,376.6h23.8v23.8h-23.8zM251.6,363.1h23.8v23.8h-23.8zM252.6,388.8h23.8v23.8h-23.8zM253.6,379.6h23.8v23.8h-23.8zM254.6,382.9h23.8v23.8h-23.8zM255.5,374.5h23.8v23.8h-23.8zM256.5,368.8h23.8v23.8h-23.8zM257.5,389.7h23.8v23.8h-23.8zM258.4,373.5h23.8v23.8h-23.8zM259.4,384.8h23.8v23.8h-23.8zM260.4,376.4h23.8v23.8h-23.8zM261.3,383.6h23.8v23.8h-23.8zM262.3,374.4h23.8v23.8h-23.8zM263.3,371.2h23.8v23.8h-23.8zM264.3,381.3h23.8v23.8h-23.8zM265.2,376.7h23.8v23.8h-23.8zM266.2,375.4h23.8v23.8h-23.8zM267.2,374.6h23.8v23.8h-23.8zM268.1,364.0h23.8v23.8h-23.8zM269.1,356.5h23.8v23.8h-23.8zM270.1,350.1h23.8v23.8h-23.8zM271.1,342.0h23.8v23.8h-23.8zM272.0,331.0h23.8v23.8h-23.8zM273.0,331.6h23.8v23.8h-23.8zM274.0,326.8h23.8v23.8h-23.8zM274.9,322.5h23.8v23.8h-23.8zM275.9,314.7h23.8v23.8h-23.8zM276.9,311.6h23.8v23.8h-23.8zM277.9,308.0h23.8v23.8h-23.8zM278.8,299.5h23.8v23.8h-23.8zM279.8,295.2h23.8v23.8h-23.8zM280.8,285.7h23.8v23.8h-23.8zM281.7,282.9h23.8v23.8h-23.8zM282.7,278.3h23.8v23.8h-23.8zM283.7,268.6h23.8v23.8h-23.8zM284.7,260.5h23.8v23.8h-23.8zM285.6,257.8h23.8v23.8h-23.8zM286.6,251.9h23.8v23.8h-23.8zM287.6,249.1h23.8v23.8h-23.8zM288.5,237.1h23.8v23.8h-23.8zM289.5,237.8h23.8v23.8h-23.8zM290.5,220.6h23.8v23.8h-23.8zM291.5,223.4h23.8v23.8h-23.8zM292.4,218.7h23.8v23.8h-23.8zM293.4,215.2h23.8v23.8h-23.8zM294.4,211.8h23.8v23.8h-23.8zM295.3,211.2h23.8v23.8h-23.8zM296.3,214.1h23.8v23.8h-23.8zM297.3,208.7h23.8v23.8h-23.8zM298.2,211.1h23.8v23.8h-23.8zM299.2,207.5h23.8v23.8h-23.8zM300.2,207.9h23.8v23.8h-23.8zM301.2,212.2h23.8v23.8h-23.8zM302.1,207.8h23.8v23.8h-23.8zM303.1,209.3h23.8v23.8h-23.8zM304.1,204.5h23.8v23.8h-23.8zM305.0,206.0h23.8v23.8h-23.8zM306.0,205.3h23.8v23.8h-23.8zM307.0,214.3h23.8v23.8h-23.8zM308.0,204.9h23.8v23.8h-23.8zM308.9,205.9h23.8v23.8h-23.8zM309.9,213.9h23.8v23.8h-23.8zM310.9,204.1h23.8v23.8h-23.8zM311.8,210.8h23.8v23.8h-23.8zM312.8,206.6h23.8v23.8h-23.8zM313.8,210.9h23.8v23.8h-23.8zM314.8,211.6h23.8v23.8h-23.8zM315.7,213.3h23.8v23.8h-23.8zM316.7,214.3h23.8v23.8h-23.8zM317.7,215.0h23.8v23.8h-23.8zM318.6,211.9h23.8v23.8h-23.8zM319.6,215.5h23.8v23.8h-23.8zM320.6,210.2h23.8v23.8h-23.8zM321.6,216.7h23.8v23.8h-23.8zM322.5,211.0h23.8v23.8h-23.8zM323.5,213.6h23.8v23.8h-23.8zM324.5,210.8h23.8v23.8h-23.8zM325.4,217.3h23.8v23.8h-23.8zM326.4,215.5h23.8v23.8h-23.8zM327.4,213.8h23.8v23.8h-23.8zM328.4,210.6h23.8v23.8h-23.8zM329.3,220.0h23.8v23.8h-23.8zM330.3,221.3h23.8v23.8h-23.8zM331.3,221.8h23.8v23.8h-23.8zM332.2,218.8h23.8v23.8h-23.8zM333.2,223.6h23.8v23.8h-23.8zM334.2,223.1h23.8v23.8h-23.8zM335.1,222.1h23.8v23.8h-23.8zM336.1,225.8h23.8v23.8h-23.8zM337.1,220.5h23.8v23.8h-23.8zM338.1,222.2h23.8v23.8h-23.8zM339.0,216.2h23.8v23.8h-23.8zM340.0,229.1h23.8v23.8h-23.8zM341.0,219.2h23.8v23.8h-23.8zM341.9,223.1h23.8v23.8h-23.8zM342.9,224.4h23.8v23.8h-23.8zM343.9,216.1h23.8v23.8h-23.8zM344.9,222.2h23.8v23.8h-23.8zM345.8,225.0h23.8v23.8h-23.8zM346.8,222.3h23.8v23.8h-23.8zM347.8,221.7h23.8v23.8h-23.8zM348.7,221.8h23.8v23.8h-23.8zM349.7,220.5h23.8v23.8h-23.8zM350.7,222.6h23.8v23.8h-23.8zM351.7,224.6h23.8v23.8h-23.8zM352.6,226.2h23.8v23.8h-23.8zM353.6,227.5h23.8v23.8h-23.8zM354.6,223.9h23.8v23.8h-23.8zM355.5,222.0h23.8v23.8h-23.8zM356.5,227.0h23.8v23.8h-23.8zM357.5,225.4h23.8v23.8h-23.8zM358.5,227.8h23.8v23.8h-23.8zM359.4,225.0h23.8v23.8h-23.8zM360.4,226.4h23.8v23.8h-23.8zM361.4,227.0h23.8v23.8h-23.8zM362.3,227.4h23.8v23.8h-23.8zM363.3,217.7h23.8v23.8h-23.8zM364.3,224.6h23.8v23.8h-23.8zM365.2,225.8h23.8v23.8h-23.8zM366.2,231.4h23.8v23.8h-23.8zM367.2,225.1h23.8v23.8h-23.8zM368.2,227.2h23.8v23.8h-23.8zM369.1,225.0h23.8v23.8h-23.8zM370.1,218.4h23.8v23.8h-23.8zM371.1,230.3h23.8v23.8h-23.8zM372.0,230.4h23.8v23.8h-23.8zM373.0,230.6h23.8v23.8h-23.8zM374.0,221.4h23.8v23.8h-23.8zM375.0,227.4h23.8v23.8h-23.8zM375.9,227.1h23.8v23.8h-23.8zM376.9,215.3h23.8v23.8h-23.8zM377.9,228.4h23.8v23.8h-23.8zM378.8,222.3h23.8v23.8h-23.8zM379.8,228.7h23.8v23.8h-23.8zM380.8,221.2h23.8v23.8h-23.8zM381.8,224.1h23.8v23.8h-23.8zM382.7,224.8h23.8v23.8h-23.8zM383.7,222.0h23.8v23.8h-23.8zM384.7,227.8h23.8v23.8h-23.8zM385.6,232.4h23.8v23.8h-23.8zM386.6,227.8h23.8v23.8h-23.8zM387.6,230.2h23.8v23.8h-23.8zM388.6,233.3h23.8v23.8h-23.8zM389.5,230.2h23.8v23.8h-23.8zM390.5,227.0h23.8v23.8h-23.8zM391.5,221.6h23.8v23.8h-23.8zM392.4,229.8h23.8v23.8h-23.8zM393.4,227.5h23.8v23.8h-23.8zM394.4,227.2h23.8v23.8h-23.8zM395.4,231.5h23.8v23.8h-23.8zM396.3,231.0h23.8v23.8h-23.8zM397.3,223.5h23.8v23.8h-23.8zM398.3,230.7h23.8v23.8h-23.8zM399.2,228.3h23.8v23.8h-23.8zM400.2,232.6h23.8v23.8h-23.8zM401.2,229.6h23.8v23.8h-23.8zM402.1,233.1h23.8v23.8h-23.8zM403.1,225.0h23.8v23.8h-23.8zM404.1,228.6h23.8v23.8h-23.8zM405.1,228.2h23.8v23.8h-23.8zM406.0,229.6h23.8v23.8h-23.8zM407.0,229.5h23.8v23.8h-23.8zM408.0,234.8h23.8v23.8h-23.8zM408.9,227.1h23.8v23.8h-23.8zM409.9,231.1h23.8v23.8h-23.8zM410.9,226.7h23.8v23.8h-23.8zM411.9,220.5h23.8v23.8h-23.8zM412.8,226.6h23.8v23.8h-23.8zM413.8,225.8h23.8v23.8h-23.8zM414.8,232.0h23.8v23.8h-23.8zM415.7,228.8h23.8v23.8h-23.8zM416.7,229.7h23.8v23.8h-23.8zM417.7,233.3h23.8v23.8h-23.8zM418.7,237.4h23.8v23.8h-23.8zM419.6,230.0h23.8v23.8h-23.8zM420.6,225.0h23.8v23.8h-23.8zM421.6,230.8h23.8v23.8h-23.8zM422.5,232.3h23.8v23.8h-23.8zM423.5,236.6h23.8v23.8h-23.8zM424.5,232.4h23.8v23.8h-23.8zM425.5,229.5h23.8v23.8h-23.8zM426.4,236.2h23.8v23.8h-23.8zM427.4,236.9h23.8v23.8h-23.8zM428.4,232.4h23.8v23.8h-23.8zM429.3,234.3h23.8v23.8h-23.8zM430.3,235.7h23.8v23.8h-23.8zM431.3,225.7h23.8v23.8h-23.8zM432.3,231.5h23.8v23.8h-23.8zM433.2,232.3h23.8v23.8h-23.8zM434.2,233.5h23.8v23.8h-23.8zM435.2,236.6h23.8v23.8h-23.8zM436.1,233.1h23.8v23.8h-23.8zM437.1,236.1h23.8v23.8h-23.8zM438.1,237.6h23.8v23.8h-23.8zM439.0,241.7h23.8v23.8h-23.8zM440.0,233.4h23.8v23.8h-23.8zM441.0,233.6h23.8v23.8h-23.8zM442.0,233.7h23.8v23.8h-23.8zM442.9,228.3h23.8v23.8h-23.8zM443.9,230.9h23.8v23.8h-23.8zM444.9,235.8h23.8v23.8h-23.8zM445.8,235.9h23.8v23.8h-23.8zM446.8,236.7h23.8v23.8h-23.8zM447.8,240.1h23.8v23.8h-23.8zM448.8,238.6h23.8v23.8h-23.8zM449.7,241.2h23.8v23.8h-23.8zM450.7,233.7h23.8v23.8h-23.8zM451.7,234.1h23.8v23.8h-23.8zM452.6,233.5h23.8v23.8h-23.8zM453.6,235.8h23.8v23.8h-23.8zM454.6,244.3h23.8v23.8h-23.8zM455.6,234.6h23.8v23.8h-23.8zM456.5,234.4h23.8v23.8h-23.8zM457.5,237.0h23.8v23.8h-23.8zM458.5,240.0h23.8v23.8h-23.8zM459.4,238.8h23.8v23.8h-23.8zM460.4,240.3h23.8v23.8h-23.8zM461.4,233.0h23.8v23.8h-23.8zM462.4,231.2h23.8v23.8h-23.8zM463.3,236.8h23.8v23.8h-23.8zM464.3,238.1h23.8v23.8h-23.8zM465.3,242.8h23.8v23.8h-23.8zM466.2,233.4h23.8v23.8h-23.8zM467.2,240.4h23.8v23.8h-23.8zM468.2,237.4h23.8v23.8h-23.8zM469.2,240.6h23.8v23.8h-23.8zM470.1,236.1h23.8v23.8h-23.8zM471.1,228.6h23.8v23.8h-23.8zM472.1,243.0h23.8v23.8h-23.8zM473.0,239.9h23.8v23.8h-23.8zM474.0,231.9h23.8v23.8h-23.8zM475.0,241.6h23.8v23.8h-23.8zM475.9,235.5h23.8v23.8h-23.8zM476.9,238.9h23.8v23.8h-23.8zM477.9,239.4h23.8v23.8h-23.8zM478.9,229.9h23.8v23.8h-23.8zM479.8,243.7h23.8v23.8h-23.8zM480.8,237.9h23.8v23.8h-23.8zM481.8,245.8h23.8v23.8h-23.8zM482.7,241.8h23.8v23.8h-23.8zM483.7,242.0h23.8v23.8h-23.8zM484.7,241.3h23.8v23.8h-23.8zM485.7,254.4h23.8v23.8h-23.8zM486.6,236.8h23.8v23.8h-23.8zM487.6,237.8h23.8v23.8h-23.8zM488.6,238.3h23.8v23.8h-23.8zM489.5,249.0h23.8v23.8h-23.8zM490.5,244.8h23.8v23.8h-23.8zM491.5,241.4h23.8v23.8h-23.8zM492.5,242.2h23.8v23.8h-23.8zM493.4,235.4h23.8v23.8h-23.8zM494.4,246.9h23.8v23.8h-23.8zM495.4,240.8h23.8v23.8h-23.8zM496.3,242.2h23.8v23.8h-23.8zM497.3,240.8h23.8v23.8h-23.8zM498.3,244.4h23.8v23.8h-23.8zM499.3,241.3h23.8v23.8h-23.8zM500.2,242.7h23.8v23.8h-23.8zM501.2,243.0h23.8v23.8h-23.8zM502.2,238.8h23.8v23.8h-23.8zM503.1,240.4h23.8v23.8h-23.8zM504.1,244.2h23.8v23.8h-23.8zM505.1,244.2h23.8v23.8h-23.8zM506.1,245.7h23.8v23.8h-23.8zM507.0,248.4h23.8v23.8h-23.8zM508.0,238.7h23.8v23.8h-23.8zM509.0,236.6h23.8v23.8h-23.8zM509.9,242.0h23.8v23.8h-23.8zM510.9,248.2h23.8v23.8h-23.8zM511.9,243.5h23.8v23.8h-23.8zM512.8,237.1h23.8v23.8h-23.8zM513.8,249.8h23.8v23.8h-23.8zM514.8,245.9h23.8v23.8h-23.8zM515.8,233.4h23.8v23.8h-23.8zM516.7,241.2h23.8v23.8h-23.8zM517.7,244.8h23.8v23.8h-23.8zM518.7,242.5h23.8v23.8h-23.8zM519.6,244.2h23.8v23.8h-23.8zM520.6,246.7h23.8v23.8h-23.8zM521.6,244.9h23.8v23.8h-23.8zM522.6,250.1h23.8v23.8h-23.8zM523.5,244.4h23.8v23.8h-23.8zM524.5,250.7h23.8v23.8h-23.8zM525.5,243.2h23.8v23.8h-23.8zM526.4,237.1h23.8v23.8h-23.8zM527.4,237.9h23.8v23.8h-23.8zM528.4,242.5h23.8v23.8h-23.8zM529.4,246.5h23.8v23.8h-23.8zM530.3,249.5h23.8v23.8h-23.8zM531.3,246.6h23.8v23.8h-23.8zM532.3,245.9h23.8v23.8h-23.8zM533.2,239.3h23.8v23.8h-23.8zM534.2,249.1h23.8v23.8h-23.8zM535.2,244.7h23.8v23.8h-23.8zM536.2,247.8h23.8v23.8h-23.8zM537.1,253.5h23.8v23.8h-23.8zM538.1,247.3h23.8v23.8h-23.8zM539.1,246.4h23.8v23.8h-23.8zM540.0,250.8h23.8v23.8h-23.8zM541.0,248.4h23.8v23.8h-23.8zM542.0,245.9h23.8v23.8h-23.8zM543.0,241.6h23.8v23.8h-23.8zM543.9,246.3h23.8v23.8h-23.8zM544.9,241.6h23.8v23.8h-23.8zM545.9,248.6h23.8v23.8h-23.8zM546.8,250.1h23.8v23.8h-23.8zM547.8,248.3h23.8v23.8h-23.8zM548.8,255.0h23.8v23.8h-23.8zM549.7,244.1h23.8v23.8h-23.8zM550.7,250.0h23.8v23.8h-23.8zM551.7,248.7h23.8v23.8h-23.8zM552.7,244.4h23.8v23.8h-23.8zM553.6,250.7h23.8v23.8h-23.8zM554.6,252.0h23.8v23.8h-23.8zM555.6,253.2h23.8v23.8h-23.8zM556.5,248.6h23.8v23.8h-23.8zM557.5,251.6h23.8v23.8h-23.8zM558.5,247.0h23.8v23.8h-23.8zM559.5,255.0h23.8v23.8h-23.8zM560.4,256.3h23.8v23.8h-23.8zM561.4,250.4h23.8v23.8h-23.8zM562.4,250.8h23.8v23.8h-23.8zM563.3,246.1h23.8v23.8h-23.8zM564.3,250.3h23.8v23.8h-23.8zM565.3,247.6h23.8v23.8h-23.8zM566.3,251.3h23.8v23.8h-23.8zM567.2,245.4h23.8v23.8h-23.8zM568.2,263.5h23.8v23.8h-23.8zM569.2,251.5h23.8v23.8h-23.8zM570.1,254.9h23.8v23.8h-23.8zM571.1,252.9h23.8v23.8h-23.8zM572.1,250.1h23.8v23.8h-23.8zM573.1,258.4h23.8v23.8h-23.8zM574.0,255.5h23.8v23.8h-23.8zM575.0,246.1h23.8v23.8h-23.8zM576.0,251.6h23.8v23.8h-23.8zM576.9,250.9h23.8v23.8h-23.8zM577.9,248.9h23.8v23.8h-23.8zM578.9,260.0h23.8v23.8h-23.8zM579.8,247.6h23.8v23.8h-23.8zM580.8,257.9h23.8v23.8h-23.8zM581.8,246.0h23.8v23.8h-23.8zM582.8,257.6h23.8v23.8h-23.8zM583.7,250.7h23.8v23.8h-23.8zM584.7,244.4h23.8v23.8h-23.8zM585.7,254.9h23.8v23.8h-23.8zM586.6,254.8h23.8v23.8h-23.8zM587.6,249.7h23.8v23.8h-23.8zM588.6,257.2h23.8v23.8h-23.8zM589.6,247.1h23.8v23.8h-23.8zM590.5,261.7h23.8v23.8h-23.8zM591.5,255.8h23.8v23.8h-23.8zM592.5,266.8h23.8v23.8h-23.8zM593.4,252.4h23.8v23.8h-23.8zM594.4,257.2h23.8v23.8h-23.8zM595.4,251.9h23.8v23.8h-23.8zM596.4,257.3h23.8v23.8h-23.8zM597.3,255.3h23.8v23.8h-23.8zM598.3,257.4h23.8v23.8h-23.8zM599.3,249.8h23.8v23.8h-23.8zM600.2,256.5h23.8v23.8h-23.8zM601.2,256.2h23.8v23.8h-23.8zM602.2,260.5h23.8v23.8h-23.8zM603.2,252.6h23.8v23.8h-23.8zM604.1,253.9h23.8v23.8h-23.8zM605.1,257.6h23.8v23.8h-23.8zM606.1,257.3h23.8v23.8h-23.8zM607.0,246.1h23.8v23.8h-23.8zM608.0,254.5h23.8v23.8h-23.8zM609.0,258.8h23.8v23.8h-23.8zM610.0,254.4h23.8v23.8h-23.8zM610.9,248.9h23.8v23.8h-23.8zM611.9,254.6h23.8v23.8h-23.8zM612.9,255.9h23.8v23.8h-23.8zM613.8,252.5h23.8v23.8h-23.8zM614.8,256.5h23.8v23.8h-23.8zM615.8,252.2h23.8v23.8h-23.8zM616.7,255.7h23.8v23.8h-23.8zM617.7,256.8h23.8v23.8h-23.8zM618.7,263.2h23.8v23.8h-23.8zM619.7,259.3h23.8v23.8h-23.8zM620.6,266.0h23.8v23.8h-23.8zM621.6,257.7h23.8v23.8h-23.8zM622.6,252.8h23.8v23.8h-23.8zM623.5,252.8h23.8v23.8h-23.8zM624.5,260.1h23.8v23.8h-23.8zM625.5,245.7h23.8v23.8h-23.8zM626.5,251.5h23.8v23.8h-23.8zM627.4,260.8h23.8v23.8h-23.8zM628.4,254.6h23.8v23.8h-23.8zM629.4,253.4h23.8v23.8h-23.8zM630.3,263.9h23.8v23.8h-23.8zM631.3,251.5h23.8v23.8h-23.8zM632.3,260.3h23.8v23.8h-23.8zM633.3,258.0h23.8v23.8h-23.8zM634.2,259.1h23.8v23.8h-23.8zM635.2,258.5h23.8v23.8h-23.8zM636.2,262.2h23.8v23.8h-23.8zM637.1,264.0h23.8v23.8h-23.8zM638.1,255.1h23.8v23.8h-23.8zM639.1,264.4h23.8v23.8h-23.8zM640.1,258.0h23.8v23.8h-23.8zM641.0,258.3h23.8v23.8h-23.8zM642.0,261.6h23.8v23.8h-23.8zM643.0,257.1h23.8v23.8h-23.8zM643.9,255.8h23.8v23.8h-23.8zM644.9,265.0h23.8v23.8h-23.8zM645.9,257.3h23.8v23.8h-23.8zM646.9,251.6h23.8v23.8h-23.8zM647.8,260.7h23.8v23.8h-23.8zM648.8,260.9h23.8v23.8h-23.8zM649.8,259.3h23.8v23.8h-23.8zM650.7,266.4h23.8v23.8h-23.8zM651.7,255.7h23.8v23.8h-23.8zM652.7,255.6h23.8v23.8h-23.8zM653.6,260.4h23.8v23.8h-23.8zM654.6,265.3h23.8v23.8h-23.8zM655.6,265.7h23.8v23.8h-23.8zM656.6,260.7h23.8v23.8h-23.8zM657.5,258.3h23.8v23.8h-23.8zM658.5,261.3h23.8v23.8h-23.8zM659.5,266.6h23.8v23.8h-23.8zM660.4,260.7h23.8v23.8h-23.8zM661.4,259.4h23.8v23.8h-23.8zM662.4,264.5h23.8v23.8h-23.8zM663.4,262.8h23.8v23.8h-23.8zM664.3,261.8h23.8v23.8h-23.8zM665.3,269.3h23.8v23.8h-23.8zM666.3,264.1h23.8v23.8h-23.8zM667.2,262.2h23.8v23.8h-23.8zM668.2,260.6h23.8v23.8h-23.8zM669.2,261.0h23.8v23.8h-23.8zM670.2,264.0h23.8v23.8h-23.8zM671.1,264.9h23.8v23.8h-23.8zM672.1,259.9h23.8v23.8h-23.8zM673.1,260.4h23.8v23.8h-23.8zM674.0,261.5h23.8v23.8h-23.8zM675.0,259.1h23.8v23.8h-23.8zM676.0,266.8h23.8v23.8h-23.8zM677.0,259.5h23.8v23.8h-23.8zM677.9,263.5h23.8v23.8h-23.8zM678.9,266.7h23.8v23.8h-23.8zM679.9,259.5h23.8v23.8h-23.8zM680.8,260.0h23.8v23.8h-23.8zM681.8,262.8h23.8v23.8h-23.8zM682.8,265.3h23.8v23.8h-23.8zM683.8,264.2h23.8v23.8h-23.8zM684.7,263.8h23.8v23.8h-23.8zM685.7,268.4h23.8v23.8h-23.8zM686.7,261.7h23.8v23.8h-23.8zM687.6,261.4h23.8v23.8h-23.8zM688.6,266.5h23.8v23.8h-23.8zM689.6,264.6h23.8v23.8h-23.8zM690.5,267.8h23.8v23.8h-23.8zM691.5,268.4h23.8v23.8h-23.8zM692.5,260.4h23.8v23.8h-23.8zM693.5,256.8h23.8v23.8h-23.8zM694.4,266.8h23.8v23.8h-23.8zM695.4,264.6h23.8v23.8h-23.8zM696.4,265.9h23.8v23.8h-23.8zM697.3,261.6h23.8v23.8h-23.8zM698.3,268.1h23.8v23.8h-23.8zM699.3,264.3h23.8v23.8h-23.8zM700.3,267.4h23.8v23.8h-23.8zM701.2,268.8h23.8v23.8h-23.8zM702.2,265.9h23.8v23.8h-23.8zM703.2,265.3h23.8v23.8h-23.8zM704.1,260.7h23.8v23.8h-23.8zM705.1,265.1h23.8v23.8h-23.8zM706.1,260.8h23.8v23.8h-23.8zM707.1,268.7h23.8v23.8h-23.8zM708.0,260.5h23.8v23.8h-23.8zM709.0,263.1h23.8v23.8h-23.8zM710.0,271.6h23.8v23.8h-23.8zM710.9,263.7h23.8v23.8h-23.8zM711.9,270.5h23.8v23.8h-23.8zM712.9,265.2h23.8v23.8h-23.8zM713.9,270.0h23.8v23.8h-23.8zM714.8,256.5h23.8v23.8h-23.8zM715.8,262.7h23.8v23.8h-23.8zM716.8,272.5h23.8v23.8h-23.8zM717.7,268.4h23.8v23.8h-23.8zM718.7,263.3h23.8v23.8h-23.8zM719.7,265.5h23.8v23.8h-23.8zM720.7,269.6h23.8v23.8h-23.8zM721.6,266.3h23.8v23.8h-23.8zM722.6,257.8h23.8v23.8h-23.8zM723.6,264.1h23.8v23.8h-23.8zM724.5,273.5h23.8v23.8h-23.8zM725.5,265.8h23.8v23.8h-23.8zM726.5,265.6h23.8v23.8h-23.8zM727.4,263.9h23.8v23.8h-23.8zM728.4,273.1h23.8v23.8h-23.8zM729.4,270.4h23.8v23.8h-23.8zM730.4,265.2h23.8v23.8h-23.8zM731.3,262.2h23.8v23.8h-23.8zM732.3,267.8h23.8v23.8h-23.8zM733.3,269.1h23.8v23.8h-23.8zM734.2,261.3h23.8v23.8h-23.8zM735.2,273.2h23.8v23.8h-23.8zM736.2,265.5h23.8v23.8h-23.8zM737.2,269.4h23.8v23.8h-23.8zM738.1,266.2h23.8v23.8h-23.8zM739.1,266.4h23.8v23.8h-23.8zM740.1,272.9h23.8v23.8h-23.8zM741.0,269.8h23.8v23.8h-23.8zM742.0,263.8h23.8v23.8h-23.8zM743.0,270.9h23.8v23.8h-23.8zM744.0,272.9h23.8v23.8h-23.8zM744.9,269.2h23.8v23.8h-23.8zM745.9,274.0h23.8v23.8h-23.8zM746.9,266.6h23.8v23.8h-23.8zM747.8,273.8h23.8v23.8h-23.8zM748.8,271.1h23.8v23.8h-23.8zM749.8,271.0h23.8v23.8h-23.8zM750.8,275.7h23.8v23.8h-23.8zM751.7,273.2h23.8v23.8h-23.8zM752.7,269.5h23.8v23.8h-23.8zM753.7,272.7h23.8v23.8h-23.8zM754.6,268.3h23.8v23.8h-23.8zM755.6,272.9h23.8v23.8h-23.8zM756.6,276.1h23.8v23.8h-23.8zM757.5,275.8h23.8v23.8h-23.8zM758.5,268.6h23.8v23.8h-23.8zM759.5,270.5h23.8v23.8h-23.8zM760.5,273.9h23.8v23.8h-23.8zM761.4,273.8h23.8v23.8h-23.8zM762.4,268.9h23.8v23.8h-23.8zM763.4,272.6h23.8v23.8h-23.8zM764.3,273.4h23.8v23.8h-23.8zM765.3,277.8h23.8v23.8h-23.8zM766.3,273.0h23.8v23.8h-23.8zM767.3,271.9h23.8v23.8h-23.8zM768.2,268.2h23.8v23.8h-23.8zM769.2,267.2h23.8v23.8h-23.8zM770.2,276.0h23.8v23.8h-23.8zM771.1,272.9h23.8v23.8h-23.8zM772.1,271.0h23.8v23.8h-23.8zM773.1,279.9h23.8v23.8h-23.8zM774.1,274.8h23.8v23.8h-23.8zM775.0,272.6h23.8v23.8h-23.8zM776.0,275.9h23.8v23.8h-23.8zM777.0,270.1h23.8v23.8h-23.8zM777.9,276.1h23.8v23.8h-23.8zM778.9,274.9h23.8v23.8h-23.8zM779.9,271.9h23.8v23.8h-23.8zM780.9,272.2h23.8v23.8h-23.8zM781.8,271.0h23.8v23.8h-23.8zM782.8,277.3h23.8v23.8h-23.8zM783.8,273.5h23.8v23.8h-23.8zM784.7,270.2h23.8v23.8h-23.8zM785.7,276.9h23.8v23.8h-23.8zM786.7,276.1h23.8v23.8h-23.8zM787.7,274.4h23.8v23.8h-23.8zM788.6,275.3h23.8v23.8h-23.8zM789.6,273.2h23.8v23.8h-23.8zM790.6,272.5h23.8v23.8h-23.8zM791.5,278.1h23.8v23.8h-23.8zM792.5,270.6h23.8v23.8h-23.8zM793.5,269.2h23.8v23.8h-23.8zM794.4,270.0h23.8v23.8h-23.8zM795.4,278.5h23.8v23.8h-23.8zM796.4,271.2h23.8v23.8h-23.8zM797.4,274.3h23.8v23.8h-23.8zM798.3,272.7h23.8v23.8h-23.8zM799.3,271.7h23.8v23.8h-23.8zM800.3,275.0h23.8v23.8h-23.8zM801.2,275.3h23.8v23.8h-23.8zM802.2,283.3h23.8v23.8h-23.8zM803.2,273.3h23.8v23.8h-23.8zM804.2,277.0h23.8v23.8h-23.8zM805.1,283.8h23.8v23.8h-23.8zM806.1,281.7h23.8v23.8h-23.8zM807.1,280.9h23.8v23.8h-23.8zM808.0,280.0h23.8v23.8h-23.8zM809.0,276.5h23.8v23.8h-23.8zM810.0,279.9h23.8v23.8h-23.8zM811.0,277.9h23.8v23.8h-23.8zM811.9,273.9h23.8v23.8h-23.8zM812.9,283.7h23.8v23.8h-23.8zM813.9,277.2h23.8v23.8h-23.8zM814.8,279.5h23.8v23.8h-23.8zM815.8,275.5h23.8v23.8h-23.8zM816.8,272.9h23.8v23.8h-23.8zM817.8,270.9h23.8v23.8h-23.8zM818.7,278.3h23.8v23.8h-23.8zM819.7,280.1h23.8v23.8h-23.8zM820.7,271.3h23.8v23.8h-23.8zM821.6,276.0h23.8v23.8h-23.8zM822.6,278.1h23.8v23.8h-23.8zM823.6,272.5h23.8v23.8h-23.8zM824.6,276.3h23.8v23.8h-23.8zM825.5,279.8h23.8v23.8h-23.8zM826.5,277.6h23.8v23.8h-23.8zM827.5,280.8h23.8v23.8h-23.8zM828.4,278.3h23.8v23.8h-23.8zM829.4,281.0h23.8v23.8h-23.8zM830.4,282.2h23.8v23.8h-23.8zM831.3,273.9h23.8v23.8h-23.8zM832.3,282.0h23.8v23.8h-23.8zM833.3,277.7h23.8v23.8h-23.8zM834.3,278.4h23.8v23.8h-23.8zM835.2,281.5h23.8v23.8h-23.8zM836.2,273.8h23.8v23.8h-23.8zM837.2,282.8h23.8v23.8h-23.8zM838.1,276.9h23.8v23.8h-23.8zM839.1,282.8h23.8v23.8h-23.8zM840.1,279.6h23.8v23.8h-23.8zM841.1,281.1h23.8v23.8h-23.8zM842.0,277.0h23.8v23.8h-23.8zM843.0,280.1h23.8v23.8h-23.8zM844.0,275.9h23.8v23.8h-23.8zM844.9,277.8h23.8v23.8h-23.8zM845.9,269.9h23.8v23.8h-23.8zM846.9,280.4h23.8v23.8h-23.8zM847.9,276.9h23.8v23.8h-23.8zM848.8,289.8h23.8v23.8h-23.8zM849.8,277.6h23.8v23.8h-23.8zM850.8,272.7h23.8v23.8h-23.8zM851.7,285.4h23.8v23.8h-23.8zM852.7,279.8h23.8v23.8h-23.8zM853.7,283.2h23.8v23.8h-23.8zM854.7,281.6h23.8v23.8h-23.8zM855.6,278.5h23.8v23.8h-23.8zM856.6,277.0h23.8v23.8h-23.8zM857.6,277.6h23.8v23.8h-23.8zM858.5,292.3h23.8v23.8h-23.8zM859.5,284.4h23.8v23.8h-23.8zM860.5,277.0h23.8v23.8h-23.8zM861.5,285.9h23.8v23.8h-23.8zM862.4,284.4h23.8v23.8h-23.8zM863.4,276.1h23.8v23.8h-23.8zM864.4,279.3h23.8v23.8h-23.8zM865.3,285.3h23.8v23.8h-23.8zM866.3,283.7h23.8v23.8h-23.8zM867.3,297.9h23.8v23.8h-23.8zM868.2,282.8h23.8v23.8h-23.8zM869.2,286.5h23.8v23.8h-23.8zM870.2,281.1h23.8v23.8h-23.8zM871.2,282.6h23.8v23.8h-23.8zM872.1,283.2h23.8v23.8h-23.8zM873.1,283.0h23.8v23.8h-23.8zM874.1,284.2h23.8v23.8h-23.8zM875.0,283.8h23.8v23.8h-23.8zM876.0,277.3h23.8v23.8h-23.8zM877.0,286.4h23.8v23.8h-23.8zM878.0,279.4h23.8v23.8h-23.8zM878.9,287.0h23.8v23.8h-23.8zM879.9,286.5h23.8v23.8h-23.8zM880.9,286.8h23.8v23.8h-23.8zM881.8,281.9h23.8v23.8h-23.8zM882.8,285.4h23.8v23.8h-23.8zM883.8,287.2h23.8v23.8h-23.8zM884.8,282.5h23.8v23.8h-23.8zM885.7,278.9h23.8v23.8h-23.8zM886.7,291.4h23.8v23.8h-23.8zM887.7,283.9h23.8v23.8h-23.8zM888.6,283.1h23.8v23.8h-23.8zM889.6,277.4h23.8v23.8h-23.8zM890.6,280.4h23.8v23.8h-23.8zM891.6,286.7h23.8v23.8h-23.8zM892.5,281.2h23.8v23.8h-23.8zM893.5,277.1h23.8v23.8h-23.8zM894.5,278.8h23.8v23.8h-23.8zM895.4,293.2h23.8v23.8h-23.8zM896.4,284.8h23.8v23.8h-23.8zM897.4,284.4h23.8v23.8h-23.8zM898.4,286.3h23.8v23.8h-23.8zM899.3,283.2h23.8v23.8h-23.8zM900.3,291.3h23.8v23.8h-23.8zM901.3,291.2h23.8v23.8h-23.8zM902.2,283.6h23.8v23.8h-23.8zM903.2,290.4h23.8v23.8h-23.8zM904.2,289.7h23.8v23.8h-23.8zM905.1,289.4h23.8v23.8h-23.8zM906.1,296.4h23.8v23.8h-23.8zM907.1,281.7h23.8v23.8h-23.8zM908.1,285.6h23.8v23.8h-23.8zM909.0,290.4h23.8v23.8h-23.8zM910.0,289.6h23.8v23.8h-23.8zM911.0,292.4h23.8v23.8h-23.8zM911.9,287.1h23.8v23.8h-23.8zM912.9,288.7h23.8v23.8h-23.8zM913.9,293.5h23.8v23.8h-23.8zM914.9,290.2h23.8v23.8h-23.8zM915.8,287.9h23.8v23.8h-23.8zM916.8,297.4h23.8v23.8h-23.8zM917.8,288.0h23.8v23.8h-23.8zM918.7,289.0h23.8v23.8h-23.8zM919.7,285.2h23.8v23.8h-23.8zM920.7,289.6h23.8v23.8h-23.8zM921.7,282.0h23.8v23.8h-23.8zM922.6,294.8h23.8v23.8h-23.8zM923.6,272.2h23.8v23.8h-23.8zM924.6,292.4h23.8v23.8h-23.8zM925.5,285.8h23.8v23.8h-23.8zM926.5,290.6h23.8v23.8h-23.8zM927.5,295.1h23.8v23.8h-23.8zM928.5,289.4h23.8v23.8h-23.8zM929.4,291.4h23.8v23.8h-23.8zM930.4,287.1h23.8v23.8h-23.8zM931.4,288.5h23.8v23.8h-23.8zM932.3,294.5h23.8v23.8h-23.8zM933.3,287.0h23.8v23.8h-23.8zM934.3,293.4h23.8v23.8h-23.8zM935.3,290.8h23.8v23.8h-23.8zM936.2,287.1h23.8v23.8h-23.8zM937.2,294.0h23.8v23.8h-23.8zM938.2,286.7h23.8v23.8h-23.8zM939.1,291.7h23.8v23.8h-23.8zM940.1,285.4h23.8v23.8h-23.8zM941.1,289.7h23.8v23.8h-23.8zM942.0,285.8h23.8v23.8h-23.8zM943.0,291.6h23.8v23.8h-23.8zM944.0,294.4h23.8v23.8h-23.8zM945.0,295.0h23.8v23.8h-23.8zM945.9,292.8h23.8v23.8h-23.8zM946.9,292.2h23.8v23.8h-23.8zM947.9,289.6h23.8v23.8h-23.8zM948.8,290.0h23.8v23.8h-23.8zM949.8,287.9h23.8v23.8h-23.8zM950.8,299.6h23.8v23.8h-23.8zM951.8,291.0h23.8v23.8h-23.8zM952.7,291.3h23.8v23.8h-23.8zM953.7,292.9h23.8v23.8h-23.8zM954.7,285.7h23.8v23.8h-23.8zM955.6,298.5h23.8v23.8h-23.8zM956.6,290.5h23.8v23.8h-23.8zM957.6,288.5h23.8v23.8h-23.8zM958.6,299.4h23.8v23.8h-23.8zM959.5,301.6h23.8v23.8h-23.8zM960.5,295.2h23.8v23.8h-23.8zM961.5,290.9h23.8v23.8h-23.8zM962.4,298.5h23.8v23.8h-23.8zM963.4,293.0h23.8v23.8h-23.8zM964.4,295.0h23.8v23.8h-23.8zM965.4,301.8h23.8v23.8h-23.8zM966.3,293.9h23.8v23.8h-23.8zM967.3,291.6h23.8v23.8h-23.8zM968.3,285.0h23.8v23.8h-23.8zM969.2,298.0h23.8v23.8h-23.8zM970.2,284.8h23.8v23.8h-23.8zM971.2,290.6h23.8v23.8h-23.8zM972.1,286.5h23.8v23.8h-23.8zM973.1,291.5h23.8v23.8h-23.8zM974.1,292.1h23.8v23.8h-23.8zM975.1,295.6h23.8v23.8h-23.8zM976.0,292.5h23.8v23.8h-23.8zM977.0,297.2h23.8v23.8h-23.8zM978.0,293.9h23.8v23.8h-23.8zM978.9,289.3h23.8v23.8h-23.8zM979.9,292.4h23.8v23.8h-23.8zM980.9,283.7h23.8v23.8h-23.8zM981.9,293.7h23.8v23.8h-23.8zM982.8,293.2h23.8v23.8h-23.8zM983.8,297.5h23.8v23.8h-23.8zM984.8,296.3h23.8v23.8h-23.8zM985.7,298.4h23.8v23.8h-23.8zM986.7,289.1h23.8v23.8h-23.8zM987.7,300.3h23.8v23.8h-23.8zM988.7,293.0h23.8v23.8h-23.8zM989.6,296.8h23.8v23.8h-23.8zM990.6,297.8h23.8v23.8h-23.8zM991.6,298.3h23.8v23.8h-23.8zM992.5,295.0h23.8v23.8h-23.8zM993.5,290.1h23.8v23.8h-23.8zM994.5,298.9h23.8v23.8h-23.8zM995.5,300.8h23.8v23.8h-23.8zM996.4,300.7h23.8v23.8h-23.8zM997.4,304.6h23.8v23.8h-23.8zM998.4,302.6h23.8v23.8h-23.8zM999.3,300.1h23.8v23.8h-23.8zM1000.3,295.0h23.8v23.8h-23.8zM1001.3,302.1h23.8v23.8h-23.8zM1002.3,292.5h23.8v23.8h-23.8zM1003.2,296.7h23.8v23.8h-23.8zM1004.2,297.4h23.8v23.8h-23.8zM1005.2,301.4h23.8v23.8h-23.8zM1006.1,296.0h23.8v23.8h-23.8zM1007.1,295.3h23.8v23.8h-23.8zM1008.1,295.3h23.8v23.8h-23.8zM1009.0,299.4h23.8v23.8h-23.8zM1010.0,290.9h23.8v23.8h-23.8zM1011.0,288.9h23.8v23.8h-23.8zM1012.0,304.3h23.8v23.8h-23.8zM1012.9,302.6h23.8v23.8h-23.8zM1013.9,300.5h23.8v23.8h-23.8zM1014.9,299.5h23.8v23.8h-23.8zM1015.8,295.8h23.8v23.8h-23.8zM1016.8,292.4h23.8v23.8h-23.8zM1017.8,300.0h23.8v23.8h-23.8zM1018.8,294.1h23.8v23.8h-23.8zM1019.7,302.2h23.8v23.8h-23.8zM1020.7,299.6h23.8v23.8h-23.8zM1021.7,293.3h23.8v23.8h-23.8zM1022.6,300.4h23.8v23.8h-23.8zM1023.6,292.1h23.8v23.8h-23.8zM1024.6,296.2h23.8v23.8h-23.8zM1025.6,302.8h23.8v23.8h-23.8zM1026.5,296.5h23.8v23.8h-23.8zM1027.5,298.2h23.8v23.8h-23.8zM1028.5,297.0h23.8v23.8h-23.8zM1029.4,297.5h23.8v23.8h-23.8zM1030.4,303.5h23.8v23.8h-23.8zM1031.4,301.6h23.8v23.8h-23.8zM1032.4,303.6h23.8v23.8h-23.8zM1033.3,294.1h23.8v23.8h-23.8zM1034.3,299.3h23.8v23.8h-23.8zM1035.3,297.4h23.8v23.8h-23.8zM1036.2,301.1h23.8v23.8h-23.8zM1037.2,296.7h23.8v23.8h-23.8zM1038.2,304.6h23.8v23.8h-23.8zM1039.2,302.7h23.8v23.8h-23.8zM1040.1,301.6h23.8v23.8h-23.8zM1041.1,299.0h23.8v23.8h-23.8zM1042.1,304.4h23.8v23.8h-23.8zM1043.0,295.1h23.8v23.8h-23.8zM1044.0,299.4h23.8v23.8h-23.8zM1045.0,305.0h23.8v23.8h-23.8zM1045.9,300.3h23.8v23.8h-23.8zM1046.9,301.7h23.8v23.8h-23.8zM1047.9,307.3h23.8v23.8h-23.8zM1048.9,303.0h23.8v23.8h-23.8zM1049.8,304.4h23.8v23.8h-23.8zM1050.8,298.5h23.8v23.8h-23.8zM1051.8,310.7h23.8v23.8h-23.8zM1052.7,301.1h23.8v23.8h-23.8zM1053.7,304.4h23.8v23.8h-23.8zM1054.7,303.5h23.8v23.8h-23.8zM1055.7,302.7h23.8v23.8h-23.8zM1056.6,298.1h23.8v23.8h-23.8zM1057.6,302.1h23.8v23.8h-23.8zM1058.6,303.6h23.8v23.8h-23.8zM1059.5,308.7h23.8v23.8h-23.8zM1060.5,304.1h23.8v23.8h-23.8zM1061.5,301.9h23.8v23.8h-23.8zM1062.5,304.5h23.8v23.8h-23.8zM1063.4,304.4h23.8v23.8h-23.8zM1064.4,303.5h23.8v23.8h-23.8zM1065.4,305.0h23.8v23.8h-23.8zM1066.3,310.4h23.8v23.8h-23.8zM1067.3,304.5h23.8v23.8h-23.8zM1068.3,299.3h23.8v23.8h-23.8zM1069.3,302.3h23.8v23.8h-23.8zM1070.2,303.3h23.8v23.8h-23.8zM1071.2,301.8h23.8v23.8h-23.8zM1072.2,305.3h23.8v23.8h-23.8zM1073.1,308.5h23.8v23.8h-23.8zM1074.1,297.2h23.8v23.8h-23.8zM1075.1,300.7h23.8v23.8h-23.8zM1076.1,303.2h23.8v23.8h-23.8zM1077.0,307.6h23.8v23.8h-23.8zM1078.0,298.2h23.8v23.8h-23.8zM1079.0,309.2h23.8v23.8h-23.8zM1079.9,311.3h23.8v23.8h-23.8zM1080.9,310.2h23.8v23.8h-23.8zM1081.9,306.6h23.8v23.8h-23.8zM1082.8,296.1h23.8v23.8h-23.8zM1083.8,303.8h23.8v23.8h-23.8zM1084.8,303.4h23.8v23.8h-23.8zM1085.8,306.4h23.8v23.8h-23.8zM1086.7,309.6h23.8v23.8h-23.8zM1087.7,308.4h23.8v23.8h-23.8zM1088.7,302.9h23.8v23.8h-23.8zM1089.6,310.2h23.8v23.8h-23.8zM1090.6,311.1h23.8v23.8h-23.8zM1091.6,302.9h23.8v23.8h-23.8zM1092.6,303.0h23.8v23.8h-23.8zM1093.5,305.0h23.8v23.8h-23.8zM1094.5,308.2h23.8v23.8h-23.8zM1095.5,303.1h23.8v23.8h-23.8zM1096.4,311.7h23.8v23.8h-23.8zM1097.4,307.9h23.8v23.8h-23.8zM1098.4,310.5h23.8v23.8h-23.8zM1099.4,305.2h23.8v23.8h-23.8zM1100.3,304.1h23.8v23.8h-23.8zM1101.3,309.2h23.8v23.8h-23.8zM1102.3,315.8h23.8v23.8h-23.8zM1103.2,311.0h23.8v23.8h-23.8zM1104.2,313.3h23.8v23.8h-23.8zM1105.2,306.5h23.8v23.8h-23.8zM1106.2,306.0h23.8v23.8h-23.8zM1107.1,308.3h23.8v23.8h-23.8zM1108.1,313.7h23.8v23.8h-23.8zM1109.1,308.7h23.8v23.8h-23.8zM1110.0,304.0h23.8v23.8h-23.8zM1111.0,302.6h23.8v23.8h-23.8zM1112.0,309.8h23.8v23.8h-23.8zM1113.0,308.2h23.8v23.8h-23.8zM1113.9,313.9h23.8v23.8h-23.8zM1114.9,306.7h23.8v23.8h-23.8zM1115.9,302.1h23.8v23.8h-23.8zM1116.8,311.9h23.8v23.8h-23.8zM1117.8,307.9h23.8v23.8h-23.8zM1118.8,309.3h23.8v23.8h-23.8zM1119.7,313.2h23.8v23.8h-23.8zM1120.7,301.8h23.8v23.8h-23.8zM1121.7,307.5h23.8v23.8h-23.8zM1122.7,306.8h23.8v23.8h-23.8zM1123.6,306.7h23.8v23.8h-23.8zM1124.6,306.8h23.8v23.8h-23.8zM1125.6,308.4h23.8v23.8h-23.8zM1126.5,315.0h23.8v23.8h-23.8zM1127.5,309.1h23.8v23.8h-23.8zM1128.5,305.9h23.8v23.8h-23.8zM1129.5,309.4h23.8v23.8h-23.8zM1130.4,304.7h23.8v23.8h-23.8zM1131.4,310.4h23.8v23.8h-23.8zM1132.4,310.0h23.8v23.8h-23.8zM1133.3,307.2h23.8v23.8h-23.8zM1134.3,309.2h23.8v23.8h-23.8zM1135.3,312.8h23.8v23.8h-23.8zM1136.3,315.8h23.8v23.8h-23.8zM1137.2,310.3h23.8v23.8h-23.8zM1138.2,316.2h23.8v23.8h-23.8zM1139.2,315.0h23.8v23.8h-23.8zM1140.1,305.7h23.8v23.8h-23.8zM1141.1,309.0h23.8v23.8h-23.8zM1142.1,310.1h23.8v23.8h-23.8zM1143.1,306.9h23.8v23.8h-23.8zM1144.0,310.3h23.8v23.8h-23.8zM1145.0,307.9h23.8v23.8h-23.8zM1146.0,311.6h23.8v23.8h-23.8zM1146.9,308.5h23.8v23.8h-23.8zM1147.9,312.9h23.8v23.8h-23.8zM1148.9,309.7h23.8v23.8h-23.8zM1149.9,314.9h23.8v23.8h-23.8zM1150.8,312.4h23.8v23.8h-23.8zM1151.8,313.7h23.8v23.8h-23.8zM1152.8,315.8h23.8v23.8h-23.8zM1153.7,309.2h23.8v23.8h-23.8zM1154.7,319.5h23.8v23.8h-23.8zM1155.7,312.6h23.8v23.8h-23.8zM1156.6,314.1h23.8v23.8h-23.8zM1157.6,312.1h23.8v23.8h-23.8zM1158.6,311.4h23.8v23.8h-23.8zM1159.6,307.8h23.8v23.8h-23.8zM1160.5,309.8h23.8v23.8h-23.8zM1161.5,307.6h23.8v23.8h-23.8zM1162.5,308.3h23.8v23.8h-23.8zM1163.4,319.4h23.8v23.8h-23.8zM1164.4,313.5h23.8v23.8h-23.8zM1165.4,312.5h23.8v23.8h-23.8zM1166.4,309.7h23.8v23.8h-23.8zM1167.3,313.6h23.8v23.8h-23.8zM1168.3,313.8h23.8v23.8h-23.8zM1169.3,316.3h23.8v23.8h-23.8zM1170.2,313.4h23.8v23.8h-23.8zM1171.2,314.7h23.8v23.8h-23.8zM1172.2,318.9h23.8v23.8h-23.8zM1173.2,316.3h23.8v23.8h-23.8zM1174.1,318.5h23.8v23.8h-23.8zM1175.1,308.0h23.8v23.8h-23.8zM1176.1,313.4h23.8v23.8h-23.8zM1177.0,319.3h23.8v23.8h-23.8zM1178.0,315.4h23.8v23.8h-23.8zM1179.0,320.5h23.8v23.8h-23.8zM1180.0,312.7h23.8v23.8h-23.8zM1180.9,319.6h23.8v23.8h-23.8zM1181.9,307.8h23.8v23.8h-23.8zM1182.9,312.2h23.8v23.8h-23.8zM1183.8,316.0h23.8v23.8h-23.8zM1184.8,310.7h23.8v23.8h-23.8zM1185.8,307.4h23.8v23.8h-23.8zM1186.7,318.8h23.8v23.8h-23.8zM1187.7,322.7h23.8v23.8h-23.8zM1188.7,317.0h23.8v23.8h-23.8zM1189.7,310.5h23.8v23.8h-23.8zM1190.6,315.6h23.8v23.8h-23.8zM1191.6,310.6h23.8v23.8h-23.8zM1192.6,307.7h23.8v23.8h-23.8zM1193.5,318.4h23.8v23.8h-23.8zM1194.5,318.4h23.8v23.8h-23.8zM1195.5,316.7h23.8v23.8h-23.8zM1196.5,306.1h23.8v23.8h-23.8zM1197.4,321.9h23.8v23.8h-23.8zM1198.4,318.9h23.8v23.8h-23.8zM1199.4,316.3h23.8v23.8h-23.8zM1200.3,320.8h23.8v23.8h-23.8zM1201.3,310.3h23.8v23.8h-23.8zM1202.3,307.3h23.8v23.8h-23.8zM1203.3,320.6h23.8v23.8h-23.8zM1204.2,323.2h23.8v23.8h-23.8zM1205.2,321.3h23.8v23.8h-23.8zM1206.2,319.7h23.8v23.8h-23.8zM1207.1,317.9h23.8v23.8h-23.8zM1208.1,319.9h23.8v23.8h-23.8zM1209.1,312.3h23.8v23.8h-23.8zM1210.1,326.2h23.8v23.8h-23.8zM1211.0,329.9h23.8v23.8h-23.8zM1212.0,310.5h23.8v23.8h-23.8zM1213.0,322.7h23.8v23.8h-23.8zM1213.9,308.5h23.8v23.8h-23.8zM1214.9,319.1h23.8v23.8h-23.8zM1215.9,316.6h23.8v23.8h-23.8zM1216.9,324.1h23.8v23.8h-23.8zM1217.8,318.7h23.8v23.8h-23.8zM1218.8,317.4h23.8v23.8h-23.8zM1219.8,323.3h23.8v23.8h-23.8zM1220.7,315.3h23.8v23.8h-23.8zM1221.7,315.3h23.8v23.8h-23.8zM1222.7,324.3h23.8v23.8h-23.8zM1223.6,320.7h23.8v23.8h-23.8zM1224.6,319.5h23.8v23.8h-23.8zM1225.6,316.5h23.8v23.8h-23.8zM1226.6,318.5h23.8v23.8h-23.8zM1227.5,317.6h23.8v23.8h-23.8zM1228.5,320.6h23.8v23.8h-23.8zM1229.5,320.1h23.8v23.8h-23.8zM1230.4,319.0h23.8v23.8h-23.8zM1231.4,319.4h23.8v23.8h-23.8zM1232.4,325.7h23.8v23.8h-23.8zM1233.4,324.7h23.8v23.8h-23.8zM1234.3,321.5h23.8v23.8h-23.8zM1235.3,319.6h23.8v23.8h-23.8zM1236.3,321.3h23.8v23.8h-23.8zM1237.2,320.1h23.8v23.8h-23.8zM1238.2,321.2h23.8v23.8h-23.8zM1239.2,322.1h23.8v23.8h-23.8zM1240.2,317.8h23.8v23.8h-23.8zM1241.1,317.8h23.8v23.8h-23.8zM1242.1,319.5h23.8v23.8h-23.8zM1243.1,316.0h23.8v23.8h-23.8zM1244.0,320.9h23.8v23.8h-23.8zM1245.0,336.4h23.8v23.8h-23.8zM1246.0,329.4h23.8v23.8h-23.8zM1247.0,320.1h23.8v23.8h-23.8zM1247.9,320.3h23.8v23.8h-23.8zM1248.9,322.3h23.8v23.8h-23.8zM1249.9,322.8h23.8v23.8h-23.8zM1250.8,327.2h23.8v23.8h-23.8zM1251.8,318.3h23.8v23.8h-23.8zM1252.8,320.4h23.8v23.8h-23.8zM1253.8,320.6h23.8v23.8h-23.8zM1254.7,321.9h23.8v23.8h-23.8zM1255.7,316.9h23.8v23.8h-23.8zM1256.7,323.5h23.8v23.8h-23.8zM1257.6,319.3h23.8v23.8h-23.8zM1258.6,322.7h23.8v23.8h-23.8zM1259.6,321.9h23.8v23.8h-23.8zM1260.5,313.2h23.8v23.8h-23.8zM1261.5,323.3h23.8v23.8h-23.8zM1262.5,317.6h23.8v23.8h-23.8zM1263.5,318.3h23.8v23.8h-23.8zM1264.4,318.7h23.8v23.8h-23.8zM1265.4,317.1h23.8v23.8h-23.8zM1266.4,321.8h23.8v23.8h-23.8zM1267.3,322.3h23.8v23.8h-23.8zM1268.3,316.9h23.8v23.8h-23.8zM1269.3,323.5h23.8v23.8h-23.8zM1270.3,324.6h23.8v23.8h-23.8zM1271.2,327.5h23.8v23.8h-23.8zM1272.2,327.9h23.8v23.8h-23.8zM1273.2,331.1h23.8v23.8h-23.8zM1274.1,322.9h23.8v23.8h-23.8zM1275.1,320.5h23.8v23.8h-23.8zM1276.1,316.8h23.8v23.8h-23.8zM1277.1,321.5h23.8v23.8h-23.8zM1278.0,324.3h23.8v23.8h-23.8zM1279.0,322.6h23.8v23.8h-23.8zM1280.0,320.4h23.8v23.8h-23.8zM1280.9,331.0h23.8v23.8h-23.8zM1281.9,332.0h23.8v23.8h-23.8zM1282.9,323.5h23.8v23.8h-23.8zM1283.9,330.1h23.8v23.8h-23.8zM1284.8,327.1h23.8v23.8h-23.8zM1285.8,321.0h23.8v23.8h-23.8zM1286.8,325.5h23.8v23.8h-23.8zM1287.7,322.6h23.8v23.8h-23.8zM1288.7,330.2h23.8v23.8h-23.8zM1289.7,330.3h23.8v23.8h-23.8zM1290.7,327.4h23.8v23.8h-23.8zM1291.6,324.3h23.8v23.8h-23.8zM1292.6,327.8h23.8v23.8h-23.8zM1293.6,327.3h23.8v23.8h-23.8zM1294.5,330.9h23.8v23.8h-23.8zM1295.5,330.8h23.8v23.8h-23.8zM1296.5,329.3h23.8v23.8h-23.8zM1297.4,321.2h23.8v23.8h-23.8zM1298.4,329.0h23.8v23.8h-23.8zM1299.4,330.7h23.8v23.8h-23.8zM1300.4,325.0h23.8v23.8h-23.8zM1301.3,322.8h23.8v23.8h-23.8zM1302.3,329.7h23.8v23.8h-23.8zM1303.3,321.8h23.8v23.8h-23.8zM1304.2,324.6h23.8v23.8h-23.8zM1305.2,325.6h23.8v23.8h-23.8zM1306.2,323.0h23.8v23.8h-23.8zM1307.2,319.2h23.8v23.8h-23.8zM1308.1,334.3h23.8v23.8h-23.8zM1309.1,325.8h23.8v23.8h-23.8zM1310.1,321.6h23.8v23.8h-23.8zM1311.0,334.6h23.8v23.8h-23.8zM1312.0,328.3h23.8v23.8h-23.8zM1313.0,333.4h23.8v23.8h-23.8zM1314.0,334.2h23.8v23.8h-23.8zM1314.9,324.3h23.8v23.8h-23.8zM1315.9,331.0h23.8v23.8h-23.8zM1316.9,331.3h23.8v23.8h-23.8zM1317.8,324.7h23.8v23.8h-23.8zM1318.8,324.5h23.8v23.8h-23.8zM1319.8,333.0h23.8v23.8h-23.8zM1320.8,329.4h23.8v23.8h-23.8zM1321.7,324.3h23.8v23.8h-23.8zM1322.7,325.5h23.8v23.8h-23.8zM1323.7,328.8h23.8v23.8h-23.8zM1324.6,326.0h23.8v23.8h-23.8zM1325.6,336.8h23.8v23.8h-23.8zM1326.6,338.1h23.8v23.8h-23.8zM1327.6,332.8h23.8v23.8h-23.8zM1328.5,327.5h23.8v23.8h-23.8zM1329.5,320.7h23.8v23.8h-23.8zM1330.5,327.4h23.8v23.8h-23.8zM1331.4,339.6h23.8v23.8h-23.8zM1332.4,335.8h23.8v23.8h-23.8zM1333.4,326.8h23.8v23.8h-23.8zM1334.3,328.8h23.8v23.8h-23.8zM1335.3,334.8h23.8v23.8h-23.8zM1336.3,329.1h23.8v23.8h-23.8zM1337.3,329.1h23.8v23.8h-23.8zM1338.2,333.0h23.8v23.8h-23.8zM1339.2,334.5h23.8v23.8h-23.8zM1340.2,331.3h23.8v23.8h-23.8zM1341.1,340.4h23.8v23.8h-23.8zM1342.1,331.8h23.8v23.8h-23.8zM1343.1,330.2h23.8v23.8h-23.8zM1344.1,324.0h23.8v23.8h-23.8zM1345.0,327.1h23.8v23.8h-23.8zM1346.0,331.1h23.8v23.8h-23.8zM1347.0,330.8h23.8v23.8h-23.8zM1347.9,321.1h23.8v23.8h-23.8zM1348.9,335.2h23.8v23.8h-23.8zM1349.9,334.1h23.8v23.8h-23.8zM1350.9,333.2h23.8v23.8h-23.8zM1351.8,331.4h23.8v23.8h-23.8zM1352.8,331.3h23.8v23.8h-23.8zM1353.8,323.8h23.8v23.8h-23.8zM1354.7,332.5h23.8v23.8h-23.8zM1355.7,328.0h23.8v23.8h-23.8zM1356.7,326.9h23.8v23.8h-23.8zM1357.7,339.2h23.8v23.8h-23.8zM1358.6,332.7h23.8v23.8h-23.8zM1359.6,334.1h23.8v23.8h-23.8zM1360.6,332.3h23.8v23.8h-23.8zM1361.5,329.3h23.8v23.8h-23.8zM1362.5,323.5h23.8v23.8h-23.8zM1363.5,336.1h23.8v23.8h-23.8zM1364.4,329.0h23.8v23.8h-23.8zM1365.4,323.8h23.8v23.8h-23.8zM1366.4,328.3h23.8v23.8h-23.8zM1367.4,334.9h23.8v23.8h-23.8zM1368.3,335.4h23.8v23.8h-23.8zM1369.3,336.3h23.8v23.8h-23.8zM1370.3,333.1h23.8v23.8h-23.8zM1371.2,332.6h23.8v23.8h-23.8zM1372.2,339.1h23.8v23.8h-23.8zM1373.2,327.9h23.8v23.8h-23.8zM1374.2,336.7h23.8v23.8h-23.8zM1375.1,335.6h23.8v23.8h-23.8zM1376.1,332.1h23.8v23.8h-23.8zM1377.1,330.7h23.8v23.8h-23.8zM1378.0,327.9h23.8v23.8h-23.8zM1379.0,328.2h23.8v23.8h-23.8zM1380.0,329.7h23.8v23.8h-23.8zM1381.0,333.1h23.8v23.8h-23.8zM1381.9,343.0h23.8v23.8h-23.8zM1382.9,332.0h23.8v23.8h-23.8zM1383.9,334.1h23.8v23.8h-23.8zM1384.8,333.1h23.8v23.8h-23.8zM1385.8,329.1h23.8v23.8h-23.8zM1386.8,331.2h23.8v23.8h-23.8zM1387.8,341.3h23.8v23.8h-23.8zM1388.7,335.3h23.8v23.8h-23.8zM1389.7,329.2h23.8v23.8h-23.8zM1390.7,327.0h23.8v23.8h-23.8zM1391.6,341.1h23.8v23.8h-23.8zM1392.6,334.3h23.8v23.8h-23.8zM1393.6,330.1h23.8v23.8h-23.8zM1394.6,341.9h23.8v23.8h-23.8zM1395.5,334.8h23.8v23.8h-23.8zM1396.5,330.7h23.8v23.8h-23.8zM1397.5,335.7h23.8v23.8h-23.8zM1398.4,341.7h23.8v23.8h-23.8zM1399.4,332.2h23.8v23.8h-23.8zM1400.4,339.4h23.8v23.8h-23.8zM1401.3,337.3h23.8v23.8h-23.8zM1402.3,334.1h23.8v23.8h-23.8zM1403.3,342.8h23.8v23.8h-23.8zM1404.3,335.1h23.8v23.8h-23.8zM1405.2,338.0h23.8v23.8h-23.8zM1406.2,334.7h23.8v23.8h-23.8zM1407.2,331.4h23.8v23.8h-23.8zM1408.1,338.1h23.8v23.8h-23.8zM1409.1,332.5h23.8v23.8h-23.8zM1410.1,344.2h23.8v23.8h-23.8zM1411.1,343.4h23.8v23.8h-23.8zM1412.0,334.8h23.8v23.8h-23.8zM1413.0,334.8h23.8v23.8h-23.8zM1414.0,333.8h23.8v23.8h-23.8zM1414.9,344.4h23.8v23.8h-23.8zM1415.9,332.5h23.8v23.8h-23.8zM1416.9,332.9h23.8v23.8h-23.8zM1417.9,333.6h23.8v23.8h-23.8zM1418.8,334.0h23.8v23.8h-23.8zM1419.8,343.7h23.8v23.8h-23.8zM1420.8,336.2h23.8v23.8h-23.8zM1421.7,338.6h23.8v23.8h-23.8zM1422.7,337.2h23.8v23.8h-23.8zM1423.7,337.3h23.8v23.8h-23.8zM1424.7,346.2h23.8v23.8h-23.8zM1425.6,345.5h23.8v23.8h-23.8zM1426.6,340.4h23.8v23.8h-23.8zM1427.6,333.1h23.8v23.8h-23.8zM1428.5,347.9h23.8v23.8h-23.8zM1429.5,338.9h23.8v23.8h-23.8zM1430.5,334.7h23.8v23.8h-23.8zM1431.5,335.2h23.8v23.8h-23.8zM1432.4,338.9h23.8v23.8h-23.8zM1433.4,341.6h23.8v23.8h-23.8zM1434.4,337.3h23.8v23.8h-23.8zM1435.3,340.5h23.8v23.8h-23.8zM1436.3,338.7h23.8v23.8h-23.8zM1437.3,343.3h23.8v23.8h-23.8zM1438.2,335.5h23.8v23.8h-23.8zM1439.2,343.2h23.8v23.8h-23.8zM1440.2,337.3h23.8v23.8h-23.8zM1441.2,344.0h23.8v23.8h-23.8zM1442.1,349.0h23.8v23.8h-23.8zM1443.1,340.6h23.8v23.8h-23.8zM1444.1,341.1h23.8v23.8h-23.8zM1445.0,340.9h23.8v23.8h-23.8zM1446.0,332.8h23.8v23.8h-23.8zM1447.0,341.7h23.8v23.8h-23.8zM1448.0,327.8h23.8v23.8h-23.8zM1448.9,336.2h23.8v23.8h-23.8zM1449.9,339.8h23.8v23.8h-23.8zM1450.9,342.8h23.8v23.8h-23.8zM1451.8,336.7h23.8v23.8h-23.8zM1452.8,333.4h23.8v23.8h-23.8zM1453.8,345.8h23.8v23.8h-23.8zM1454.8,333.7h23.8v23.8h-23.8zM1455.7,344.8h23.8v23.8h-23.8zM1456.7,339.3h23.8v23.8h-23.8zM1457.7,335.9h23.8v23.8h-23.8zM1458.6,341.8h23.8v23.8h-23.8zM1459.6,342.7h23.8v23.8h-23.8zM1460.6,337.6h23.8v23.8h-23.8zM1461.6,340.7h23.8v23.8h-23.8zM1462.5,340.5h23.8v23.8h-23.8zM1463.5,346.5h23.8v23.8h-23.8zM1464.5,336.6h23.8v23.8h-23.8zM1465.4,343.2h23.8v23.8h-23.8zM1466.4,339.5h23.8v23.8h-23.8zM1467.4,344.3h23.8v23.8h-23.8zM1468.4,342.9h23.8v23.8h-23.8zM1469.3,346.0h23.8v23.8h-23.8zM1470.3,340.9h23.8v23.8h-23.8zM1471.3,347.3h23.8v23.8h-23.8zM1472.2,341.7h23.8v23.8h-23.8zM1473.2,335.7h23.8v23.8h-23.8zM1474.2,342.0h23.8v23.8h-23.8zM1475.1,342.5h23.8v23.8h-23.8zM1476.1,348.2h23.8v23.8h-23.8zM1477.1,337.3h23.8v23.8h-23.8zM1478.1,342.2h23.8v23.8h-23.8zM1479.0,337.0h23.8v23.8h-23.8zM1480.0,346.1h23.8v23.8h-23.8zM1481.0,346.0h23.8v23.8h-23.8zM1481.9,345.1h23.8v23.8h-23.8zM1482.9,336.7h23.8v23.8h-23.8zM1483.9,338.1h23.8v23.8h-23.8zM1484.9,342.3h23.8v23.8h-23.8zM1485.8,344.3h23.8v23.8h-23.8zM1486.8,345.8h23.8v23.8h-23.8zM1487.8,341.0h23.8v23.8h-23.8zM1488.7,343.6h23.8v23.8h-23.8zM1489.7,341.5h23.8v23.8h-23.8zM1490.7,339.1h23.8v23.8h-23.8zM1491.7,341.8h23.8v23.8h-23.8zM1492.6,338.8h23.8v23.8h-23.8zM1493.6,351.1h23.8v23.8h-23.8zM1494.6,349.2h23.8v23.8h-23.8zM1495.5,348.3h23.8v23.8h-23.8zM1496.5,341.7h23.8v23.8h-23.8zM1497.5,349.8h23.8v23.8h-23.8zM1498.5,339.8h23.8v23.8h-23.8zM1499.4,348.5h23.8v23.8h-23.8zM1500.4,351.7h23.8v23.8h-23.8zM1501.4,349.0h23.8v23.8h-23.8zM1502.3,336.9h23.8v23.8h-23.8zM1503.3,345.6h23.8v23.8h-23.8zM1504.3,342.1h23.8v23.8h-23.8zM1505.3,347.5h23.8v23.8h-23.8zM1506.2,345.1h23.8v23.8h-23.8zM1507.2,335.7h23.8v23.8h-23.8zM1508.2,347.2h23.8v23.8h-23.8zM1509.1,352.1h23.8v23.8h-23.8zM1510.1,346.7h23.8v23.8h-23.8zM1511.1,348.0h23.8v23.8h-23.8zM1512.0,345.6h23.8v23.8h-23.8zM1513.0,347.2h23.8v23.8h-23.8zM1514.0,342.9h23.8v23.8h-23.8zM1515.0,352.1h23.8v23.8h-23.8zM1515.9,354.9h23.8v23.8h-23.8zM1516.9,342.5h23.8v23.8h-23.8zM1517.9,349.8h23.8v23.8h-23.8zM1518.8,344.1h23.8v23.8h-23.8zM1519.8,352.5h23.8v23.8h-23.8zM1520.8,346.9h23.8v23.8h-23.8zM1521.8,349.5h23.8v23.8h-23.8zM1522.7,345.3h23.8v23.8h-23.8zM1523.7,350.7h23.8v23.8h-23.8zM1524.7,349.5h23.8v23.8h-23.8zM1525.6,347.9h23.8v23.8h-23.8zM1526.6,348.8h23.8v23.8h-23.8zM1527.6,340.5h23.8v23.8h-23.8zM1528.6,350.2h23.8v23.8h-23.8zM1529.5,342.5h23.8v23.8h-23.8zM1530.5,344.4h23.8v23.8h-23.8zM1531.5,347.0h23.8v23.8h-23.8zM1532.4,349.9h23.8v23.8h-23.8zM1533.4,350.6h23.8v23.8h-23.8zM1534.4,348.2h23.8v23.8h-23.8zM1535.4,348.1h23.8v23.8h-23.8zM1536.3,350.1h23.8v23.8h-23.8zM1537.3,343.8h23.8v23.8h-23.8zM1538.3,347.5h23.8v23.8h-23.8zM1539.2,344.6h23.8v23.8h-23.8zM1540.2,340.2h23.8v23.8h-23.8zM1541.2,342.6h23.8v23.8h-23.8zM1542.2,352.2h23.8v23.8h-23.8zM1543.1,345.1h23.8v23.8h-23.8zM1544.1,340.6h23.8v23.8h-23.8zM1545.1,348.3h23.8v23.8h-23.8zM1546.0,345.2h23.8v23.8h-23.8zM1547.0,345.8h23.8v23.8h-23.8zM1548.0,346.5h23.8v23.8h-23.8zM1548.9,350.6h23.8v23.8h-23.8zM1549.9,348.9h23.8v23.8h-23.8zM1550.9,347.5h23.8v23.8h-23.8zM1551.9,349.1h23.8v23.8h-23.8zM1552.8,347.9h23.8v23.8h-23.8zM1553.8,349.9h23.8v23.8h-23.8zM1554.8,351.6h23.8v23.8h-23.8zM1555.7,348.3h23.8v23.8h-23.8zM1556.7,357.4h23.8v23.8h-23.8zM1557.7,344.4h23.8v23.8h-23.8zM1558.7,346.7h23.8v23.8h-23.8zM1559.6,348.2h23.8v23.8h-23.8zM1560.6,355.1h23.8v23.8h-23.8zM1561.6,353.8h23.8v23.8h-23.8zM1562.5,351.1h23.8v23.8h-23.8zM1563.5,346.0h23.8v23.8h-23.8zM1564.5,351.7h23.8v23.8h-23.8zM1565.5,349.6h23.8v23.8h-23.8zM1566.4,348.6h23.8v23.8h-23.8zM1567.4,355.6h23.8v23.8h-23.8zM1568.4,364.3h23.8v23.8h-23.8zM1569.3,351.8h23.8v23.8h-23.8zM1570.3,347.5h23.8v23.8h-23.8zM1571.3,351.6h23.8v23.8h-23.8zM1572.3,346.0h23.8v23.8h-23.8zM1573.2,343.7h23.8v23.8h-23.8zM1574.2,342.0h23.8v23.8h-23.8zM1575.2,349.2h23.8v23.8h-23.8zM1576.1,348.9h23.8v23.8h-23.8zM1577.1,346.8h23.8v23.8h-23.8zM1578.1,347.9h23.8v23.8h-23.8zM1579.0,348.8h23.8v23.8h-23.8zM1580.0,345.4h23.8v23.8h-23.8zM1581.0,352.1h23.8v23.8h-23.8zM1582.0,357.9h23.8v23.8h-23.8zM1582.9,349.5h23.8v23.8h-23.8zM1583.9,342.6h23.8v23.8h-23.8zM1584.9,350.4h23.8v23.8h-23.8zM1585.8,351.7h23.8v23.8h-23.8zM1586.8,353.8h23.8v23.8h-23.8zM1587.8,356.1h23.8v23.8h-23.8zM1588.8,355.0h23.8v23.8h-23.8zM1589.7,356.4h23.8v23.8h-23.8zM1590.7,351.2h23.8v23.8h-23.8zM1591.7,353.3h23.8v23.8h-23.8zM1592.6,348.3h23.8v23.8h-23.8zM1593.6,349.4h23.8v23.8h-23.8zM1594.6,355.6h23.8v23.8h-23.8zM1595.6,350.8h23.8v23.8h-23.8zM1596.5,344.8h23.8v23.8h-23.8zM1597.5,342.5h23.8v23.8h-23.8zM1598.5,355.5h23.8v23.8h-23.8zM1599.4,350.3h23.8v23.8h-23.8zM1600.4,349.5h23.8v23.8h-23.8zM1601.4,348.3h23.8v23.8h-23.8zM1602.4,354.3h23.8v23.8h-23.8zM1603.3,351.9h23.8v23.8h-23.8zM1604.3,349.8h23.8v23.8h-23.8zM1605.3,351.0h23.8v23.8h-23.8zM1606.2,351.7h23.8v23.8h-23.8zM1607.2,357.2h23.8v23.8h-23.8zM1608.2,353.7h23.8v23.8h-23.8zM1609.2,359.4h23.8v23.8h-23.8zM1610.1,343.4h23.8v23.8h-23.8zM1611.1,349.4h23.8v23.8h-23.8zM1612.1,357.2h23.8v23.8h-23.8zM1613.0,349.5h23.8v23.8h-23.8zM1614.0,352.3h23.8v23.8h-23.8zM1615.0,351.5h23.8v23.8h-23.8zM1615.9,354.4h23.8v23.8h-23.8zM1616.9,355.1h23.8v23.8h-23.8zM1617.9,363.6h23.8v23.8h-23.8zM1618.9,358.8h23.8v23.8h-23.8zM1619.8,354.7h23.8v23.8h-23.8zM1620.8,356.6h23.8v23.8h-23.8zM1621.8,356.7h23.8v23.8h-23.8zM1622.7,354.0h23.8v23.8h-23.8zM1623.7,351.0h23.8v23.8h-23.8zM1624.7,356.6h23.8v23.8h-23.8zM1625.7,357.8h23.8v23.8h-23.8zM1626.6,350.9h23.8v23.8h-23.8zM1627.6,353.3h23.8v23.8h-23.8zM1628.6,356.8h23.8v23.8h-23.8zM1629.5,356.7h23.8v23.8h-23.8zM1630.5,363.7h23.8v23.8h-23.8zM1631.5,353.6h23.8v23.8h-23.8zM1632.5,351.3h23.8v23.8h-23.8zM1633.4,360.0h23.8v23.8h-23.8zM1634.4,349.8h23.8v23.8h-23.8zM1635.4,354.0h23.8v23.8h-23.8zM1636.3,345.3h23.8v23.8h-23.8zM1637.3,357.7h23.8v23.8h-23.8zM1638.3,367.7h23.8v23.8h-23.8zM1639.3,353.2h23.8v23.8h-23.8zM1640.2,353.6h23.8v23.8h-23.8zM1641.2,358.6h23.8v23.8h-23.8zM1642.2,365.9h23.8v23.8h-23.8zM1643.1,346.9h23.8v23.8h-23.8zM1644.1,354.3h23.8v23.8h-23.8zM1645.1,356.3h23.8v23.8h-23.8zM1646.1,355.8h23.8v23.8h-23.8zM1647.0,357.2h23.8v23.8h-23.8zM1648.0,354.8h23.8v23.8h-23.8zM1649.0,354.4h23.8v23.8h-23.8zM1649.9,349.8h23.8v23.8h-23.8zM1650.9,365.1h23.8v23.8h-23.8zM1651.9,356.0h23.8v23.8h-23.8zM1652.8,362.2h23.8v23.8h-23.8zM1653.8,355.6h23.8v23.8h-23.8zM1654.8,356.7h23.8v23.8h-23.8zM1655.8,355.3h23.8v23.8h-23.8zM1656.7,359.4h23.8v23.8h-23.8zM1657.7,356.5h23.8v23.8h-23.8zM1658.7,347.7h23.8v23.8h-23.8zM1659.6,352.4h23.8v23.8h-23.8zM1660.6,357.5h23.8v23.8h-23.8zM1661.6,348.7h23.8v23.8h-23.8zM1662.6,348.1h23.8v23.8h-23.8zM1663.5,347.7h23.8v23.8h-23.8zM1664.5,355.2h23.8v23.8h-23.8zM1665.5,351.4h23.8v23.8h-23.8zM1666.4,360.0h23.8v23.8h-23.8zM1667.4,348.2h23.8v23.8h-23.8zM1668.4,357.4h23.8v23.8h-23.8zM1669.4,358.2h23.8v23.8h-23.8zM1670.3,351.0h23.8v23.8h-23.8zM1671.3,350.7h23.8v23.8h-23.8zM1672.3,352.1h23.8v23.8h-23.8zM1673.2,357.6h23.8v23.8h-23.8zM1674.2,354.8h23.8v23.8h-23.8zM1675.2,354.7h23.8v23.8h-23.8zM1676.2,358.6h23.8v23.8h-23.8zM1677.1,363.6h23.8v23.8h-23.8zM1678.1,353.6h23.8v23.8h-23.8zM1679.1,350.3h23.8v23.8h-23.8zM1680.0,356.4h23.8v23.8h-23.8zM1681.0,356.6h23.8v23.8h-23.8zM1682.0,364.5h23.8v23.8h-23.8zM1683.0,362.6h23.8v23.8h-23.8zM1683.9,358.6h23.8v23.8h-23.8zM1684.9,353.6h23.8v23.8h-23.8zM1685.9,365.6h23.8v23.8h-23.8zM1686.8,354.7h23.8v23.8h-23.8zM1687.8,364.4h23.8v23.8h-23.8zM1688.8,361.5h23.8v23.8h-23.8zM1689.7,364.0h23.8v23.8h-23.8zM1690.7,354.8h23.8v23.8h-23.8zM1691.7,378.4h23.8v23.8h-23.8zM1692.7,365.0h23.8v23.8h-23.8zM1693.6,357.4h23.8v23.8h-23.8zM1694.6,357.9h23.8v23.8h-23.8zM1695.6,347.8h23.8v23.8h-23.8zM1696.5,360.8h23.8v23.8h-23.8zM1697.5,362.4h23.8v23.8h-23.8zM1698.5,353.7h23.8v23.8h-23.8zM1699.5,358.9h23.8v23.8h-23.8zM1700.4,352.4h23.8v23.8h-23.8zM1701.4,356.7h23.8v23.8h-23.8zM1702.4,355.3h23.8v23.8h-23.8zM1703.3,359.2h23.8v23.8h-23.8zM1704.3,361.8h23.8v23.8h-23.8zM1705.3,356.5h23.8v23.8h-23.8zM1706.3,361.2h23.8v23.8h-23.8zM1707.2,364.2h23.8v23.8h-23.8zM1708.2,370.9h23.8v23.8h-23.8zM1709.2,365.5h23.8v23.8h-23.8zM1710.1,372.5h23.8v23.8h-23.8zM1711.1,351.8h23.8v23.8h-23.8zM1712.1,354.1h23.8v23.8h-23.8zM1713.1,351.8h23.8v23.8h-23.8zM1714.0,358.6h23.8v23.8h-23.8zM1715.0,355.6h23.8v23.8h-23.8zM1716.0,355.8h23.8v23.8h-23.8zM1716.9,359.0h23.8v23.8h-23.8zM1717.9,362.6h23.8v23.8h-23.8zM1718.9,353.1h23.8v23.8h-23.8zM1719.9,359.4h23.8v23.8h-23.8zM1720.8,358.4h23.8v23.8h-23.8zM1721.8,357.4h23.8v23.8h-23.8zM1722.8,366.3h23.8v23.8h-23.8zM1723.7,347.5h23.8v23.8h-23.8zM1724.7,355.4h23.8v23.8h-23.8zM1725.7,355.0h23.8v23.8h-23.8zM1726.6,355.6h23.8v23.8h-23.8zM1727.6,355.5h23.8v23.8h-23.8zM1728.6,353.7h23.8v23.8h-23.8zM1729.6,354.7h23.8v23.8h-23.8zM1730.5,361.9h23.8v23.8h-23.8zM1731.5,361.5h23.8v23.8h-23.8zM1732.5,350.3h23.8v23.8h-23.8zM1733.4,346.7h23.8v23.8h-23.8zM1734.4,354.2h23.8v23.8h-23.8zM1735.4,347.3h23.8v23.8h-23.8zM1736.4,359.5h23.8v23.8h-23.8zM1737.3,359.9h23.8v23.8h-23.8zM1738.3,346.2h23.8v23.8h-23.8zM1739.3,361.6h23.8v23.8h-23.8zM1740.2,357.4h23.8v23.8h-23.8zM1741.2,351.3h23.8v23.8h-23.8zM1742.2,365.1h23.8v23.8h-23.8zM1743.2,372.8h23.8v23.8h-23.8zM1744.1,358.0h23.8v23.8h-23.8zM1745.1,360.5h23.8v23.8h-23.8zM1746.1,352.4h23.8v23.8h-23.8zM1747.0,362.0h23.8v23.8h-23.8zM1748.0,356.6h23.8v23.8h-23.8zM1749.0,363.4h23.8v23.8h-23.8zM1750.0,358.3h23.8v23.8h-23.8zM1750.9,361.6h23.8v23.8h-23.8zM1751.9,356.2h23.8v23.8h-23.8zM1752.9,350.3h23.8v23.8h-23.8zM1753.8,362.2h23.8v23.8h-23.8zM1754.8,371.2h23.8v23.8h-23.8zM1755.8,344.2h23.8v23.8h-23.8zM1756.8,361.7h23.8v23.8h-23.8zM1757.7,353.3h23.8v23.8h-23.8zM1758.7,350.6h23.8v23.8h-23.8zM1759.7,361.4h23.8v23.8h-23.8zM1760.6,359.0h23.8v23.8h-23.8zM1761.6,362.7h23.8v23.8h-23.8zM1762.6,362.5h23.8v23.8h-23.8z"/>
</g>
<g clip-path="url(#pc)" fill="none" stroke="#ff0000" stroke-width="4.4" stroke-linejoin="round">
<path d="M311.3,227.7 L311.3,227.6 L311.3,227.1 L311.4,226.3 L311.5,225.2 L311.5,224.0 L311.7,222.8 L311.8,221.9 L312.0,221.4 L312.2,221.6 L312.4,222.7 L312.7,224.8 L313.0,228.1 L313.3,232.7 L313.7,238.5 L314.1,245.7 L314.5,254.0 L315.0,263.4 L315.4,273.8 L316.0,285.1 L316.5,297.1 L317.1,309.7 L317.7,322.8 L318.4,336.3 L319.1,350.0 L319.8,363.9 L320.6,377.8 L321.4,391.8 L322.3,405.8 L323.1,419.7 L324.1,433.4 L325.0,447.0 L326.0,460.3 L327.0,473.4 L328.1,486.2 L329.2,498.7 L330.4,510.9 L331.5,522.8 L332.8,534.3 L334.0,545.4 L335.3,556.3 L336.7,566.7 L338.0,576.8 L339.5,586.6 L340.9,596.0 L342.4,605.1 L344.0,613.9 L345.5,622.4 L347.2,630.5 L348.8,638.4 L350.5,646.1 L352.3,653.5 L354.1,660.6 L355.9,667.6 L357.8,674.3 L359.7,680.9 L361.7,687.3 L363.7,693.5 L365.7,699.6 L367.8,705.6 L369.9,711.4 L372.1,717.1 L374.3,722.8 L376.6,728.3 L378.9,733.8 L381.2,739.2 L383.6,744.5 L386.0,749.7 L388.5,754.9 L391.0,760.0 L393.6,765.1 L396.2,770.1 L398.8,775.1 L401.5,780.0 L404.3,784.9 L407.1,789.8 L409.9,794.6 L412.8,799.3 L415.7,804.1 L418.7,808.7 L421.7,813.4 L424.7,818.0 L427.8,822.5 L431.0,827.0 L434.2,831.5 L437.4,835.9 L440.7,840.3 L444.0,844.6 L447.4,848.9 L450.8,853.1 L454.3,857.3 L457.8,861.5 L461.4,865.6 L465.0,869.6 L468.7,873.6 L472.4,877.6 L476.1,881.5 L479.9,885.4 L483.8,889.2 L487.7,892.9 L491.6,896.6 L495.6,900.3 L499.6,903.9 L503.7,907.5 L507.9,911.0 L512.1,914.5 L516.3,917.9 L520.6,921.2 L524.9,924.6 L529.3,927.8 L533.7,931.1 L538.2,934.2 L542.7,937.4 L547.2,940.5 L551.9,943.5 L556.5,946.5 L561.2,949.5 L566.0,952.4 L570.8,955.2 L575.7,958.1 L580.6,960.8 L585.6,963.6 L590.6,966.3 L595.6,968.9 L600.7,971.5 L605.9,974.1 L611.1,976.7 L616.4,979.2 L621.7,981.6 L627.0,984.0 L632.5,986.4 L637.9,988.8 L643.4,991.1 L649.0,993.4 L654.6,995.6 L660.3,997.8 L666.0,1000.0 L671.7,1002.2 L677.6,1004.3 L683.4,1006.4 L689.3,1008.4 L695.3,1010.4 L701.3,1012.4 L707.4,1014.4 L713.5,1016.3 L719.7,1018.2 L725.9,1020.1 L732.2,1021.9 L738.5,1023.7 L744.9,1025.5 L751.3,1027.3 L757.8,1029.0 L764.3,1030.7 L770.9,1032.4 L777.5,1034.1 L784.2,1035.7 L790.9,1037.3 L797.7,1038.9 L804.6,1040.4 L811.5,1042.0 L818.4,1043.5 L825.4,1044.9 L832.5,1046.4 L839.6,1047.8 L846.7,1049.2 L853.9,1050.6 L861.2,1052.0 L868.5,1053.3 L875.9,1054.7 L883.3,1056.0 L890.8,1057.2 L898.3,1058.5 L905.9,1059.7 L913.5,1061.0 L921.2,1062.1 L928.9,1063.3 L936.7,1064.5 L944.6,1065.6 L952.5,1066.7 L960.4,1067.8 L968.4,1068.9 L976.5,1069.9 L984.6,1071.0 L992.8,1072.0 L1001.0,1073.0 L1009.2,1074.0 L1017.6,1074.9 L1026.0,1075.9 L1034.4,1076.8 L1042.9,1077.7 L1051.4,1078.6 L1060.0,1079.5 L1068.7,1080.3 L1077.4,1081.2 L1086.1,1082.0 L1094.9,1082.8 L1103.8,1083.6 L1112.7,1084.4 L1121.7,1085.1 L1130.7,1085.9 L1139.8,1086.6 L1149.0,1087.3 L1158.2,1088.0 L1167.4,1088.7 L1176.7,1089.3 L1186.1,1090.0 L1195.5,1090.6 L1205.0,1091.3 L1214.5,1091.9 L1224.1,1092.5 L1233.7,1093.0 L1243.4,1093.6 L1253.2,1094.2 L1263.0,1094.7 L1272.8,1095.2 L1282.7,1095.8 L1292.7,1096.3 L1302.7,1096.8 L1312.8,1097.2 L1322.9,1097.7 L1333.1,1098.2 L1343.4,1098.6 L1353.7,1099.1 L1364.0,1099.5 L1374.4,1099.9 L1384.9,1100.3 L1395.4,1100.7 L1406.0,1101.1 L1416.7,1101.5 L1427.3,1101.8 L1438.1,1102.2 L1448.9,1102.5 L1459.8,1102.9 L1470.7,1103.2 L1481.7,1103.5 L1492.7,1103.8 L1503.8,1104.1 L1514.9,1104.4 L1526.1,1104.7 L1537.4,1105.0 L1548.7,1105.2 L1560.1,1105.5 L1571.5,1105.8 L1583.0,1106.0 L1594.5,1106.2 L1606.1,1106.5 L1617.8,1106.7 L1629.5,1106.9 L1641.3,1107.1 L1653.1,1107.3 L1665.0,1107.5 L1676.9,1107.7 L1688.9,1107.9 L1701.0,1108.1 L1713.1,1108.3 L1725.2,1108.5 L1737.5,1108.6 L1749.8,1108.8 L1762.1,1108.9 L1774.5,1109.1"/>
<path d="M311.3,227.7 L311.3,227.7 L311.3,227.7 L311.4,227.8 L311.5,227.8 L311.5,227.9 L311.7,227.9 L311.8,228.0 L312.0,228.2 L312.2,228.3 L312.4,228.5 L312.7,228.7 L313.0,228.9 L313.3,229.1 L313.7,229.4 L314.1,229.7 L314.5,230.0 L315.0,230.4 L315.4,230.8 L316.0,231.3 L316.5,231.8 L317.1,232.3 L317.7,232.9 L318.4,233.6 L319.1,234.3 L319.8,235.0 L320.6,235.8 L321.4,236.7 L322.3,237.6 L323.1,238.6 L324.1,239.7 L325.0,240.8 L326.0,242.0 L327.0,243.2 L328.1,244.6 L329.2,246.0 L330.4,247.5 L331.5,249.1 L332.8,250.7 L334.0,252.4 L335.3,254.2 L336.7,256.1 L338.0,258.1 L339.5,260.1 L340.9,262.3 L342.4,264.5 L344.0,266.8 L345.5,269.1 L347.2,271.6 L348.8,274.1 L350.5,276.7 L352.3,279.4 L354.1,282.1 L355.9,284.9 L357.8,287.8 L359.7,290.8 L361.7,293.8 L363.7,296.9 L365.7,300.1 L367.8,303.3 L369.9,306.6 L372.1,310.0 L374.3,313.4 L376.6,316.8 L378.9,320.3 L381.2,323.9 L383.6,327.5 L386.0,331.2 L388.5,334.9 L391.0,338.7 L393.6,342.4 L396.2,346.3 L398.8,350.1 L401.5,354.1 L404.3,358.0 L407.1,362.0 L409.9,366.0 L412.8,370.0 L415.7,374.1 L418.7,378.1 L421.7,382.3 L424.7,386.4 L427.8,390.5 L431.0,394.7 L434.2,398.9 L437.4,403.1 L440.7,407.3 L444.0,411.5 L447.4,415.7 L450.8,420.0 L454.3,424.2 L457.8,428.5 L461.4,432.8 L465.0,437.0 L468.7,441.3 L472.4,445.6 L476.1,449.9 L479.9,454.1 L483.8,458.4 L487.7,462.7 L491.6,466.9 L495.6,471.2 L499.6,475.4 L503.7,479.7 L507.9,483.9 L512.1,488.1 L516.3,492.3 L520.6,496.5 L524.9,500.7 L529.3,504.9 L533.7,509.0 L538.2,513.1 L542.7,517.3 L547.2,521.4 L551.9,525.4 L556.5,529.5 L561.2,533.5 L566.0,537.6 L570.8,541.6 L575.7,545.5 L580.6,549.5 L585.6,553.4 L590.6,557.3 L595.6,561.2 L600.7,565.0 L605.9,568.9 L611.1,572.7 L616.4,576.4 L621.7,580.2 L627.0,583.9 L632.5,587.6 L637.9,591.2 L643.4,594.9 L649.0,598.5 L654.6,602.0 L660.3,605.6 L666.0,609.1 L671.7,612.5 L677.6,616.0 L683.4,619.4 L689.3,622.8 L695.3,626.1 L701.3,629.4 L707.4,632.7 L713.5,635.9 L719.7,639.2 L725.9,642.3 L732.2,645.5 L738.5,648.6 L744.9,651.7 L751.3,654.7 L757.8,657.8 L764.3,660.7 L770.9,663.7 L777.5,666.6 L784.2,669.5 L790.9,672.4 L797.7,675.2 L804.6,678.0 L811.5,680.7 L818.4,683.5 L825.4,686.2 L832.5,688.8 L839.6,691.5 L846.7,694.1 L853.9,696.7 L861.2,699.2 L868.5,701.7 L875.9,704.2 L883.3,706.7 L890.8,709.1 L898.3,711.5 L905.9,713.9 L913.5,716.2 L921.2,718.5 L928.9,720.8 L936.7,723.1 L944.6,725.3 L952.5,727.5 L960.4,729.7 L968.4,731.9 L976.5,734.0 L984.6,736.2 L992.8,738.2 L1001.0,740.3 L1009.2,742.4 L1017.6,744.4 L1026.0,746.4 L1034.4,748.4 L1042.9,750.3 L1051.4,752.3 L1060.0,754.2 L1068.7,756.1 L1077.4,757.9 L1086.1,759.8 L1094.9,761.6 L1103.8,763.5 L1112.7,765.3 L1121.7,767.1 L1130.7,768.8 L1139.8,770.6 L1149.0,772.3 L1158.2,774.1 L1167.4,775.8 L1176.7,777.5 L1186.1,779.2 L1195.5,780.8 L1205.0,782.5 L1214.5,784.1 L1224.1,785.7 L1233.7,787.4 L1243.4,789.0 L1253.2,790.6 L1263.0,792.2 L1272.8,793.7 L1282.7,795.3 L1292.7,796.9 L1302.7,798.4 L1312.8,799.9 L1322.9,801.5 L1333.1,803.0 L1343.4,804.5 L1353.7,806.0 L1364.0,807.5 L1374.4,809.0 L1384.9,810.5 L1395.4,812.0 L1406.0,813.5 L1416.7,814.9 L1427.3,816.4 L1438.1,817.9 L1448.9,819.3 L1459.8,820.8 L1470.7,822.2 L1481.7,823.7 L1492.7,825.1 L1503.8,826.6 L1514.9,828.0 L1526.1,829.4 L1537.4,830.9 L1548.7,832.3 L1560.1,833.7 L1571.5,835.2 L1583.0,836.6 L1594.5,838.0 L1606.1,839.4 L1617.8,840.9 L1629.5,842.3 L1641.3,843.7 L1653.1,845.1 L1665.0,846.6 L1676.9,848.0 L1688.9,849.4 L1701.0,850.9 L1713.1,852.3 L1725.2,853.7 L1737.5,855.2 L1749.8,856.6 L1762.1,858.0 L1774.5,859.5"/>
<path d="M311.3,227.7 L311.3,227.7 L311.3,227.7 L311.4,227.7 L311.5,227.7 L311.5,227.7 L311.7,227.7 L311.8,227.8 L312.0,227.8 L312.2,227.8 L312.4,227.8 L312.7,227.9 L313.0,227.9 L313.3,227.9 L313.7,228.0 L314.1,228.0 L314.5,228.1 L315.0,228.1 L315.4,228.2 L316.0,228.2 L316.5,228.3 L317.1,228.3 L317.7,228.4 L318.4,228.5 L319.1,228.6 L319.8,228.7 L320.6,228.7 L321.4,228.8 L322.3,228.9 L323.1,229.0 L324.1,229.1 L325.0,229.2 L326.0,229.3 L327.0,229.5 L328.1,229.6 L329.2,229.7 L330.4,229.8 L331.5,230.0 L332.8,230.1 L334.0,230.2 L335.3,230.4 L336.7,230.5 L338.0,230.7 L339.5,230.8 L340.9,231.0 L342.4,231.2 L344.0,231.3 L345.5,231.5 L347.2,231.7 L348.8,231.9 L350.5,232.1 L352.3,232.3 L354.1,232.5 L355.9,232.7 L357.8,232.9 L359.7,233.1 L361.7,233.3 L363.7,233.5 L365.7,233.8 L367.8,234.0 L369.9,234.2 L372.1,234.5 L374.3,234.7 L376.6,235.0 L378.9,235.2 L381.2,235.5 L383.6,235.7 L386.0,236.0 L388.5,236.3 L391.0,236.6 L393.6,236.9 L396.2,237.1 L398.8,237.4 L401.5,237.7 L404.3,238.0 L407.1,238.4 L409.9,238.7 L412.8,239.0 L415.7,239.3 L418.7,239.6 L421.7,240.0 L424.7,240.3 L427.8,240.7 L431.0,241.0 L434.2,241.4 L437.4,241.7 L440.7,242.1 L444.0,242.5 L447.4,242.8 L450.8,243.2 L454.3,243.6 L457.8,244.0 L461.4,244.4 L465.0,244.8 L468.7,245.2 L472.4,245.6 L476.1,246.0 L479.9,246.4 L483.8,246.9 L487.7,247.3 L491.6,247.7 L495.6,248.2 L499.6,248.6 L503.7,249.1 L507.9,249.5 L512.1,250.0 L516.3,250.4 L520.6,250.9 L524.9,251.4 L529.3,251.9 L533.7,252.4 L538.2,252.9 L542.7,253.4 L547.2,253.9 L551.9,254.4 L556.5,254.9 L561.2,255.4 L566.0,255.9 L570.8,256.5 L575.7,257.0 L580.6,257.5 L585.6,258.1 L590.6,258.6 L595.6,259.2 L600.7,259.7 L605.9,260.3 L611.1,260.9 L616.4,261.5 L621.7,262.1 L627.0,262.6 L632.5,263.2 L637.9,263.8 L643.4,264.4 L649.0,265.0 L654.6,265.7 L660.3,266.3 L666.0,266.9 L671.7,267.5 L677.6,268.2 L683.4,268.8 L689.3,269.5 L695.3,270.1 L701.3,270.8 L707.4,271.4 L713.5,272.1 L719.7,272.8 L725.9,273.5 L732.2,274.2 L738.5,274.8 L744.9,275.5 L751.3,276.2 L757.8,277.0 L764.3,277.7 L770.9,278.4 L777.5,279.1 L784.2,279.8 L790.9,280.6 L797.7,281.3 L804.6,282.1 L811.5,282.8 L818.4,283.6 L825.4,284.3 L832.5,285.1 L839.6,285.9 L846.7,286.6 L853.9,287.4 L861.2,288.2 L868.5,289.0 L875.9,289.8 L883.3,290.6 L890.8,291.4 L898.3,292.2 L905.9,293.1 L913.5,293.9 L921.2,294.7 L928.9,295.6 L936.7,296.4 L944.6,297.3 L952.5,298.1 L960.4,299.0 L968.4,299.8 L976.5,300.7 L984.6,301.6 L992.8,302.5 L1001.0,303.3 L1009.2,304.2 L1017.6,305.1 L1026.0,306.0 L1034.4,307.0 L1042.9,307.9 L1051.4,308.8 L1060.0,309.7 L1068.7,310.6 L1077.4,311.6 L1086.1,312.5 L1094.9,313.5 L1103.8,314.4 L1112.7,315.4 L1121.7,316.3 L1130.7,317.3 L1139.8,318.3 L1149.0,319.3 L1158.2,320.2 L1167.4,321.2 L1176.7,322.2 L1186.1,323.2 L1195.5,324.2 L1205.0,325.3 L1214.5,326.3 L1224.1,327.3 L1233.7,328.3 L1243.4,329.4 L1253.2,330.4 L1263.0,331.4 L1272.8,332.5 L1282.7,333.6 L1292.7,334.6 L1302.7,335.7 L1312.8,336.8 L1322.9,337.8 L1333.1,338.9 L1343.4,340.0 L1353.7,341.1 L1364.0,342.2 L1374.4,343.3 L1384.9,344.4 L1395.4,345.5 L1406.0,346.6 L1416.7,347.8 L1427.3,348.9 L1438.1,350.0 L1448.9,351.2 L1459.8,352.3 L1470.7,353.5 L1481.7,354.6 L1492.7,355.8 L1503.8,357.0 L1514.9,358.1 L1526.1,359.3 L1537.4,360.5 L1548.7,361.7 L1560.1,362.9 L1571.5,364.1 L1583.0,365.3 L1594.5,366.5 L1606.1,367.7 L1617.8,368.9 L1629.5,370.2 L1641.3,371.4 L1653.1,372.6 L1665.0,373.9 L1676.9,375.1 L1688.9,376.4 L1701.0,377.6 L1713.1,378.9 L1725.2,380.2 L1737.5,381.5 L1749.8,382.7 L1762.1,384.0 L1774.5,385.3"/>
</g>
<rect x="704.4" y="81.3" width="25.2" height="24.8" fill="#0000ff"/>
<rect x="1158.1" y="81.3" width="25.2" height="24.8" fill="#00ff00"/>
<rect x="704.4" y="203.4" width="25.2" height="24.8" fill="#ff0080"/>
<line x1="1149.3" y1="214.6" x2="1302.6" y2="214.6" stroke="#ff0000" stroke-width="8"/>
<g font-family="'Liberation Sans', Arial, sans-serif" fill="#000">
<text transform="translate(804.13,113.60) scale(0.9795,1)" font-size="83.2">CsPbCl<tspan font-size="51.0" dx="-0.93" dy="5.40">3</tspan></text>
<text transform="translate(1258.00,113.60) scale(0.9854,1)" font-size="83.2">CsPbBr<tspan font-size="51.0" dx="-2.07" dy="5.40">3</tspan></text>
<text transform="translate(803.90,236.30) scale(0.9862,1)" font-size="83.2">CsPbI<tspan font-size="50.5" dx="-1.14" dy="4.90">3</tspan></text>
<text transform="translate(1329.41,242.30) scale(0.9808,1)" font-size="86.5">Fitted</text>
<text transform="translate(137.66,1297.70) scale(0.9999,1)" font-size="85.9">0</text>
<text transform="translate(437.65,1297.70) scale(0.9665,1)" font-size="85.9">20</text>
<text transform="translate(761.60,1297.70) scale(0.9757,1)" font-size="85.9">40</text>
<text transform="translate(1085.64,1297.70) scale(0.9677,1)" font-size="85.9">60</text>
<text transform="translate(1408.81,1297.70) scale(0.9799,1)" font-size="85.9">80</text>
<text transform="translate(1712.92,1297.70) scale(0.9433,1)" font-size="85.9">100</text>
<text transform="translate(720.93,1391.00) scale(0.9926,1)" font-size="107.5">Time (ns)</text>
<text transform="translate(114.6,1132.63) rotate(-90) scale(0.9807,1)" font-size="107.5">Norm. Intensity (a.u.)</text>
</g>
</svg>
</body></html>
